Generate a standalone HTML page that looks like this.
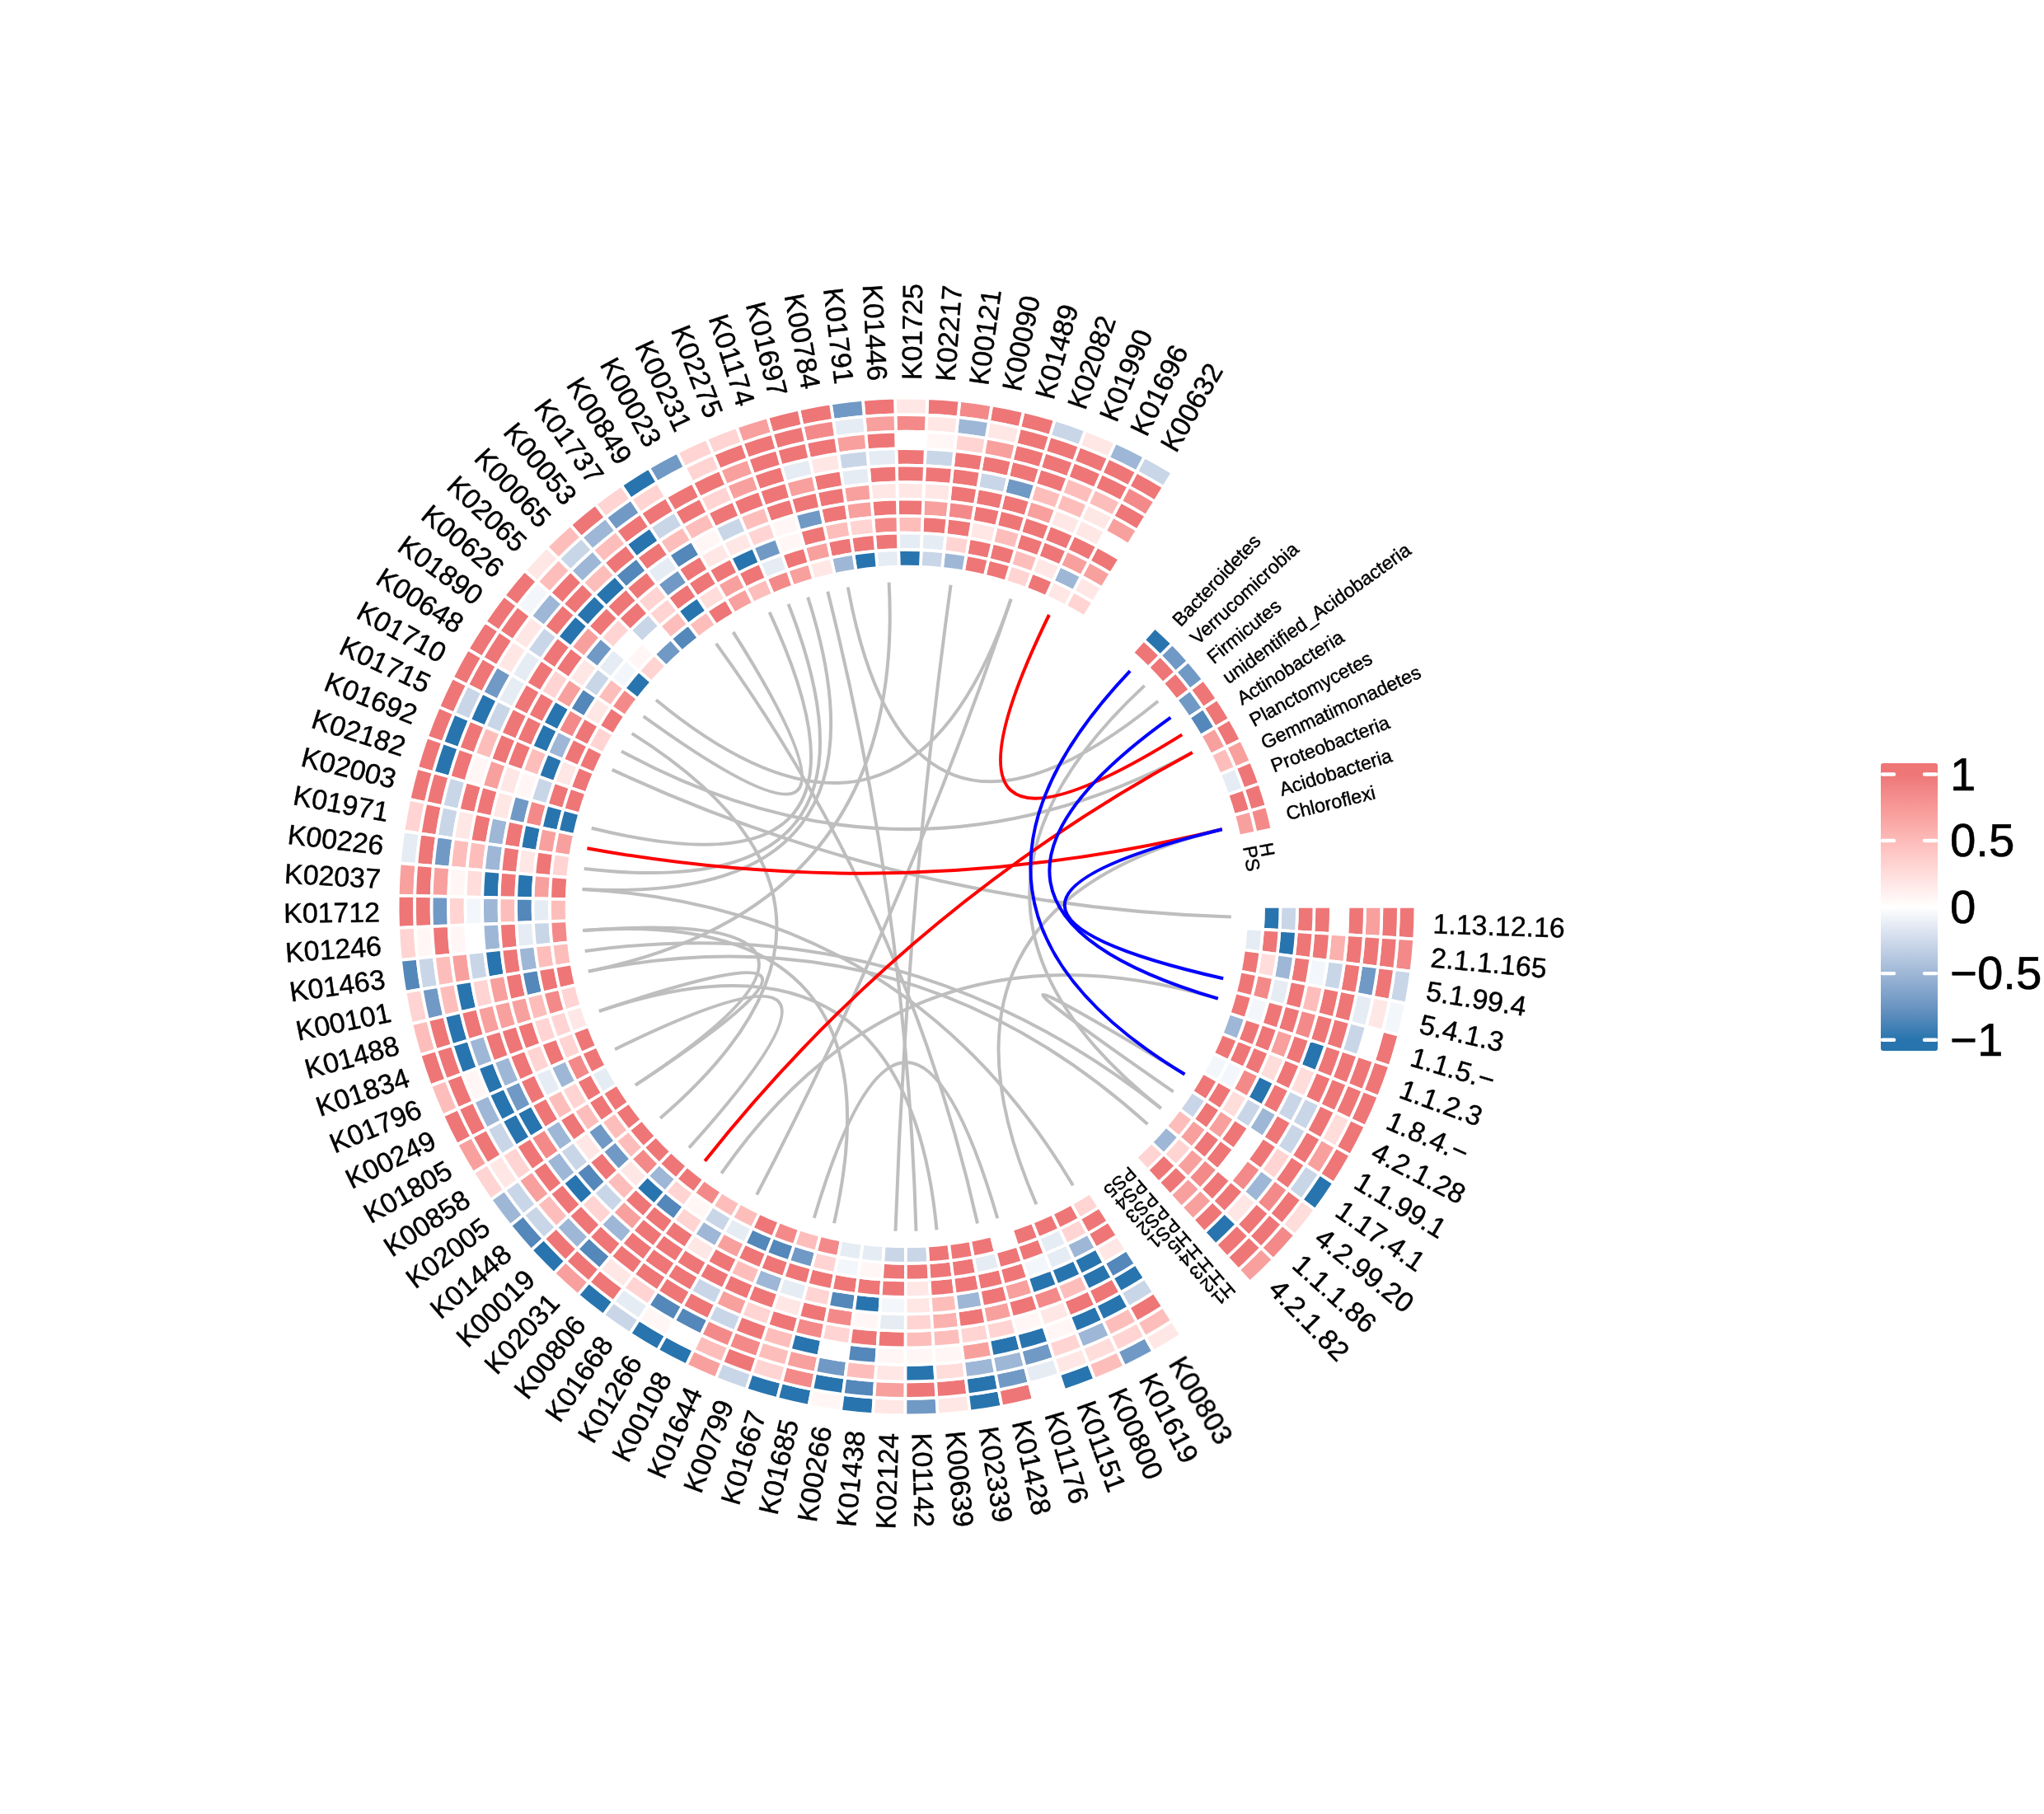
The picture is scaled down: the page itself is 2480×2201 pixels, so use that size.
<!DOCTYPE html>
<html><head><meta charset="utf-8"><title>circos heatmap</title>
<style>html,body{margin:0;padding:0;background:#fff;}body{width:2480px;height:2201px;overflow:hidden;font-family:"Liberation Sans",sans-serif;}svg{display:block;}text{text-rendering:geometricPrecision;}</style>
</head><body>
<svg width="2480" height="2201" viewBox="0 0 2480 2201">
<rect width="2480" height="2201" fill="#ffffff"/>
<g stroke="#ffffff" stroke-width="3.7" stroke-linejoin="miter">
<path d="M1411.88 591.06L1422.59 573.58A617.40 617.40 0 0 0 1388.48 554.14L1378.90 572.27A596.90 596.90 0 0 1 1411.88 591.06Z" fill="#c9d6e8"/>
<path d="M1401.17 608.54L1411.88 591.06A596.90 596.90 0 0 0 1378.90 572.27L1369.32 590.39A576.40 576.40 0 0 1 1401.17 608.54Z" fill="#ee7677"/>
<path d="M1390.46 626.02L1401.17 608.54A576.40 576.40 0 0 0 1369.32 590.39L1359.74 608.51A555.90 555.90 0 0 1 1390.46 626.02Z" fill="#f38a89"/>
<path d="M1379.75 643.50L1390.46 626.02A555.90 555.90 0 0 0 1359.74 608.51L1350.17 626.64A535.40 535.40 0 0 1 1379.75 643.50Z" fill="#ee7677"/>
<path d="M1369.03 660.98L1379.75 643.50A535.40 535.40 0 0 0 1350.17 626.64L1340.59 644.76A514.90 514.90 0 0 1 1369.03 660.98Z" fill="#f8a09e"/>
<path d="M1358.32 678.45L1369.03 660.98A514.90 514.90 0 0 0 1340.59 644.76L1331.01 662.89A494.40 494.40 0 0 1 1358.32 678.45Z" fill="#ffffff"/>
<path d="M1347.61 695.93L1358.32 678.45A494.40 494.40 0 0 0 1331.01 662.89L1321.43 681.01A473.90 473.90 0 0 1 1347.61 695.93Z" fill="#ee7677"/>
<path d="M1336.90 713.41L1347.61 695.93A473.90 473.90 0 0 0 1321.43 681.01L1311.85 699.14A453.40 453.40 0 0 1 1336.90 713.41Z" fill="#f8a09e"/>
<path d="M1326.19 730.89L1336.90 713.41A453.40 453.40 0 0 0 1311.85 699.14L1302.27 717.26A432.90 432.90 0 0 1 1326.19 730.89Z" fill="#ffe7e5"/>
<path d="M1315.48 748.37L1326.19 730.89A432.90 432.90 0 0 0 1302.27 717.26L1292.69 735.39A412.40 412.40 0 0 1 1315.48 748.37Z" fill="#ffd4d2"/>
<path d="M1378.90 572.27L1388.48 554.14A617.40 617.40 0 0 0 1353.20 536.91L1344.80 555.61A596.90 596.90 0 0 1 1378.90 572.27Z" fill="#9eb7d6"/>
<path d="M1369.32 590.39L1378.90 572.27A596.90 596.90 0 0 0 1344.80 555.61L1336.39 574.30A576.40 576.40 0 0 1 1369.32 590.39Z" fill="#ee7677"/>
<path d="M1359.74 608.51L1369.32 590.39A576.40 576.40 0 0 0 1336.39 574.30L1327.98 593.00A555.90 555.90 0 0 1 1359.74 608.51Z" fill="#ee7677"/>
<path d="M1350.17 626.64L1359.74 608.51A555.90 555.90 0 0 0 1327.98 593.00L1319.57 611.70A535.40 535.40 0 0 1 1350.17 626.64Z" fill="#fdbebb"/>
<path d="M1340.59 644.76L1350.17 626.64A535.40 535.40 0 0 0 1319.57 611.70L1311.17 630.39A514.90 514.90 0 0 1 1340.59 644.76Z" fill="#ffe7e5"/>
<path d="M1331.01 662.89L1340.59 644.76A514.90 514.90 0 0 0 1311.17 630.39L1302.76 649.09A494.40 494.40 0 0 1 1331.01 662.89Z" fill="#ffe7e5"/>
<path d="M1321.43 681.01L1331.01 662.89A494.40 494.40 0 0 0 1302.76 649.09L1294.35 667.79A473.90 473.90 0 0 1 1321.43 681.01Z" fill="#ee7677"/>
<path d="M1311.85 699.14L1321.43 681.01A473.90 473.90 0 0 0 1294.35 667.79L1285.95 686.48A453.40 453.40 0 0 1 1311.85 699.14Z" fill="#f8a09e"/>
<path d="M1302.27 717.26L1311.85 699.14A453.40 453.40 0 0 0 1285.95 686.48L1277.54 705.18A432.90 432.90 0 0 1 1302.27 717.26Z" fill="#9eb7d6"/>
<path d="M1292.69 735.39L1302.27 717.26A432.90 432.90 0 0 0 1277.54 705.18L1269.13 723.88A412.40 412.40 0 0 1 1292.69 735.39Z" fill="#ffe7e5"/>
<path d="M1344.80 555.61L1353.20 536.91A617.40 617.40 0 0 0 1316.90 521.96L1309.70 541.15A596.90 596.90 0 0 1 1344.80 555.61Z" fill="#ffe7e5"/>
<path d="M1336.39 574.30L1344.80 555.61A596.90 596.90 0 0 0 1309.70 541.15L1302.50 560.34A576.40 576.40 0 0 1 1336.39 574.30Z" fill="#ee7677"/>
<path d="M1327.98 593.00L1336.39 574.30A576.40 576.40 0 0 0 1302.50 560.34L1295.30 579.54A555.90 555.90 0 0 1 1327.98 593.00Z" fill="#ee7677"/>
<path d="M1319.57 611.70L1327.98 593.00A555.90 555.90 0 0 0 1295.30 579.54L1288.10 598.73A535.40 535.40 0 0 1 1319.57 611.70Z" fill="#fdbebb"/>
<path d="M1311.17 630.39L1319.57 611.70A535.40 535.40 0 0 0 1288.10 598.73L1280.89 617.92A514.90 514.90 0 0 1 1311.17 630.39Z" fill="#fdbebb"/>
<path d="M1302.76 649.09L1311.17 630.39A514.90 514.90 0 0 0 1280.89 617.92L1273.69 637.11A494.40 494.40 0 0 1 1302.76 649.09Z" fill="#ffe7e5"/>
<path d="M1294.35 667.79L1302.76 649.09A494.40 494.40 0 0 0 1273.69 637.11L1266.49 656.31A473.90 473.90 0 0 1 1294.35 667.79Z" fill="#ee7677"/>
<path d="M1285.95 686.48L1294.35 667.79A473.90 473.90 0 0 0 1266.49 656.31L1259.29 675.50A453.40 453.40 0 0 1 1285.95 686.48Z" fill="#ee7677"/>
<path d="M1277.54 705.18L1285.95 686.48A453.40 453.40 0 0 0 1259.29 675.50L1252.09 694.69A432.90 432.90 0 0 1 1277.54 705.18Z" fill="#ffe7e5"/>
<path d="M1269.13 723.88L1277.54 705.18A432.90 432.90 0 0 0 1252.09 694.69L1244.88 713.89A412.40 412.40 0 0 1 1269.13 723.88Z" fill="#ee7677"/>
<path d="M1309.70 541.15L1316.90 521.96A617.40 617.40 0 0 0 1279.73 509.34L1273.76 528.95A596.90 596.90 0 0 1 1309.70 541.15Z" fill="#c9d6e8"/>
<path d="M1302.50 560.34L1309.70 541.15A596.90 596.90 0 0 0 1273.76 528.95L1267.79 548.56A576.40 576.40 0 0 1 1302.50 560.34Z" fill="#ee7677"/>
<path d="M1295.30 579.54L1302.50 560.34A576.40 576.40 0 0 0 1267.79 548.56L1261.82 568.17A555.90 555.90 0 0 1 1295.30 579.54Z" fill="#ee7677"/>
<path d="M1288.10 598.73L1295.30 579.54A555.90 555.90 0 0 0 1261.82 568.17L1255.86 587.79A535.40 535.40 0 0 1 1288.10 598.73Z" fill="#ee7677"/>
<path d="M1280.89 617.92L1288.10 598.73A535.40 535.40 0 0 0 1255.86 587.79L1249.89 607.40A514.90 514.90 0 0 1 1280.89 617.92Z" fill="#fdbebb"/>
<path d="M1273.69 637.11L1280.89 617.92A514.90 514.90 0 0 0 1249.89 607.40L1243.92 627.01A494.40 494.40 0 0 1 1273.69 637.11Z" fill="#f8a09e"/>
<path d="M1266.49 656.31L1273.69 637.11A494.40 494.40 0 0 0 1243.92 627.01L1237.95 646.62A473.90 473.90 0 0 1 1266.49 656.31Z" fill="#ee7677"/>
<path d="M1259.29 675.50L1266.49 656.31A473.90 473.90 0 0 0 1237.95 646.62L1231.99 666.24A453.40 453.40 0 0 1 1259.29 675.50Z" fill="#ee7677"/>
<path d="M1252.09 694.69L1259.29 675.50A453.40 453.40 0 0 0 1231.99 666.24L1226.02 685.85A432.90 432.90 0 0 1 1252.09 694.69Z" fill="#fdbebb"/>
<path d="M1244.88 713.89L1252.09 694.69A432.90 432.90 0 0 0 1226.02 685.85L1220.05 705.46A412.40 412.40 0 0 1 1244.88 713.89Z" fill="#ffd4d2"/>
<path d="M1273.76 528.95L1279.73 509.34A617.40 617.40 0 0 0 1241.82 499.11L1237.11 519.06A596.90 596.90 0 0 1 1273.76 528.95Z" fill="#ee7677"/>
<path d="M1267.79 548.56L1273.76 528.95A596.90 596.90 0 0 0 1237.11 519.06L1232.40 539.01A576.40 576.40 0 0 1 1267.79 548.56Z" fill="#ee7677"/>
<path d="M1261.82 568.17L1267.79 548.56A576.40 576.40 0 0 0 1232.40 539.01L1227.69 558.96A555.90 555.90 0 0 1 1261.82 568.17Z" fill="#ee7677"/>
<path d="M1255.86 587.79L1261.82 568.17A555.90 555.90 0 0 0 1227.69 558.96L1222.99 578.92A535.40 535.40 0 0 1 1255.86 587.79Z" fill="#ee7677"/>
<path d="M1249.89 607.40L1255.86 587.79A535.40 535.40 0 0 0 1222.99 578.92L1218.28 598.87A514.90 514.90 0 0 1 1249.89 607.40Z" fill="#7199c5"/>
<path d="M1243.92 627.01L1249.89 607.40A514.90 514.90 0 0 0 1218.28 598.87L1213.57 618.82A494.40 494.40 0 0 1 1243.92 627.01Z" fill="#ee7677"/>
<path d="M1237.95 646.62L1243.92 627.01A494.40 494.40 0 0 0 1213.57 618.82L1208.86 638.77A473.90 473.90 0 0 1 1237.95 646.62Z" fill="#ee7677"/>
<path d="M1231.99 666.24L1237.95 646.62A473.90 473.90 0 0 0 1208.86 638.77L1204.15 658.72A453.40 453.40 0 0 1 1231.99 666.24Z" fill="#fdbebb"/>
<path d="M1226.02 685.85L1231.99 666.24A453.40 453.40 0 0 0 1204.15 658.72L1199.44 678.68A432.90 432.90 0 0 1 1226.02 685.85Z" fill="#ee7677"/>
<path d="M1220.05 705.46L1226.02 685.85A432.90 432.90 0 0 0 1199.44 678.68L1194.73 698.63A412.40 412.40 0 0 1 1220.05 705.46Z" fill="#ee7677"/>
<path d="M1237.11 519.06L1241.82 499.11A617.40 617.40 0 0 0 1203.34 491.31L1199.91 511.52A596.90 596.90 0 0 1 1237.11 519.06Z" fill="#ee7677"/>
<path d="M1232.40 539.01L1237.11 519.06A596.90 596.90 0 0 0 1199.91 511.52L1196.48 531.73A576.40 576.40 0 0 1 1232.40 539.01Z" fill="#ffe7e5"/>
<path d="M1227.69 558.96L1232.40 539.01A576.40 576.40 0 0 0 1196.48 531.73L1193.05 551.94A555.90 555.90 0 0 1 1227.69 558.96Z" fill="#f8a09e"/>
<path d="M1222.99 578.92L1227.69 558.96A555.90 555.90 0 0 0 1193.05 551.94L1189.62 572.15A535.40 535.40 0 0 1 1222.99 578.92Z" fill="#ee7677"/>
<path d="M1218.28 598.87L1222.99 578.92A535.40 535.40 0 0 0 1189.62 572.15L1186.19 592.36A514.90 514.90 0 0 1 1218.28 598.87Z" fill="#c9d6e8"/>
<path d="M1213.57 618.82L1218.28 598.87A514.90 514.90 0 0 0 1186.19 592.36L1182.76 612.58A494.40 494.40 0 0 1 1213.57 618.82Z" fill="#ee7677"/>
<path d="M1208.86 638.77L1213.57 618.82A494.40 494.40 0 0 0 1182.76 612.58L1179.32 632.79A473.90 473.90 0 0 1 1208.86 638.77Z" fill="#ee7677"/>
<path d="M1204.15 658.72L1208.86 638.77A473.90 473.90 0 0 0 1179.32 632.79L1175.89 653.00A453.40 453.40 0 0 1 1204.15 658.72Z" fill="#ffe7e5"/>
<path d="M1199.44 678.68L1204.15 658.72A453.40 453.40 0 0 0 1175.89 653.00L1172.46 673.21A432.90 432.90 0 0 1 1199.44 678.68Z" fill="#ee7677"/>
<path d="M1194.73 698.63L1199.44 678.68A432.90 432.90 0 0 0 1172.46 673.21L1169.03 693.42A412.40 412.40 0 0 1 1194.73 698.63Z" fill="#ee7677"/>
<path d="M1199.91 511.52L1203.34 491.31A617.40 617.40 0 0 0 1164.45 485.97L1162.31 506.36A596.90 596.90 0 0 1 1199.91 511.52Z" fill="#f38a89"/>
<path d="M1196.48 531.73L1199.91 511.52A596.90 596.90 0 0 0 1162.31 506.36L1160.17 526.75A576.40 576.40 0 0 1 1196.48 531.73Z" fill="#9eb7d6"/>
<path d="M1193.05 551.94L1196.48 531.73A576.40 576.40 0 0 0 1160.17 526.75L1158.03 547.14A555.90 555.90 0 0 1 1193.05 551.94Z" fill="#ffd4d2"/>
<path d="M1189.62 572.15L1193.05 551.94A555.90 555.90 0 0 0 1158.03 547.14L1155.89 567.52A535.40 535.40 0 0 1 1189.62 572.15Z" fill="#ee7677"/>
<path d="M1186.19 592.36L1189.62 572.15A535.40 535.40 0 0 0 1155.89 567.52L1153.75 587.91A514.90 514.90 0 0 1 1186.19 592.36Z" fill="#ee7677"/>
<path d="M1182.76 612.58L1186.19 592.36A514.90 514.90 0 0 0 1153.75 587.91L1151.61 608.30A494.40 494.40 0 0 1 1182.76 612.58Z" fill="#ee7677"/>
<path d="M1179.32 632.79L1182.76 612.58A494.40 494.40 0 0 0 1151.61 608.30L1149.47 628.69A473.90 473.90 0 0 1 1179.32 632.79Z" fill="#f38a89"/>
<path d="M1175.89 653.00L1179.32 632.79A473.90 473.90 0 0 0 1149.47 628.69L1147.33 649.08A453.40 453.40 0 0 1 1175.89 653.00Z" fill="#ee7677"/>
<path d="M1172.46 673.21L1175.89 653.00A453.40 453.40 0 0 0 1147.33 649.08L1145.19 669.46A432.90 432.90 0 0 1 1172.46 673.21Z" fill="#ffd4d2"/>
<path d="M1169.03 693.42L1172.46 673.21A432.90 432.90 0 0 0 1145.19 669.46L1143.05 689.85A412.40 412.40 0 0 1 1169.03 693.42Z" fill="#9eb7d6"/>
<path d="M1162.31 506.36L1164.45 485.97A617.40 617.40 0 0 0 1125.29 483.12L1124.45 503.60A596.90 596.90 0 0 1 1162.31 506.36Z" fill="#ee7677"/>
<path d="M1160.17 526.75L1162.31 506.36A596.90 596.90 0 0 0 1124.45 503.60L1123.61 524.08A576.40 576.40 0 0 1 1160.17 526.75Z" fill="#ffe7e5"/>
<path d="M1158.03 547.14L1160.17 526.75A576.40 576.40 0 0 0 1123.61 524.08L1122.77 544.57A555.90 555.90 0 0 1 1158.03 547.14Z" fill="#fff6f5"/>
<path d="M1155.89 567.52L1158.03 547.14A555.90 555.90 0 0 0 1122.77 544.57L1121.93 565.05A535.40 535.40 0 0 1 1155.89 567.52Z" fill="#c9d6e8"/>
<path d="M1153.75 587.91L1155.89 567.52A535.40 535.40 0 0 0 1121.93 565.05L1121.09 585.53A514.90 514.90 0 0 1 1153.75 587.91Z" fill="#ee7677"/>
<path d="M1151.61 608.30L1153.75 587.91A514.90 514.90 0 0 0 1121.09 585.53L1120.25 606.02A494.40 494.40 0 0 1 1151.61 608.30Z" fill="#ffe7e5"/>
<path d="M1149.47 628.69L1151.61 608.30A494.40 494.40 0 0 0 1120.25 606.02L1119.41 626.50A473.90 473.90 0 0 1 1149.47 628.69Z" fill="#f8a09e"/>
<path d="M1147.33 649.08L1149.47 628.69A473.90 473.90 0 0 0 1119.41 626.50L1118.57 646.98A453.40 453.40 0 0 1 1147.33 649.08Z" fill="#ee7677"/>
<path d="M1145.19 669.46L1147.33 649.08A453.40 453.40 0 0 0 1118.57 646.98L1117.73 667.46A432.90 432.90 0 0 1 1145.19 669.46Z" fill="#e6ecf4"/>
<path d="M1143.05 689.85L1145.19 669.46A432.90 432.90 0 0 0 1117.73 667.46L1116.89 687.95A412.40 412.40 0 0 1 1143.05 689.85Z" fill="#c9d6e8"/>
<path d="M1124.45 503.60L1125.29 483.12A617.40 617.40 0 0 0 1086.03 482.76L1086.50 503.25A596.90 596.90 0 0 1 1124.45 503.60Z" fill="#ffe7e5"/>
<path d="M1123.61 524.08L1124.45 503.60A596.90 596.90 0 0 0 1086.50 503.25L1086.96 523.75A576.40 576.40 0 0 1 1123.61 524.08Z" fill="#f38a89"/>
<path d="M1122.77 544.57L1123.61 524.08A576.40 576.40 0 0 0 1086.96 523.75L1087.42 544.24A555.90 555.90 0 0 1 1122.77 544.57Z" fill="#ffffff"/>
<path d="M1121.93 565.05L1122.77 544.57A555.90 555.90 0 0 0 1087.42 544.24L1087.89 564.74A535.40 535.40 0 0 1 1121.93 565.05Z" fill="#ee7677"/>
<path d="M1121.09 585.53L1121.93 565.05A535.40 535.40 0 0 0 1087.89 564.74L1088.35 585.23A514.90 514.90 0 0 1 1121.09 585.53Z" fill="#ee7677"/>
<path d="M1120.25 606.02L1121.09 585.53A514.90 514.90 0 0 0 1088.35 585.23L1088.82 605.73A494.40 494.40 0 0 1 1120.25 606.02Z" fill="#ffe7e5"/>
<path d="M1119.41 626.50L1120.25 606.02A494.40 494.40 0 0 0 1088.82 605.73L1089.28 626.22A473.90 473.90 0 0 1 1119.41 626.50Z" fill="#ee7677"/>
<path d="M1118.57 646.98L1119.41 626.50A473.90 473.90 0 0 0 1089.28 626.22L1089.74 646.72A453.40 453.40 0 0 1 1118.57 646.98Z" fill="#fdbebb"/>
<path d="M1117.73 667.46L1118.57 646.98A453.40 453.40 0 0 0 1089.74 646.72L1090.21 667.21A432.90 432.90 0 0 1 1117.73 667.46Z" fill="#e6ecf4"/>
<path d="M1116.89 687.95L1117.73 667.46A432.90 432.90 0 0 0 1090.21 667.21L1090.67 687.71A412.40 412.40 0 0 1 1116.89 687.95Z" fill="#2874ae"/>
<path d="M1086.50 503.25L1086.03 482.76A617.40 617.40 0 0 0 1046.83 484.89L1048.60 505.32A596.90 596.90 0 0 1 1086.50 503.25Z" fill="#ee7677"/>
<path d="M1086.96 523.75L1086.50 503.25A596.90 596.90 0 0 0 1048.60 505.32L1050.36 525.74A576.40 576.40 0 0 1 1086.96 523.75Z" fill="#f8a09e"/>
<path d="M1087.42 544.24L1086.96 523.75A576.40 576.40 0 0 0 1050.36 525.74L1052.13 546.17A555.90 555.90 0 0 1 1087.42 544.24Z" fill="#ee7677"/>
<path d="M1087.89 564.74L1087.42 544.24A555.90 555.90 0 0 0 1052.13 546.17L1053.89 566.59A535.40 535.40 0 0 1 1087.89 564.74Z" fill="#e6ecf4"/>
<path d="M1088.35 585.23L1087.89 564.74A535.40 535.40 0 0 0 1053.89 566.59L1055.66 587.01A514.90 514.90 0 0 1 1088.35 585.23Z" fill="#ee7677"/>
<path d="M1088.82 605.73L1088.35 585.23A514.90 514.90 0 0 0 1055.66 587.01L1057.42 607.44A494.40 494.40 0 0 1 1088.82 605.73Z" fill="#ffe7e5"/>
<path d="M1089.28 626.22L1088.82 605.73A494.40 494.40 0 0 0 1057.42 607.44L1059.19 627.86A473.90 473.90 0 0 1 1089.28 626.22Z" fill="#ee7677"/>
<path d="M1089.74 646.72L1089.28 626.22A473.90 473.90 0 0 0 1059.19 627.86L1060.95 648.28A453.40 453.40 0 0 1 1089.74 646.72Z" fill="#f38a89"/>
<path d="M1090.21 667.21L1089.74 646.72A453.40 453.40 0 0 0 1060.95 648.28L1062.72 668.71A432.90 432.90 0 0 1 1090.21 667.21Z" fill="#ee7677"/>
<path d="M1090.67 687.71L1090.21 667.21A432.90 432.90 0 0 0 1062.72 668.71L1064.49 689.13A412.40 412.40 0 0 1 1090.67 687.71Z" fill="#e6ecf4"/>
<path d="M1048.60 505.32L1046.83 484.89A617.40 617.40 0 0 0 1007.84 489.52L1010.90 509.79A596.90 596.90 0 0 1 1048.60 505.32Z" fill="#7199c5"/>
<path d="M1050.36 525.74L1048.60 505.32A596.90 596.90 0 0 0 1010.90 509.79L1013.96 530.06A576.40 576.40 0 0 1 1050.36 525.74Z" fill="#e6ecf4"/>
<path d="M1052.13 546.17L1050.36 525.74A576.40 576.40 0 0 0 1013.96 530.06L1017.02 550.33A555.90 555.90 0 0 1 1052.13 546.17Z" fill="#f8a09e"/>
<path d="M1053.89 566.59L1052.13 546.17A555.90 555.90 0 0 0 1017.02 550.33L1020.08 570.60A535.40 535.40 0 0 1 1053.89 566.59Z" fill="#c9d6e8"/>
<path d="M1055.66 587.01L1053.89 566.59A535.40 535.40 0 0 0 1020.08 570.60L1023.14 590.87A514.90 514.90 0 0 1 1055.66 587.01Z" fill="#e6ecf4"/>
<path d="M1057.42 607.44L1055.66 587.01A514.90 514.90 0 0 0 1023.14 590.87L1026.20 611.14A494.40 494.40 0 0 1 1057.42 607.44Z" fill="#f8a09e"/>
<path d="M1059.19 627.86L1057.42 607.44A494.40 494.40 0 0 0 1026.20 611.14L1029.26 631.41A473.90 473.90 0 0 1 1059.19 627.86Z" fill="#f8a09e"/>
<path d="M1060.95 648.28L1059.19 627.86A473.90 473.90 0 0 0 1029.26 631.41L1032.32 651.68A453.40 453.40 0 0 1 1060.95 648.28Z" fill="#ffd4d2"/>
<path d="M1062.72 668.71L1060.95 648.28A453.40 453.40 0 0 0 1032.32 651.68L1035.38 671.95A432.90 432.90 0 0 1 1062.72 668.71Z" fill="#ee7677"/>
<path d="M1064.49 689.13L1062.72 668.71A432.90 432.90 0 0 0 1035.38 671.95L1038.44 692.22A412.40 412.40 0 0 1 1064.49 689.13Z" fill="#2874ae"/>
<path d="M1010.90 509.79L1007.84 489.52A617.40 617.40 0 0 0 969.23 496.61L973.57 516.64A596.90 596.90 0 0 1 1010.90 509.79Z" fill="#ee7677"/>
<path d="M1013.96 530.06L1010.90 509.79A596.90 596.90 0 0 0 973.57 516.64L977.91 536.68A576.40 576.40 0 0 1 1013.96 530.06Z" fill="#f38a89"/>
<path d="M1017.02 550.33L1013.96 530.06A576.40 576.40 0 0 0 977.91 536.68L982.26 556.71A555.90 555.90 0 0 1 1017.02 550.33Z" fill="#ee7677"/>
<path d="M1020.08 570.60L1017.02 550.33A555.90 555.90 0 0 0 982.26 556.71L986.60 576.75A535.40 535.40 0 0 1 1020.08 570.60Z" fill="#ffe7e5"/>
<path d="M1023.14 590.87L1020.08 570.60A535.40 535.40 0 0 0 986.60 576.75L990.94 596.78A514.90 514.90 0 0 1 1023.14 590.87Z" fill="#ee7677"/>
<path d="M1026.20 611.14L1023.14 590.87A514.90 514.90 0 0 0 990.94 596.78L995.28 616.82A494.40 494.40 0 0 1 1026.20 611.14Z" fill="#ee7677"/>
<path d="M1029.26 631.41L1026.20 611.14A494.40 494.40 0 0 0 995.28 616.82L999.62 636.85A473.90 473.90 0 0 1 1029.26 631.41Z" fill="#ee7677"/>
<path d="M1032.32 651.68L1029.26 631.41A473.90 473.90 0 0 0 999.62 636.85L1003.97 656.89A453.40 453.40 0 0 1 1032.32 651.68Z" fill="#fdbebb"/>
<path d="M1035.38 671.95L1032.32 651.68A453.40 453.40 0 0 0 1003.97 656.89L1008.31 676.92A432.90 432.90 0 0 1 1035.38 671.95Z" fill="#ee7677"/>
<path d="M1038.44 692.22L1035.38 671.95A432.90 432.90 0 0 0 1008.31 676.92L1012.65 696.96A412.40 412.40 0 0 1 1038.44 692.22Z" fill="#9eb7d6"/>
<path d="M973.57 516.64L969.23 496.61A617.40 617.40 0 0 0 931.14 506.14L936.75 525.86A596.90 596.90 0 0 1 973.57 516.64Z" fill="#ee7677"/>
<path d="M977.91 536.68L973.57 516.64A596.90 596.90 0 0 0 936.75 525.86L942.36 545.58A576.40 576.40 0 0 1 977.91 536.68Z" fill="#ee7677"/>
<path d="M982.26 556.71L977.91 536.68A576.40 576.40 0 0 0 942.36 545.58L947.96 565.29A555.90 555.90 0 0 1 982.26 556.71Z" fill="#ee7677"/>
<path d="M986.60 576.75L982.26 556.71A555.90 555.90 0 0 0 947.96 565.29L953.57 585.01A535.40 535.40 0 0 1 986.60 576.75Z" fill="#e6ecf4"/>
<path d="M990.94 596.78L986.60 576.75A535.40 535.40 0 0 0 953.57 585.01L959.18 604.73A514.90 514.90 0 0 1 990.94 596.78Z" fill="#f8a09e"/>
<path d="M995.28 616.82L990.94 596.78A514.90 514.90 0 0 0 959.18 604.73L964.78 624.45A494.40 494.40 0 0 1 995.28 616.82Z" fill="#ee7677"/>
<path d="M999.62 636.85L995.28 616.82A494.40 494.40 0 0 0 964.78 624.45L970.39 644.17A473.90 473.90 0 0 1 999.62 636.85Z" fill="#7199c5"/>
<path d="M1003.97 656.89L999.62 636.85A473.90 473.90 0 0 0 970.39 644.17L976.00 663.89A453.40 453.40 0 0 1 1003.97 656.89Z" fill="#ee7677"/>
<path d="M1008.31 676.92L1003.97 656.89A453.40 453.40 0 0 0 976.00 663.89L981.60 683.61A432.90 432.90 0 0 1 1008.31 676.92Z" fill="#f8a09e"/>
<path d="M1012.65 696.96L1008.31 676.92A432.90 432.90 0 0 0 981.60 683.61L987.21 703.32A412.40 412.40 0 0 1 1012.65 696.96Z" fill="#ffe7e5"/>
<path d="M936.75 525.86L931.14 506.14A617.40 617.40 0 0 0 893.74 518.07L900.59 537.39A596.90 596.90 0 0 1 936.75 525.86Z" fill="#f8a09e"/>
<path d="M942.36 545.58L936.75 525.86A596.90 596.90 0 0 0 900.59 537.39L907.44 556.72A576.40 576.40 0 0 1 942.36 545.58Z" fill="#ee7677"/>
<path d="M947.96 565.29L942.36 545.58A576.40 576.40 0 0 0 907.44 556.72L914.29 576.04A555.90 555.90 0 0 1 947.96 565.29Z" fill="#ee7677"/>
<path d="M953.57 585.01L947.96 565.29A555.90 555.90 0 0 0 914.29 576.04L921.14 595.36A535.40 535.40 0 0 1 953.57 585.01Z" fill="#ee7677"/>
<path d="M959.18 604.73L953.57 585.01A535.40 535.40 0 0 0 921.14 595.36L927.98 614.68A514.90 514.90 0 0 1 959.18 604.73Z" fill="#ee7677"/>
<path d="M964.78 624.45L959.18 604.73A514.90 514.90 0 0 0 927.98 614.68L934.83 634.01A494.40 494.40 0 0 1 964.78 624.45Z" fill="#ee7677"/>
<path d="M970.39 644.17L964.78 624.45A494.40 494.40 0 0 0 934.83 634.01L941.68 653.33A473.90 473.90 0 0 1 970.39 644.17Z" fill="#fff6f5"/>
<path d="M976.00 663.89L970.39 644.17A473.90 473.90 0 0 0 941.68 653.33L948.53 672.65A453.40 453.40 0 0 1 976.00 663.89Z" fill="#fff6f5"/>
<path d="M981.60 683.61L976.00 663.89A453.40 453.40 0 0 0 948.53 672.65L955.38 691.97A432.90 432.90 0 0 1 981.60 683.61Z" fill="#ee7677"/>
<path d="M987.21 703.32L981.60 683.61A432.90 432.90 0 0 0 955.38 691.97L962.23 711.29A412.40 412.40 0 0 1 987.21 703.32Z" fill="#f8a09e"/>
<path d="M900.59 537.39L893.74 518.07A617.40 617.40 0 0 0 857.17 532.36L865.23 551.21A596.90 596.90 0 0 1 900.59 537.39Z" fill="#ffd4d2"/>
<path d="M907.44 556.72L900.59 537.39A596.90 596.90 0 0 0 865.23 551.21L873.30 570.05A576.40 576.40 0 0 1 907.44 556.72Z" fill="#ee7677"/>
<path d="M914.29 576.04L907.44 556.72A576.40 576.40 0 0 0 873.30 570.05L881.36 588.90A555.90 555.90 0 0 1 914.29 576.04Z" fill="#f8a09e"/>
<path d="M921.14 595.36L914.29 576.04A555.90 555.90 0 0 0 881.36 588.90L889.42 607.75A535.40 535.40 0 0 1 921.14 595.36Z" fill="#f8a09e"/>
<path d="M927.98 614.68L921.14 595.36A535.40 535.40 0 0 0 889.42 607.75L897.49 626.60A514.90 514.90 0 0 1 927.98 614.68Z" fill="#ee7677"/>
<path d="M934.83 634.01L927.98 614.68A514.90 514.90 0 0 0 897.49 626.60L905.55 645.45A494.40 494.40 0 0 1 934.83 634.01Z" fill="#fdbebb"/>
<path d="M941.68 653.33L934.83 634.01A494.40 494.40 0 0 0 905.55 645.45L913.61 664.29A473.90 473.90 0 0 1 941.68 653.33Z" fill="#ffd4d2"/>
<path d="M948.53 672.65L941.68 653.33A473.90 473.90 0 0 0 913.61 664.29L921.67 683.14A453.40 453.40 0 0 1 948.53 672.65Z" fill="#7199c5"/>
<path d="M955.38 691.97L948.53 672.65A453.40 453.40 0 0 0 921.67 683.14L929.74 701.99A432.90 432.90 0 0 1 955.38 691.97Z" fill="#e6ecf4"/>
<path d="M962.23 711.29L955.38 691.97A432.90 432.90 0 0 0 929.74 701.99L937.80 720.84A412.40 412.40 0 0 1 962.23 711.29Z" fill="#f38a89"/>
<path d="M865.23 551.21L857.17 532.36A617.40 617.40 0 0 0 821.59 548.94L830.83 567.24A596.90 596.90 0 0 1 865.23 551.21Z" fill="#ffd4d2"/>
<path d="M873.30 570.05L865.23 551.21A596.90 596.90 0 0 0 830.83 567.24L840.07 585.53A576.40 576.40 0 0 1 873.30 570.05Z" fill="#ffd4d2"/>
<path d="M881.36 588.90L873.30 570.05A576.40 576.40 0 0 0 840.07 585.53L849.32 603.83A555.90 555.90 0 0 1 881.36 588.90Z" fill="#ee7677"/>
<path d="M889.42 607.75L881.36 588.90A555.90 555.90 0 0 0 849.32 603.83L858.56 622.13A535.40 535.40 0 0 1 889.42 607.75Z" fill="#ffd4d2"/>
<path d="M897.49 626.60L889.42 607.75A535.40 535.40 0 0 0 858.56 622.13L867.81 640.43A514.90 514.90 0 0 1 897.49 626.60Z" fill="#ee7677"/>
<path d="M905.55 645.45L897.49 626.60A514.90 514.90 0 0 0 867.81 640.43L877.05 658.72A494.40 494.40 0 0 1 905.55 645.45Z" fill="#c9d6e8"/>
<path d="M913.61 664.29L905.55 645.45A494.40 494.40 0 0 0 877.05 658.72L886.30 677.02A473.90 473.90 0 0 1 913.61 664.29Z" fill="#ffe7e5"/>
<path d="M921.67 683.14L913.61 664.29A473.90 473.90 0 0 0 886.30 677.02L895.54 695.32A453.40 453.40 0 0 1 921.67 683.14Z" fill="#2874ae"/>
<path d="M929.74 701.99L921.67 683.14A453.40 453.40 0 0 0 895.54 695.32L904.78 713.61A432.90 432.90 0 0 1 929.74 701.99Z" fill="#ee7677"/>
<path d="M937.80 720.84L929.74 701.99A432.90 432.90 0 0 0 904.78 713.61L914.03 731.91A412.40 412.40 0 0 1 937.80 720.84Z" fill="#fdbebb"/>
<path d="M830.83 567.24L821.59 548.94A617.40 617.40 0 0 0 787.12 567.75L797.51 585.42A596.90 596.90 0 0 1 830.83 567.24Z" fill="#7199c5"/>
<path d="M840.07 585.53L830.83 567.24A596.90 596.90 0 0 0 797.51 585.42L807.90 603.09A576.40 576.40 0 0 1 840.07 585.53Z" fill="#ffffff"/>
<path d="M849.32 603.83L840.07 585.53A576.40 576.40 0 0 0 807.90 603.09L818.29 620.77A555.90 555.90 0 0 1 849.32 603.83Z" fill="#ee7677"/>
<path d="M858.56 622.13L849.32 603.83A555.90 555.90 0 0 0 818.29 620.77L828.68 638.44A535.40 535.40 0 0 1 858.56 622.13Z" fill="#ee7677"/>
<path d="M867.81 640.43L858.56 622.13A535.40 535.40 0 0 0 828.68 638.44L839.07 656.11A514.90 514.90 0 0 1 867.81 640.43Z" fill="#fdbebb"/>
<path d="M877.05 658.72L867.81 640.43A514.90 514.90 0 0 0 839.07 656.11L849.46 673.79A494.40 494.40 0 0 1 877.05 658.72Z" fill="#fff6f5"/>
<path d="M886.30 677.02L877.05 658.72A494.40 494.40 0 0 0 849.46 673.79L859.84 691.46A473.90 473.90 0 0 1 886.30 677.02Z" fill="#ffe7e5"/>
<path d="M895.54 695.32L886.30 677.02A473.90 473.90 0 0 0 859.84 691.46L870.23 709.13A453.40 453.40 0 0 1 895.54 695.32Z" fill="#ee7677"/>
<path d="M904.78 713.61L895.54 695.32A453.40 453.40 0 0 0 870.23 709.13L880.62 726.80A432.90 432.90 0 0 1 904.78 713.61Z" fill="#f8a09e"/>
<path d="M914.03 731.91L904.78 713.61A432.90 432.90 0 0 0 880.62 726.80L891.01 744.48A412.40 412.40 0 0 1 914.03 731.91Z" fill="#f8a09e"/>
<path d="M797.51 585.42L787.12 567.75A617.40 617.40 0 0 0 753.93 588.71L765.42 605.69A596.90 596.90 0 0 1 797.51 585.42Z" fill="#2874ae"/>
<path d="M807.90 603.09L797.51 585.42A596.90 596.90 0 0 0 765.42 605.69L776.91 622.66A576.40 576.40 0 0 1 807.90 603.09Z" fill="#ffd4d2"/>
<path d="M818.29 620.77L807.90 603.09A576.40 576.40 0 0 0 776.91 622.66L788.40 639.64A555.90 555.90 0 0 1 818.29 620.77Z" fill="#ee7677"/>
<path d="M828.68 638.44L818.29 620.77A555.90 555.90 0 0 0 788.40 639.64L799.89 656.62A535.40 535.40 0 0 1 828.68 638.44Z" fill="#c9d6e8"/>
<path d="M839.07 656.11L828.68 638.44A535.40 535.40 0 0 0 799.89 656.62L811.38 673.59A514.90 514.90 0 0 1 839.07 656.11Z" fill="#fdbebb"/>
<path d="M849.46 673.79L839.07 656.11A514.90 514.90 0 0 0 811.38 673.59L822.87 690.57A494.40 494.40 0 0 1 849.46 673.79Z" fill="#5487ba"/>
<path d="M859.84 691.46L849.46 673.79A494.40 494.40 0 0 0 822.87 690.57L834.36 707.55A473.90 473.90 0 0 1 859.84 691.46Z" fill="#ee7677"/>
<path d="M870.23 709.13L859.84 691.46A473.90 473.90 0 0 0 834.36 707.55L845.86 724.52A453.40 453.40 0 0 1 870.23 709.13Z" fill="#ee7677"/>
<path d="M880.62 726.80L870.23 709.13A453.40 453.40 0 0 0 845.86 724.52L857.35 741.50A432.90 432.90 0 0 1 880.62 726.80Z" fill="#ffdddb"/>
<path d="M891.01 744.48L880.62 726.80A432.90 432.90 0 0 0 857.35 741.50L868.84 758.48A412.40 412.40 0 0 1 891.01 744.48Z" fill="#ee7677"/>
<path d="M765.42 605.69L753.93 588.71A617.40 617.40 0 0 0 722.13 611.74L734.68 627.95A596.90 596.90 0 0 1 765.42 605.69Z" fill="#ffd4d2"/>
<path d="M776.91 622.66L765.42 605.69A596.90 596.90 0 0 0 734.68 627.95L747.22 644.16A576.40 576.40 0 0 1 776.91 622.66Z" fill="#7199c5"/>
<path d="M788.40 639.64L776.91 622.66A576.40 576.40 0 0 0 747.22 644.16L759.77 660.38A555.90 555.90 0 0 1 788.40 639.64Z" fill="#ee7677"/>
<path d="M799.89 656.62L788.40 639.64A555.90 555.90 0 0 0 759.77 660.38L772.32 676.59A535.40 535.40 0 0 1 799.89 656.62Z" fill="#2874ae"/>
<path d="M811.38 673.59L799.89 656.62A535.40 535.40 0 0 0 772.32 676.59L784.86 692.80A514.90 514.90 0 0 1 811.38 673.59Z" fill="#ee7677"/>
<path d="M822.87 690.57L811.38 673.59A514.90 514.90 0 0 0 784.86 692.80L797.41 709.01A494.40 494.40 0 0 1 822.87 690.57Z" fill="#e6ecf4"/>
<path d="M834.36 707.55L822.87 690.57A494.40 494.40 0 0 0 797.41 709.01L809.96 725.22A473.90 473.90 0 0 1 834.36 707.55Z" fill="#7199c5"/>
<path d="M845.86 724.52L834.36 707.55A473.90 473.90 0 0 0 809.96 725.22L822.50 741.44A453.40 453.40 0 0 1 845.86 724.52Z" fill="#ee7677"/>
<path d="M857.35 741.50L845.86 724.52A453.40 453.40 0 0 0 822.50 741.44L835.05 757.65A432.90 432.90 0 0 1 857.35 741.50Z" fill="#2874ae"/>
<path d="M868.84 758.48L857.35 741.50A432.90 432.90 0 0 0 835.05 757.65L847.60 773.86A412.40 412.40 0 0 1 868.84 758.48Z" fill="#fdbebb"/>
<path d="M734.68 627.95L722.13 611.74A617.40 617.40 0 0 0 691.86 636.74L705.41 652.13A596.90 596.90 0 0 1 734.68 627.95Z" fill="#ee7677"/>
<path d="M747.22 644.16L734.68 627.95A596.90 596.90 0 0 0 705.41 652.13L718.97 667.51A576.40 576.40 0 0 1 747.22 644.16Z" fill="#9eb7d6"/>
<path d="M759.77 660.38L747.22 644.16A576.40 576.40 0 0 0 718.97 667.51L732.52 682.89A555.90 555.90 0 0 1 759.77 660.38Z" fill="#fdbebb"/>
<path d="M772.32 676.59L759.77 660.38A555.90 555.90 0 0 0 732.52 682.89L746.07 698.27A535.40 535.40 0 0 1 772.32 676.59Z" fill="#ee7677"/>
<path d="M784.86 692.80L772.32 676.59A535.40 535.40 0 0 0 746.07 698.27L759.62 713.65A514.90 514.90 0 0 1 784.86 692.80Z" fill="#5487ba"/>
<path d="M797.41 709.01L784.86 692.80A514.90 514.90 0 0 0 759.62 713.65L773.17 729.03A494.40 494.40 0 0 1 797.41 709.01Z" fill="#ee7677"/>
<path d="M809.96 725.22L797.41 709.01A494.40 494.40 0 0 0 773.17 729.03L786.72 744.42A473.90 473.90 0 0 1 809.96 725.22Z" fill="#ffd4d2"/>
<path d="M822.50 741.44L809.96 725.22A473.90 473.90 0 0 0 786.72 744.42L800.28 759.80A453.40 453.40 0 0 1 822.50 741.44Z" fill="#ffd4d2"/>
<path d="M835.05 757.65L822.50 741.44A453.40 453.40 0 0 0 800.28 759.80L813.83 775.18A432.90 432.90 0 0 1 835.05 757.65Z" fill="#fdbebb"/>
<path d="M847.60 773.86L835.05 757.65A432.90 432.90 0 0 0 813.83 775.18L827.38 790.56A412.40 412.40 0 0 1 847.60 773.86Z" fill="#5487ba"/>
<path d="M705.41 652.13L691.86 636.74A617.40 617.40 0 0 0 663.24 663.62L677.75 678.11A596.90 596.90 0 0 1 705.41 652.13Z" fill="#fdbebb"/>
<path d="M718.97 667.51L705.41 652.13A596.90 596.90 0 0 0 677.75 678.11L692.25 692.60A576.40 576.40 0 0 1 718.97 667.51Z" fill="#c9d6e8"/>
<path d="M732.52 682.89L718.97 667.51A576.40 576.40 0 0 0 692.25 692.60L706.75 707.09A555.90 555.90 0 0 1 732.52 682.89Z" fill="#9eb7d6"/>
<path d="M746.07 698.27L732.52 682.89A555.90 555.90 0 0 0 706.75 707.09L721.25 721.58A535.40 535.40 0 0 1 746.07 698.27Z" fill="#fdbebb"/>
<path d="M759.62 713.65L746.07 698.27A535.40 535.40 0 0 0 721.25 721.58L735.75 736.07A514.90 514.90 0 0 1 759.62 713.65Z" fill="#2874ae"/>
<path d="M773.17 729.03L759.62 713.65A514.90 514.90 0 0 0 735.75 736.07L750.26 750.56A494.40 494.40 0 0 1 773.17 729.03Z" fill="#ee7677"/>
<path d="M786.72 744.42L773.17 729.03A494.40 494.40 0 0 0 750.26 750.56L764.76 765.05A473.90 473.90 0 0 1 786.72 744.42Z" fill="#ee7677"/>
<path d="M800.28 759.80L786.72 744.42A473.90 473.90 0 0 0 764.76 765.05L779.26 779.54A453.40 453.40 0 0 1 800.28 759.80Z" fill="#c9d6e8"/>
<path d="M813.83 775.18L800.28 759.80A453.40 453.40 0 0 0 779.26 779.54L793.76 794.03A432.90 432.90 0 0 1 813.83 775.18Z" fill="#ffffff"/>
<path d="M827.38 790.56L813.83 775.18A432.90 432.90 0 0 0 793.76 794.03L808.26 808.51A412.40 412.40 0 0 1 827.38 790.56Z" fill="#7199c5"/>
<path d="M677.75 678.11L663.24 663.62A617.40 617.40 0 0 0 636.39 692.26L651.79 705.80A596.90 596.90 0 0 1 677.75 678.11Z" fill="#ffe7e5"/>
<path d="M692.25 692.60L677.75 678.11A596.90 596.90 0 0 0 651.79 705.80L667.18 719.34A576.40 576.40 0 0 1 692.25 692.60Z" fill="#fdbebb"/>
<path d="M706.75 707.09L692.25 692.60A576.40 576.40 0 0 0 667.18 719.34L682.57 732.88A555.90 555.90 0 0 1 706.75 707.09Z" fill="#ee7677"/>
<path d="M721.25 721.58L706.75 707.09A555.90 555.90 0 0 0 682.57 732.88L697.97 746.42A535.40 535.40 0 0 1 721.25 721.58Z" fill="#ee7677"/>
<path d="M735.75 736.07L721.25 721.58A535.40 535.40 0 0 0 697.97 746.42L713.36 759.95A514.90 514.90 0 0 1 735.75 736.07Z" fill="#2874ae"/>
<path d="M750.26 750.56L735.75 736.07A514.90 514.90 0 0 0 713.36 759.95L728.75 773.49A494.40 494.40 0 0 1 750.26 750.56Z" fill="#ee7677"/>
<path d="M764.76 765.05L750.26 750.56A494.40 494.40 0 0 0 728.75 773.49L744.15 787.03A473.90 473.90 0 0 1 764.76 765.05Z" fill="#ffd4d2"/>
<path d="M779.26 779.54L764.76 765.05A473.90 473.90 0 0 0 744.15 787.03L759.54 800.57A453.40 453.40 0 0 1 779.26 779.54Z" fill="#ffffff"/>
<path d="M793.76 794.03L779.26 779.54A453.40 453.40 0 0 0 759.54 800.57L774.93 814.11A432.90 432.90 0 0 1 793.76 794.03Z" fill="#fff6f5"/>
<path d="M808.26 808.51L793.76 794.03A432.90 432.90 0 0 0 774.93 814.11L790.33 827.65A412.40 412.40 0 0 1 808.26 808.51Z" fill="#ffd4d2"/>
<path d="M651.79 705.80L636.39 692.26A617.40 617.40 0 0 0 611.42 722.55L627.64 735.08A596.90 596.90 0 0 1 651.79 705.80Z" fill="#ee7677"/>
<path d="M667.18 719.34L651.79 705.80A596.90 596.90 0 0 0 627.64 735.08L643.86 747.62A576.40 576.40 0 0 1 667.18 719.34Z" fill="#f3f6fa"/>
<path d="M682.57 732.88L667.18 719.34A576.40 576.40 0 0 0 643.86 747.62L660.08 760.15A555.90 555.90 0 0 1 682.57 732.88Z" fill="#9eb7d6"/>
<path d="M697.97 746.42L682.57 732.88A555.90 555.90 0 0 0 660.08 760.15L676.31 772.68A535.40 535.40 0 0 1 697.97 746.42Z" fill="#ee7677"/>
<path d="M713.36 759.95L697.97 746.42A535.40 535.40 0 0 0 676.31 772.68L692.53 785.21A514.90 514.90 0 0 1 713.36 759.95Z" fill="#2874ae"/>
<path d="M728.75 773.49L713.36 759.95A514.90 514.90 0 0 0 692.53 785.21L708.75 797.75A494.40 494.40 0 0 1 728.75 773.49Z" fill="#f8a09e"/>
<path d="M744.15 787.03L728.75 773.49A494.40 494.40 0 0 0 708.75 797.75L724.98 810.28A473.90 473.90 0 0 1 744.15 787.03Z" fill="#7199c5"/>
<path d="M759.54 800.57L744.15 787.03A473.90 473.90 0 0 0 724.98 810.28L741.20 822.81A453.40 453.40 0 0 1 759.54 800.57Z" fill="#e6ecf4"/>
<path d="M774.93 814.11L759.54 800.57A453.40 453.40 0 0 0 741.20 822.81L757.42 835.35A432.90 432.90 0 0 1 774.93 814.11Z" fill="#f3f6fa"/>
<path d="M790.33 827.65L774.93 814.11A432.90 432.90 0 0 0 757.42 835.35L773.64 847.88A412.40 412.40 0 0 1 790.33 827.65Z" fill="#2874ae"/>
<path d="M627.64 735.08L611.42 722.55A617.40 617.40 0 0 0 588.41 754.37L605.40 765.84A596.90 596.90 0 0 1 627.64 735.08Z" fill="#ee7677"/>
<path d="M643.86 747.62L627.64 735.08A596.90 596.90 0 0 0 605.40 765.84L622.39 777.32A576.40 576.40 0 0 1 643.86 747.62Z" fill="#ee7677"/>
<path d="M660.08 760.15L643.86 747.62A576.40 576.40 0 0 0 622.39 777.32L639.37 788.80A555.90 555.90 0 0 1 660.08 760.15Z" fill="#ffe7e5"/>
<path d="M676.31 772.68L660.08 760.15A555.90 555.90 0 0 0 639.37 788.80L656.36 800.27A535.40 535.40 0 0 1 676.31 772.68Z" fill="#c9d6e8"/>
<path d="M692.53 785.21L676.31 772.68A535.40 535.40 0 0 0 656.36 800.27L673.35 811.75A514.90 514.90 0 0 1 692.53 785.21Z" fill="#ee7677"/>
<path d="M708.75 797.75L692.53 785.21A514.90 514.90 0 0 0 673.35 811.75L690.33 823.23A494.40 494.40 0 0 1 708.75 797.75Z" fill="#ee7677"/>
<path d="M724.98 810.28L708.75 797.75A494.40 494.40 0 0 0 690.33 823.23L707.32 834.70A473.90 473.90 0 0 1 724.98 810.28Z" fill="#ffe7e5"/>
<path d="M741.20 822.81L724.98 810.28A473.90 473.90 0 0 0 707.32 834.70L724.31 846.18A453.40 453.40 0 0 1 741.20 822.81Z" fill="#c9d6e8"/>
<path d="M757.42 835.35L741.20 822.81A453.40 453.40 0 0 0 724.31 846.18L741.29 857.65A432.90 432.90 0 0 1 757.42 835.35Z" fill="#fdbebb"/>
<path d="M773.64 847.88L757.42 835.35A432.90 432.90 0 0 0 741.29 857.65L758.28 869.13A412.40 412.40 0 0 1 773.64 847.88Z" fill="#f38a89"/>
<path d="M605.40 765.84L588.41 754.37A617.40 617.40 0 0 0 567.48 787.58L585.16 797.96A596.90 596.90 0 0 1 605.40 765.84Z" fill="#ee7677"/>
<path d="M622.39 777.32L605.40 765.84A596.90 596.90 0 0 0 585.16 797.96L602.84 808.33A576.40 576.40 0 0 1 622.39 777.32Z" fill="#ee7677"/>
<path d="M639.37 788.80L622.39 777.32A576.40 576.40 0 0 0 602.84 808.33L620.52 818.70A555.90 555.90 0 0 1 639.37 788.80Z" fill="#ffe7e5"/>
<path d="M656.36 800.27L639.37 788.80A555.90 555.90 0 0 0 620.52 818.70L638.21 829.08A535.40 535.40 0 0 1 656.36 800.27Z" fill="#e6ecf4"/>
<path d="M673.35 811.75L656.36 800.27A535.40 535.40 0 0 0 638.21 829.08L655.89 839.45A514.90 514.90 0 0 1 673.35 811.75Z" fill="#ee7677"/>
<path d="M690.33 823.23L673.35 811.75A514.90 514.90 0 0 0 655.89 839.45L673.57 849.82A494.40 494.40 0 0 1 690.33 823.23Z" fill="#ffd4d2"/>
<path d="M707.32 834.70L690.33 823.23A494.40 494.40 0 0 0 673.57 849.82L691.25 860.20A473.90 473.90 0 0 1 707.32 834.70Z" fill="#f8a09e"/>
<path d="M724.31 846.18L707.32 834.70A473.90 473.90 0 0 0 691.25 860.20L708.93 870.57A453.40 453.40 0 0 1 724.31 846.18Z" fill="#5487ba"/>
<path d="M741.29 857.65L724.31 846.18A453.40 453.40 0 0 0 708.93 870.57L726.61 880.94A432.90 432.90 0 0 1 741.29 857.65Z" fill="#ffe7e5"/>
<path d="M758.28 869.13L741.29 857.65A432.90 432.90 0 0 0 726.61 880.94L744.30 891.32A412.40 412.40 0 0 1 758.28 869.13Z" fill="#ee7677"/>
<path d="M585.16 797.96L567.48 787.58A617.40 617.40 0 0 0 548.70 822.06L567.01 831.29A596.90 596.90 0 0 1 585.16 797.96Z" fill="#ee7677"/>
<path d="M602.84 808.33L585.16 797.96A596.90 596.90 0 0 0 567.01 831.29L585.31 840.52A576.40 576.40 0 0 1 602.84 808.33Z" fill="#ee7677"/>
<path d="M620.52 818.70L602.84 808.33A576.40 576.40 0 0 0 585.31 840.52L603.62 849.75A555.90 555.90 0 0 1 620.52 818.70Z" fill="#7199c5"/>
<path d="M638.21 829.08L620.52 818.70A555.90 555.90 0 0 0 603.62 849.75L621.92 858.97A535.40 535.40 0 0 1 638.21 829.08Z" fill="#e6ecf4"/>
<path d="M655.89 839.45L638.21 829.08A535.40 535.40 0 0 0 621.92 858.97L640.23 868.20A514.90 514.90 0 0 1 655.89 839.45Z" fill="#ee7677"/>
<path d="M673.57 849.82L655.89 839.45A514.90 514.90 0 0 0 640.23 868.20L658.53 877.43A494.40 494.40 0 0 1 673.57 849.82Z" fill="#ee7677"/>
<path d="M691.25 860.20L673.57 849.82A494.40 494.40 0 0 0 658.53 877.43L676.84 886.66A473.90 473.90 0 0 1 691.25 860.20Z" fill="#2874ae"/>
<path d="M708.93 870.57L691.25 860.20A473.90 473.90 0 0 0 676.84 886.66L695.14 895.89A453.40 453.40 0 0 1 708.93 870.57Z" fill="#f38a89"/>
<path d="M726.61 880.94L708.93 870.57A453.40 453.40 0 0 0 695.14 895.89L713.45 905.12A432.90 432.90 0 0 1 726.61 880.94Z" fill="#ee7677"/>
<path d="M744.30 891.32L726.61 880.94A432.90 432.90 0 0 0 713.45 905.12L731.75 914.35A412.40 412.40 0 0 1 744.30 891.32Z" fill="#ffd4d2"/>
<path d="M567.01 831.29L548.70 822.06A617.40 617.40 0 0 0 532.15 857.66L551.00 865.71A596.90 596.90 0 0 1 567.01 831.29Z" fill="#ee7677"/>
<path d="M585.31 840.52L567.01 831.29A596.90 596.90 0 0 0 551.00 865.71L569.86 873.75A576.40 576.40 0 0 1 585.31 840.52Z" fill="#c9d6e8"/>
<path d="M603.62 849.75L585.31 840.52A576.40 576.40 0 0 0 569.86 873.75L588.71 881.80A555.90 555.90 0 0 1 603.62 849.75Z" fill="#2874ae"/>
<path d="M621.92 858.97L603.62 849.75A555.90 555.90 0 0 0 588.71 881.80L607.57 889.85A535.40 535.40 0 0 1 621.92 858.97Z" fill="#c9d6e8"/>
<path d="M640.23 868.20L621.92 858.97A535.40 535.40 0 0 0 607.57 889.85L626.42 897.89A514.90 514.90 0 0 1 640.23 868.20Z" fill="#ee7677"/>
<path d="M658.53 877.43L640.23 868.20A514.90 514.90 0 0 0 626.42 897.89L645.28 905.94A494.40 494.40 0 0 1 658.53 877.43Z" fill="#ee7677"/>
<path d="M676.84 886.66L658.53 877.43A494.40 494.40 0 0 0 645.28 905.94L664.13 913.99A473.90 473.90 0 0 1 676.84 886.66Z" fill="#2874ae"/>
<path d="M695.14 895.89L676.84 886.66A473.90 473.90 0 0 0 664.13 913.99L682.99 922.03A453.40 453.40 0 0 1 695.14 895.89Z" fill="#9eb7d6"/>
<path d="M713.45 905.12L695.14 895.89A453.40 453.40 0 0 0 682.99 922.03L701.84 930.08A432.90 432.90 0 0 1 713.45 905.12Z" fill="#ee7677"/>
<path d="M731.75 914.35L713.45 905.12A432.90 432.90 0 0 0 701.84 930.08L720.70 938.13A412.40 412.40 0 0 1 731.75 914.35Z" fill="#ee7677"/>
<path d="M551.00 865.71L532.15 857.66A617.40 617.40 0 0 0 517.90 894.24L537.22 901.07A596.90 596.90 0 0 1 551.00 865.71Z" fill="#ee7677"/>
<path d="M569.86 873.75L551.00 865.71A596.90 596.90 0 0 0 537.22 901.07L556.55 907.91A576.40 576.40 0 0 1 569.86 873.75Z" fill="#2874ae"/>
<path d="M588.71 881.80L569.86 873.75A576.40 576.40 0 0 0 556.55 907.91L575.88 914.74A555.90 555.90 0 0 1 588.71 881.80Z" fill="#ee7677"/>
<path d="M607.57 889.85L588.71 881.80A555.90 555.90 0 0 0 575.88 914.74L595.21 921.57A535.40 535.40 0 0 1 607.57 889.85Z" fill="#fdbebb"/>
<path d="M626.42 897.89L607.57 889.85A535.40 535.40 0 0 0 595.21 921.57L614.54 928.40A514.90 514.90 0 0 1 626.42 897.89Z" fill="#ee7677"/>
<path d="M645.28 905.94L626.42 897.89A514.90 514.90 0 0 0 614.54 928.40L633.86 935.23A494.40 494.40 0 0 1 645.28 905.94Z" fill="#ee7677"/>
<path d="M664.13 913.99L645.28 905.94A494.40 494.40 0 0 0 633.86 935.23L653.19 942.06A473.90 473.90 0 0 1 664.13 913.99Z" fill="#fdbebb"/>
<path d="M682.99 922.03L664.13 913.99A473.90 473.90 0 0 0 653.19 942.06L672.52 948.90A453.40 453.40 0 0 1 682.99 922.03Z" fill="#2874ae"/>
<path d="M701.84 930.08L682.99 922.03A453.40 453.40 0 0 0 672.52 948.90L691.85 955.73A432.90 432.90 0 0 1 701.84 930.08Z" fill="#ffe7e5"/>
<path d="M720.70 938.13L701.84 930.08A432.90 432.90 0 0 0 691.85 955.73L711.18 962.56A412.40 412.40 0 0 1 720.70 938.13Z" fill="#ee7677"/>
<path d="M537.22 901.07L517.90 894.24A617.40 617.40 0 0 0 505.99 931.65L525.72 937.24A596.90 596.90 0 0 1 537.22 901.07Z" fill="#ee7677"/>
<path d="M556.55 907.91L537.22 901.07A596.90 596.90 0 0 0 525.72 937.24L545.44 942.83A576.40 576.40 0 0 1 556.55 907.91Z" fill="#2874ae"/>
<path d="M575.88 914.74L556.55 907.91A576.40 576.40 0 0 0 545.44 942.83L565.16 948.42A555.90 555.90 0 0 1 575.88 914.74Z" fill="#ee7677"/>
<path d="M595.21 921.57L575.88 914.74A555.90 555.90 0 0 0 565.16 948.42L584.89 954.01A535.40 535.40 0 0 1 595.21 921.57Z" fill="#fff6f5"/>
<path d="M614.54 928.40L595.21 921.57A535.40 535.40 0 0 0 584.89 954.01L604.61 959.60A514.90 514.90 0 0 1 614.54 928.40Z" fill="#f8a09e"/>
<path d="M633.86 935.23L614.54 928.40A514.90 514.90 0 0 0 604.61 959.60L624.33 965.19A494.40 494.40 0 0 1 633.86 935.23Z" fill="#ffe7e5"/>
<path d="M653.19 942.06L633.86 935.23A494.40 494.40 0 0 0 624.33 965.19L644.06 970.78A473.90 473.90 0 0 1 653.19 942.06Z" fill="#fff6f5"/>
<path d="M672.52 948.90L653.19 942.06A473.90 473.90 0 0 0 644.06 970.78L663.78 976.37A453.40 453.40 0 0 1 672.52 948.90Z" fill="#c9d6e8"/>
<path d="M691.85 955.73L672.52 948.90A453.40 453.40 0 0 0 663.78 976.37L683.50 981.96A432.90 432.90 0 0 1 691.85 955.73Z" fill="#ee7677"/>
<path d="M711.18 962.56L691.85 955.73A432.90 432.90 0 0 0 683.50 981.96L703.23 987.55A412.40 412.40 0 0 1 711.18 962.56Z" fill="#ee7677"/>
<path d="M525.72 937.24L505.99 931.65A617.40 617.40 0 0 0 496.50 969.75L516.53 974.07A596.90 596.90 0 0 1 525.72 937.24Z" fill="#ee7677"/>
<path d="M545.44 942.83L525.72 937.24A596.90 596.90 0 0 0 516.53 974.07L536.57 978.40A576.40 576.40 0 0 1 545.44 942.83Z" fill="#ee7677"/>
<path d="M565.16 948.42L545.44 942.83A576.40 576.40 0 0 0 536.57 978.40L556.61 982.72A555.90 555.90 0 0 1 565.16 948.42Z" fill="#c9d6e8"/>
<path d="M584.89 954.01L565.16 948.42A555.90 555.90 0 0 0 556.61 982.72L576.65 987.05A535.40 535.40 0 0 1 584.89 954.01Z" fill="#ee7677"/>
<path d="M604.61 959.60L584.89 954.01A535.40 535.40 0 0 0 576.65 987.05L596.69 991.37A514.90 514.90 0 0 1 604.61 959.60Z" fill="#ee7677"/>
<path d="M624.33 965.19L604.61 959.60A514.90 514.90 0 0 0 596.69 991.37L616.73 995.70A494.40 494.40 0 0 1 624.33 965.19Z" fill="#ffe7e5"/>
<path d="M644.06 970.78L624.33 965.19A494.40 494.40 0 0 0 616.73 995.70L636.77 1000.02A473.90 473.90 0 0 1 644.06 970.78Z" fill="#7199c5"/>
<path d="M663.78 976.37L644.06 970.78A473.90 473.90 0 0 0 636.77 1000.02L656.80 1004.35A453.40 453.40 0 0 1 663.78 976.37Z" fill="#f38a89"/>
<path d="M683.50 981.96L663.78 976.37A453.40 453.40 0 0 0 656.80 1004.35L676.84 1008.67A432.90 432.90 0 0 1 683.50 981.96Z" fill="#2874ae"/>
<path d="M703.23 987.55L683.50 981.96A432.90 432.90 0 0 0 676.84 1008.67L696.88 1013.00A412.40 412.40 0 0 1 703.23 987.55Z" fill="#2874ae"/>
<path d="M516.53 974.07L496.50 969.75A617.40 617.40 0 0 0 489.44 1008.37L509.71 1011.41A596.90 596.90 0 0 1 516.53 974.07Z" fill="#ffd4d2"/>
<path d="M536.57 978.40L516.53 974.07A596.90 596.90 0 0 0 509.71 1011.41L529.98 1014.45A576.40 576.40 0 0 1 536.57 978.40Z" fill="#ee7677"/>
<path d="M556.61 982.72L536.57 978.40A576.40 576.40 0 0 0 529.98 1014.45L550.26 1017.50A555.90 555.90 0 0 1 556.61 982.72Z" fill="#c9d6e8"/>
<path d="M576.65 987.05L556.61 982.72A555.90 555.90 0 0 0 550.26 1017.50L570.53 1020.54A535.40 535.40 0 0 1 576.65 987.05Z" fill="#ffe7e5"/>
<path d="M596.69 991.37L576.65 987.05A535.40 535.40 0 0 0 570.53 1020.54L590.80 1023.58A514.90 514.90 0 0 1 596.69 991.37Z" fill="#ee7677"/>
<path d="M616.73 995.70L596.69 991.37A514.90 514.90 0 0 0 590.80 1023.58L611.08 1026.62A494.40 494.40 0 0 1 616.73 995.70Z" fill="#9eb7d6"/>
<path d="M636.77 1000.02L616.73 995.70A494.40 494.40 0 0 0 611.08 1026.62L631.35 1029.67A473.90 473.90 0 0 1 636.77 1000.02Z" fill="#ee7677"/>
<path d="M656.80 1004.35L636.77 1000.02A473.90 473.90 0 0 0 631.35 1029.67L651.62 1032.71A453.40 453.40 0 0 1 656.80 1004.35Z" fill="#2874ae"/>
<path d="M676.84 1008.67L656.80 1004.35A453.40 453.40 0 0 0 651.62 1032.71L671.89 1035.75A432.90 432.90 0 0 1 676.84 1008.67Z" fill="#f8a09e"/>
<path d="M696.88 1013.00L676.84 1008.67A432.90 432.90 0 0 0 671.89 1035.75L692.17 1038.79A412.40 412.40 0 0 1 696.88 1013.00Z" fill="#f8a09e"/>
<path d="M509.71 1011.41L489.44 1008.37A617.40 617.40 0 0 0 484.85 1047.36L505.27 1049.11A596.90 596.90 0 0 1 509.71 1011.41Z" fill="#e6ecf4"/>
<path d="M529.98 1014.45L509.71 1011.41A596.90 596.90 0 0 0 505.27 1049.11L525.70 1050.86A576.40 576.40 0 0 1 529.98 1014.45Z" fill="#ee7677"/>
<path d="M550.26 1017.50L529.98 1014.45A576.40 576.40 0 0 0 525.70 1050.86L546.12 1052.60A555.90 555.90 0 0 1 550.26 1017.50Z" fill="#7199c5"/>
<path d="M570.53 1020.54L550.26 1017.50A555.90 555.90 0 0 0 546.12 1052.60L566.55 1054.35A535.40 535.40 0 0 1 570.53 1020.54Z" fill="#fdbebb"/>
<path d="M590.80 1023.58L570.53 1020.54A535.40 535.40 0 0 0 566.55 1054.35L586.97 1056.10A514.90 514.90 0 0 1 590.80 1023.58Z" fill="#fdbebb"/>
<path d="M611.08 1026.62L590.80 1023.58A514.90 514.90 0 0 0 586.97 1056.10L607.40 1057.85A494.40 494.40 0 0 1 611.08 1026.62Z" fill="#9eb7d6"/>
<path d="M631.35 1029.67L611.08 1026.62A494.40 494.40 0 0 0 607.40 1057.85L627.83 1059.59A473.90 473.90 0 0 1 631.35 1029.67Z" fill="#ee7677"/>
<path d="M651.62 1032.71L631.35 1029.67A473.90 473.90 0 0 0 627.83 1059.59L648.25 1061.34A453.40 453.40 0 0 1 651.62 1032.71Z" fill="#ffe7e5"/>
<path d="M671.89 1035.75L651.62 1032.71A453.40 453.40 0 0 0 648.25 1061.34L668.68 1063.09A432.90 432.90 0 0 1 671.89 1035.75Z" fill="#ee7677"/>
<path d="M692.17 1038.79L671.89 1035.75A432.90 432.90 0 0 0 668.68 1063.09L689.10 1064.84A412.40 412.40 0 0 1 692.17 1038.79Z" fill="#ffd4d2"/>
<path d="M505.27 1049.11L484.85 1047.36A617.40 617.40 0 0 0 482.75 1086.56L503.24 1087.01A596.90 596.90 0 0 1 505.27 1049.11Z" fill="#f8a09e"/>
<path d="M525.70 1050.86L505.27 1049.11A596.90 596.90 0 0 0 503.24 1087.01L523.74 1087.46A576.40 576.40 0 0 1 525.70 1050.86Z" fill="#ee7677"/>
<path d="M546.12 1052.60L525.70 1050.86A576.40 576.40 0 0 0 523.74 1087.46L544.23 1087.90A555.90 555.90 0 0 1 546.12 1052.60Z" fill="#f8a09e"/>
<path d="M566.55 1054.35L546.12 1052.60A555.90 555.90 0 0 0 544.23 1087.90L564.73 1088.35A535.40 535.40 0 0 1 566.55 1054.35Z" fill="#fff6f5"/>
<path d="M586.97 1056.10L566.55 1054.35A535.40 535.40 0 0 0 564.73 1088.35L585.22 1088.79A514.90 514.90 0 0 1 586.97 1056.10Z" fill="#ffdddb"/>
<path d="M607.40 1057.85L586.97 1056.10A514.90 514.90 0 0 0 585.22 1088.79L605.72 1089.24A494.40 494.40 0 0 1 607.40 1057.85Z" fill="#2874ae"/>
<path d="M627.83 1059.59L607.40 1057.85A494.40 494.40 0 0 0 605.72 1089.24L626.21 1089.69A473.90 473.90 0 0 1 627.83 1059.59Z" fill="#ee7677"/>
<path d="M648.25 1061.34L627.83 1059.59A473.90 473.90 0 0 0 626.21 1089.69L646.71 1090.13A453.40 453.40 0 0 1 648.25 1061.34Z" fill="#2874ae"/>
<path d="M668.68 1063.09L648.25 1061.34A453.40 453.40 0 0 0 646.71 1090.13L667.20 1090.58A432.90 432.90 0 0 1 668.68 1063.09Z" fill="#f8a09e"/>
<path d="M689.10 1064.84L668.68 1063.09A432.90 432.90 0 0 0 667.20 1090.58L687.70 1091.03A412.40 412.40 0 0 1 689.10 1064.84Z" fill="#ee7677"/>
<path d="M503.24 1087.01L482.75 1086.56A617.40 617.40 0 0 0 483.14 1125.82L503.62 1124.96A596.90 596.90 0 0 1 503.24 1087.01Z" fill="#ee7677"/>
<path d="M523.74 1087.46L503.24 1087.01A596.90 596.90 0 0 0 503.62 1124.96L524.10 1124.11A576.40 576.40 0 0 1 523.74 1087.46Z" fill="#ee7677"/>
<path d="M544.23 1087.90L523.74 1087.46A576.40 576.40 0 0 0 524.10 1124.11L544.59 1123.25A555.90 555.90 0 0 1 544.23 1087.90Z" fill="#7199c5"/>
<path d="M564.73 1088.35L544.23 1087.90A555.90 555.90 0 0 0 544.59 1123.25L565.07 1122.39A535.40 535.40 0 0 1 564.73 1088.35Z" fill="#ffd4d2"/>
<path d="M585.22 1088.79L564.73 1088.35A535.40 535.40 0 0 0 565.07 1122.39L585.55 1121.53A514.90 514.90 0 0 1 585.22 1088.79Z" fill="#f3f6fa"/>
<path d="M605.72 1089.24L585.22 1088.79A514.90 514.90 0 0 0 585.55 1121.53L606.03 1120.68A494.40 494.40 0 0 1 605.72 1089.24Z" fill="#9eb7d6"/>
<path d="M626.21 1089.69L605.72 1089.24A494.40 494.40 0 0 0 606.03 1120.68L626.51 1119.82A473.90 473.90 0 0 1 626.21 1089.69Z" fill="#fdbebb"/>
<path d="M646.71 1090.13L626.21 1089.69A473.90 473.90 0 0 0 626.51 1119.82L647.00 1118.96A453.40 453.40 0 0 1 646.71 1090.13Z" fill="#5487ba"/>
<path d="M667.20 1090.58L646.71 1090.13A453.40 453.40 0 0 0 647.00 1118.96L667.48 1118.11A432.90 432.90 0 0 1 667.20 1090.58Z" fill="#e6ecf4"/>
<path d="M687.70 1091.03L667.20 1090.58A432.90 432.90 0 0 0 667.48 1118.11L687.96 1117.25A412.40 412.40 0 0 1 687.70 1091.03Z" fill="#fdbebb"/>
<path d="M503.62 1124.96L483.14 1125.82A617.40 617.40 0 0 0 486.03 1164.98L506.41 1162.82A596.90 596.90 0 0 1 503.62 1124.96Z" fill="#ffd4d2"/>
<path d="M524.10 1124.11L503.62 1124.96A596.90 596.90 0 0 0 506.41 1162.82L526.80 1160.66A576.40 576.40 0 0 1 524.10 1124.11Z" fill="#fff6f5"/>
<path d="M544.59 1123.25L524.10 1124.11A576.40 576.40 0 0 0 526.80 1160.66L547.19 1158.50A555.90 555.90 0 0 1 544.59 1123.25Z" fill="#ee7677"/>
<path d="M565.07 1122.39L544.59 1123.25A555.90 555.90 0 0 0 547.19 1158.50L567.57 1156.35A535.40 535.40 0 0 1 565.07 1122.39Z" fill="#fff6f5"/>
<path d="M585.55 1121.53L565.07 1122.39A535.40 535.40 0 0 0 567.57 1156.35L587.96 1154.19A514.90 514.90 0 0 1 585.55 1121.53Z" fill="#ffffff"/>
<path d="M606.03 1120.68L585.55 1121.53A514.90 514.90 0 0 0 587.96 1154.19L608.35 1152.03A494.40 494.40 0 0 1 606.03 1120.68Z" fill="#9eb7d6"/>
<path d="M626.51 1119.82L606.03 1120.68A494.40 494.40 0 0 0 608.35 1152.03L628.73 1149.87A473.90 473.90 0 0 1 626.51 1119.82Z" fill="#ee7677"/>
<path d="M647.00 1118.96L626.51 1119.82A473.90 473.90 0 0 0 628.73 1149.87L649.12 1147.72A453.40 453.40 0 0 1 647.00 1118.96Z" fill="#e6ecf4"/>
<path d="M667.48 1118.11L647.00 1118.96A453.40 453.40 0 0 0 649.12 1147.72L669.50 1145.56A432.90 432.90 0 0 1 667.48 1118.11Z" fill="#c9d6e8"/>
<path d="M687.96 1117.25L667.48 1118.11A432.90 432.90 0 0 0 669.50 1145.56L689.89 1143.40A412.40 412.40 0 0 1 687.96 1117.25Z" fill="#f38a89"/>
<path d="M506.41 1162.82L486.03 1164.98A617.40 617.40 0 0 0 491.40 1203.87L511.61 1200.42A596.90 596.90 0 0 1 506.41 1162.82Z" fill="#5487ba"/>
<path d="M526.80 1160.66L506.41 1162.82A596.90 596.90 0 0 0 511.61 1200.42L531.82 1196.97A576.40 576.40 0 0 1 526.80 1160.66Z" fill="#c9d6e8"/>
<path d="M547.19 1158.50L526.80 1160.66A576.40 576.40 0 0 0 531.82 1196.97L552.02 1193.52A555.90 555.90 0 0 1 547.19 1158.50Z" fill="#fdbebb"/>
<path d="M567.57 1156.35L547.19 1158.50A555.90 555.90 0 0 0 552.02 1193.52L572.23 1190.07A535.40 535.40 0 0 1 567.57 1156.35Z" fill="#f8a09e"/>
<path d="M587.96 1154.19L567.57 1156.35A535.40 535.40 0 0 0 572.23 1190.07L592.44 1186.62A514.90 514.90 0 0 1 587.96 1154.19Z" fill="#c9d6e8"/>
<path d="M608.35 1152.03L587.96 1154.19A514.90 514.90 0 0 0 592.44 1186.62L612.65 1183.17A494.40 494.40 0 0 1 608.35 1152.03Z" fill="#2874ae"/>
<path d="M628.73 1149.87L608.35 1152.03A494.40 494.40 0 0 0 612.65 1183.17L632.85 1179.73A473.90 473.90 0 0 1 628.73 1149.87Z" fill="#ee7677"/>
<path d="M649.12 1147.72L628.73 1149.87A473.90 473.90 0 0 0 632.85 1179.73L653.06 1176.28A453.40 453.40 0 0 1 649.12 1147.72Z" fill="#9eb7d6"/>
<path d="M669.50 1145.56L649.12 1147.72A453.40 453.40 0 0 0 653.06 1176.28L673.27 1172.83A432.90 432.90 0 0 1 669.50 1145.56Z" fill="#fdbebb"/>
<path d="M689.89 1143.40L669.50 1145.56A432.90 432.90 0 0 0 673.27 1172.83L693.48 1169.38A412.40 412.40 0 0 1 689.89 1143.40Z" fill="#fdbebb"/>
<path d="M511.61 1200.42L491.40 1203.87A617.40 617.40 0 0 0 499.23 1242.34L519.18 1237.61A596.90 596.90 0 0 1 511.61 1200.42Z" fill="#ffd4d2"/>
<path d="M531.82 1196.97L511.61 1200.42A596.90 596.90 0 0 0 519.18 1237.61L539.13 1232.89A576.40 576.40 0 0 1 531.82 1196.97Z" fill="#7199c5"/>
<path d="M552.02 1193.52L531.82 1196.97A576.40 576.40 0 0 0 539.13 1232.89L559.07 1228.16A555.90 555.90 0 0 1 552.02 1193.52Z" fill="#fdbebb"/>
<path d="M572.23 1190.07L552.02 1193.52A555.90 555.90 0 0 0 559.07 1228.16L579.02 1223.43A535.40 535.40 0 0 1 572.23 1190.07Z" fill="#2874ae"/>
<path d="M592.44 1186.62L572.23 1190.07A535.40 535.40 0 0 0 579.02 1223.43L598.97 1218.71A514.90 514.90 0 0 1 592.44 1186.62Z" fill="#ffd4d2"/>
<path d="M612.65 1183.17L592.44 1186.62A514.90 514.90 0 0 0 598.97 1218.71L618.92 1213.98A494.40 494.40 0 0 1 612.65 1183.17Z" fill="#f8a09e"/>
<path d="M632.85 1179.73L612.65 1183.17A494.40 494.40 0 0 0 618.92 1213.98L638.87 1209.25A473.90 473.90 0 0 1 632.85 1179.73Z" fill="#ee7677"/>
<path d="M653.06 1176.28L632.85 1179.73A473.90 473.90 0 0 0 638.87 1209.25L658.81 1204.53A453.40 453.40 0 0 1 653.06 1176.28Z" fill="#5487ba"/>
<path d="M673.27 1172.83L653.06 1176.28A453.40 453.40 0 0 0 658.81 1204.53L678.76 1199.80A432.90 432.90 0 0 1 673.27 1172.83Z" fill="#ee7677"/>
<path d="M693.48 1169.38L673.27 1172.83A432.90 432.90 0 0 0 678.76 1199.80L698.71 1195.08A412.40 412.40 0 0 1 693.48 1169.38Z" fill="#ee7677"/>
<path d="M519.18 1237.61L499.23 1242.34A617.40 617.40 0 0 0 509.49 1280.23L529.10 1274.25A596.90 596.90 0 0 1 519.18 1237.61Z" fill="#fdbebb"/>
<path d="M539.13 1232.89L519.18 1237.61A596.90 596.90 0 0 0 529.10 1274.25L548.71 1268.26A576.40 576.40 0 0 1 539.13 1232.89Z" fill="#ee7677"/>
<path d="M559.07 1228.16L539.13 1232.89A576.40 576.40 0 0 0 548.71 1268.26L568.31 1262.28A555.90 555.90 0 0 1 559.07 1228.16Z" fill="#2874ae"/>
<path d="M579.02 1223.43L559.07 1228.16A555.90 555.90 0 0 0 568.31 1262.28L587.92 1256.30A535.40 535.40 0 0 1 579.02 1223.43Z" fill="#ee7677"/>
<path d="M598.97 1218.71L579.02 1223.43A535.40 535.40 0 0 0 587.92 1256.30L607.53 1250.31A514.90 514.90 0 0 1 598.97 1218.71Z" fill="#f8a09e"/>
<path d="M618.92 1213.98L598.97 1218.71A514.90 514.90 0 0 0 607.53 1250.31L627.14 1244.33A494.40 494.40 0 0 1 618.92 1213.98Z" fill="#f8a09e"/>
<path d="M638.87 1209.25L618.92 1213.98A494.40 494.40 0 0 0 627.14 1244.33L646.74 1238.34A473.90 473.90 0 0 1 638.87 1209.25Z" fill="#f8a09e"/>
<path d="M658.81 1204.53L638.87 1209.25A473.90 473.90 0 0 0 646.74 1238.34L666.35 1232.36A453.40 453.40 0 0 1 658.81 1204.53Z" fill="#fdbebb"/>
<path d="M678.76 1199.80L658.81 1204.53A453.40 453.40 0 0 0 666.35 1232.36L685.96 1226.37A432.90 432.90 0 0 1 678.76 1199.80Z" fill="#f38a89"/>
<path d="M698.71 1195.08L678.76 1199.80A432.90 432.90 0 0 0 685.96 1226.37L705.56 1220.39A412.40 412.40 0 0 1 698.71 1195.08Z" fill="#ffd4d2"/>
<path d="M529.10 1274.25L509.49 1280.23A617.40 617.40 0 0 0 522.14 1317.40L541.33 1310.18A596.90 596.90 0 0 1 529.10 1274.25Z" fill="#ee7677"/>
<path d="M548.71 1268.26L529.10 1274.25A596.90 596.90 0 0 0 541.33 1310.18L560.52 1302.96A576.40 576.40 0 0 1 548.71 1268.26Z" fill="#ee7677"/>
<path d="M568.31 1262.28L548.71 1268.26A576.40 576.40 0 0 0 560.52 1302.96L579.70 1295.74A555.90 555.90 0 0 1 568.31 1262.28Z" fill="#2874ae"/>
<path d="M587.92 1256.30L568.31 1262.28A555.90 555.90 0 0 0 579.70 1295.74L598.89 1288.53A535.40 535.40 0 0 1 587.92 1256.30Z" fill="#9eb7d6"/>
<path d="M607.53 1250.31L587.92 1256.30A535.40 535.40 0 0 0 598.89 1288.53L618.08 1281.31A514.90 514.90 0 0 1 607.53 1250.31Z" fill="#ee7677"/>
<path d="M627.14 1244.33L607.53 1250.31A514.90 514.90 0 0 0 618.08 1281.31L637.26 1274.09A494.40 494.40 0 0 1 627.14 1244.33Z" fill="#ee7677"/>
<path d="M646.74 1238.34L627.14 1244.33A494.40 494.40 0 0 0 637.26 1274.09L656.45 1266.87A473.90 473.90 0 0 1 646.74 1238.34Z" fill="#ee7677"/>
<path d="M666.35 1232.36L646.74 1238.34A473.90 473.90 0 0 0 656.45 1266.87L675.64 1259.65A453.40 453.40 0 0 1 666.35 1232.36Z" fill="#ffd4d2"/>
<path d="M685.96 1226.37L666.35 1232.36A453.40 453.40 0 0 0 675.64 1259.65L694.83 1252.43A432.90 432.90 0 0 1 685.96 1226.37Z" fill="#ffd4d2"/>
<path d="M705.56 1220.39L685.96 1226.37A432.90 432.90 0 0 0 694.83 1252.43L714.01 1245.22A412.40 412.40 0 0 1 705.56 1220.39Z" fill="#ffe7e5"/>
<path d="M541.33 1310.18L522.14 1317.40A617.40 617.40 0 0 0 537.13 1353.69L555.82 1345.26A596.90 596.90 0 0 1 541.33 1310.18Z" fill="#fdbebb"/>
<path d="M560.52 1302.96L541.33 1310.18A596.90 596.90 0 0 0 555.82 1345.26L574.51 1336.84A576.40 576.40 0 0 1 560.52 1302.96Z" fill="#ee7677"/>
<path d="M579.70 1295.74L560.52 1302.96A576.40 576.40 0 0 0 574.51 1336.84L593.20 1328.42A555.90 555.90 0 0 1 579.70 1295.74Z" fill="#fff6f5"/>
<path d="M598.89 1288.53L579.70 1295.74A555.90 555.90 0 0 0 593.20 1328.42L611.89 1319.99A535.40 535.40 0 0 1 598.89 1288.53Z" fill="#2874ae"/>
<path d="M618.08 1281.31L598.89 1288.53A535.40 535.40 0 0 0 611.89 1319.99L630.58 1311.57A514.90 514.90 0 0 1 618.08 1281.31Z" fill="#9eb7d6"/>
<path d="M637.26 1274.09L618.08 1281.31A514.90 514.90 0 0 0 630.58 1311.57L649.26 1303.15A494.40 494.40 0 0 1 637.26 1274.09Z" fill="#ee7677"/>
<path d="M656.45 1266.87L637.26 1274.09A494.40 494.40 0 0 0 649.26 1303.15L667.95 1294.72A473.90 473.90 0 0 1 656.45 1266.87Z" fill="#ffd4d2"/>
<path d="M675.64 1259.65L656.45 1266.87A473.90 473.90 0 0 0 667.95 1294.72L686.64 1286.30A453.40 453.40 0 0 1 675.64 1259.65Z" fill="#ee7677"/>
<path d="M694.83 1252.43L675.64 1259.65A453.40 453.40 0 0 0 686.64 1286.30L705.33 1277.88A432.90 432.90 0 0 1 694.83 1252.43Z" fill="#ffd4d2"/>
<path d="M714.01 1245.22L694.83 1252.43A432.90 432.90 0 0 0 705.33 1277.88L724.02 1269.45A412.40 412.40 0 0 1 714.01 1245.22Z" fill="#ee7677"/>
<path d="M555.82 1345.26L537.13 1353.69A617.40 617.40 0 0 0 554.39 1388.95L572.51 1379.36A596.90 596.90 0 0 1 555.82 1345.26Z" fill="#ee7677"/>
<path d="M574.51 1336.84L555.82 1345.26A596.90 596.90 0 0 0 572.51 1379.36L590.62 1369.76A576.40 576.40 0 0 1 574.51 1336.84Z" fill="#ee7677"/>
<path d="M593.20 1328.42L574.51 1336.84A576.40 576.40 0 0 0 590.62 1369.76L608.74 1360.17A555.90 555.90 0 0 1 593.20 1328.42Z" fill="#9eb7d6"/>
<path d="M611.89 1319.99L593.20 1328.42A555.90 555.90 0 0 0 608.74 1360.17L626.85 1350.57A535.40 535.40 0 0 1 611.89 1319.99Z" fill="#2874ae"/>
<path d="M630.58 1311.57L611.89 1319.99A535.40 535.40 0 0 0 626.85 1350.57L644.97 1340.98A514.90 514.90 0 0 1 630.58 1311.57Z" fill="#7199c5"/>
<path d="M649.26 1303.15L630.58 1311.57A514.90 514.90 0 0 0 644.97 1340.98L663.09 1331.38A494.40 494.40 0 0 1 649.26 1303.15Z" fill="#ee7677"/>
<path d="M667.95 1294.72L649.26 1303.15A494.40 494.40 0 0 0 663.09 1331.38L681.20 1321.79A473.90 473.90 0 0 1 667.95 1294.72Z" fill="#e6ecf4"/>
<path d="M686.64 1286.30L667.95 1294.72A473.90 473.90 0 0 0 681.20 1321.79L699.32 1312.20A453.40 453.40 0 0 1 686.64 1286.30Z" fill="#9eb7d6"/>
<path d="M705.33 1277.88L686.64 1286.30A453.40 453.40 0 0 0 699.32 1312.20L717.44 1302.60A432.90 432.90 0 0 1 705.33 1277.88Z" fill="#f38a89"/>
<path d="M724.02 1269.45L705.33 1277.88A432.90 432.90 0 0 0 717.44 1302.60L735.55 1293.01A412.40 412.40 0 0 1 724.02 1269.45Z" fill="#ee7677"/>
<path d="M572.51 1379.36L554.39 1388.95A617.40 617.40 0 0 0 573.86 1423.04L591.33 1412.32A596.90 596.90 0 0 1 572.51 1379.36Z" fill="#f8a09e"/>
<path d="M590.62 1369.76L572.51 1379.36A596.90 596.90 0 0 0 591.33 1412.32L608.80 1401.59A576.40 576.40 0 0 1 590.62 1369.76Z" fill="#ee7677"/>
<path d="M608.74 1360.17L590.62 1369.76A576.40 576.40 0 0 0 608.80 1401.59L626.27 1390.86A555.90 555.90 0 0 1 608.74 1360.17Z" fill="#c9d6e8"/>
<path d="M626.85 1350.57L608.74 1360.17A555.90 555.90 0 0 0 626.27 1390.86L643.74 1380.14A535.40 535.40 0 0 1 626.85 1350.57Z" fill="#2874ae"/>
<path d="M644.97 1340.98L626.85 1350.57A535.40 535.40 0 0 0 643.74 1380.14L661.21 1369.41A514.90 514.90 0 0 1 644.97 1340.98Z" fill="#2874ae"/>
<path d="M663.09 1331.38L644.97 1340.98A514.90 514.90 0 0 0 661.21 1369.41L678.68 1358.69A494.40 494.40 0 0 1 663.09 1331.38Z" fill="#ee7677"/>
<path d="M681.20 1321.79L663.09 1331.38A494.40 494.40 0 0 0 678.68 1358.69L696.15 1347.96A473.90 473.90 0 0 1 681.20 1321.79Z" fill="#fdbebb"/>
<path d="M699.32 1312.20L681.20 1321.79A473.90 473.90 0 0 0 696.15 1347.96L713.62 1337.23A453.40 453.40 0 0 1 699.32 1312.20Z" fill="#ffd4d2"/>
<path d="M717.44 1302.60L699.32 1312.20A453.40 453.40 0 0 0 713.62 1337.23L731.09 1326.51A432.90 432.90 0 0 1 717.44 1302.60Z" fill="#ee7677"/>
<path d="M735.55 1293.01L717.44 1302.60A432.90 432.90 0 0 0 731.09 1326.51L748.56 1315.78A412.40 412.40 0 0 1 735.55 1293.01Z" fill="#e6ecf4"/>
<path d="M591.33 1412.32L573.86 1423.04A617.40 617.40 0 0 0 595.45 1455.83L612.21 1444.02A596.90 596.90 0 0 1 591.33 1412.32Z" fill="#ffd4d2"/>
<path d="M608.80 1401.59L591.33 1412.32A596.90 596.90 0 0 0 612.21 1444.02L628.96 1432.20A576.40 576.40 0 0 1 608.80 1401.59Z" fill="#ffe7e5"/>
<path d="M626.27 1390.86L608.80 1401.59A576.40 576.40 0 0 0 628.96 1432.20L645.71 1420.39A555.90 555.90 0 0 1 626.27 1390.86Z" fill="#ffd4d2"/>
<path d="M643.74 1380.14L626.27 1390.86A555.90 555.90 0 0 0 645.71 1420.39L662.46 1408.57A535.40 535.40 0 0 1 643.74 1380.14Z" fill="#ee7677"/>
<path d="M661.21 1369.41L643.74 1380.14A535.40 535.40 0 0 0 662.46 1408.57L679.22 1396.76A514.90 514.90 0 0 1 661.21 1369.41Z" fill="#f38a89"/>
<path d="M678.68 1358.69L661.21 1369.41A514.90 514.90 0 0 0 679.22 1396.76L695.97 1384.94A494.40 494.40 0 0 1 678.68 1358.69Z" fill="#9eb7d6"/>
<path d="M696.15 1347.96L678.68 1358.69A494.40 494.40 0 0 0 695.97 1384.94L712.72 1373.13A473.90 473.90 0 0 1 696.15 1347.96Z" fill="#ee7677"/>
<path d="M713.62 1337.23L696.15 1347.96A473.90 473.90 0 0 0 712.72 1373.13L729.48 1361.31A453.40 453.40 0 0 1 713.62 1337.23Z" fill="#fdbebb"/>
<path d="M731.09 1326.51L713.62 1337.23A453.40 453.40 0 0 0 729.48 1361.31L746.23 1349.50A432.90 432.90 0 0 1 731.09 1326.51Z" fill="#ee7677"/>
<path d="M748.56 1315.78L731.09 1326.51A432.90 432.90 0 0 0 746.23 1349.50L762.98 1337.68A412.40 412.40 0 0 1 748.56 1315.78Z" fill="#ee7677"/>
<path d="M612.21 1444.02L595.45 1455.83A617.40 617.40 0 0 0 619.09 1487.18L635.06 1474.32A596.90 596.90 0 0 1 612.21 1444.02Z" fill="#9eb7d6"/>
<path d="M628.96 1432.20L612.21 1444.02A596.90 596.90 0 0 0 635.06 1474.32L651.02 1461.47A576.40 576.40 0 0 1 628.96 1432.20Z" fill="#c9d6e8"/>
<path d="M645.71 1420.39L628.96 1432.20A576.40 576.40 0 0 0 651.02 1461.47L666.99 1448.61A555.90 555.90 0 0 1 645.71 1420.39Z" fill="#f8a09e"/>
<path d="M662.46 1408.57L645.71 1420.39A555.90 555.90 0 0 0 666.99 1448.61L682.96 1435.76A535.40 535.40 0 0 1 662.46 1408.57Z" fill="#ee7677"/>
<path d="M679.22 1396.76L662.46 1408.57A535.40 535.40 0 0 0 682.96 1435.76L698.93 1422.90A514.90 514.90 0 0 1 679.22 1396.76Z" fill="#9eb7d6"/>
<path d="M695.97 1384.94L679.22 1396.76A514.90 514.90 0 0 0 698.93 1422.90L714.90 1410.04A494.40 494.40 0 0 1 695.97 1384.94Z" fill="#c9d6e8"/>
<path d="M712.72 1373.13L695.97 1384.94A494.40 494.40 0 0 0 714.90 1410.04L730.87 1397.19A473.90 473.90 0 0 1 712.72 1373.13Z" fill="#ffe7e5"/>
<path d="M729.48 1361.31L712.72 1373.13A473.90 473.90 0 0 0 730.87 1397.19L746.83 1384.33A453.40 453.40 0 0 1 729.48 1361.31Z" fill="#7199c5"/>
<path d="M746.23 1349.50L729.48 1361.31A453.40 453.40 0 0 0 746.83 1384.33L762.80 1371.48A432.90 432.90 0 0 1 746.23 1349.50Z" fill="#fdbebb"/>
<path d="M762.98 1337.68L746.23 1349.50A432.90 432.90 0 0 0 762.80 1371.48L778.77 1358.62A412.40 412.40 0 0 1 762.98 1337.68Z" fill="#ee7677"/>
<path d="M635.06 1474.32L619.09 1487.18A617.40 617.40 0 0 0 644.67 1516.96L659.79 1503.12A596.90 596.90 0 0 1 635.06 1474.32Z" fill="#5487ba"/>
<path d="M651.02 1461.47L635.06 1474.32A596.90 596.90 0 0 0 659.79 1503.12L674.91 1489.27A576.40 576.40 0 0 1 651.02 1461.47Z" fill="#c9d6e8"/>
<path d="M666.99 1448.61L651.02 1461.47A576.40 576.40 0 0 0 674.91 1489.27L690.03 1475.43A555.90 555.90 0 0 1 666.99 1448.61Z" fill="#fdbebb"/>
<path d="M682.96 1435.76L666.99 1448.61A555.90 555.90 0 0 0 690.03 1475.43L705.14 1461.58A535.40 535.40 0 0 1 682.96 1435.76Z" fill="#ee7677"/>
<path d="M698.93 1422.90L682.96 1435.76A535.40 535.40 0 0 0 705.14 1461.58L720.26 1447.74A514.90 514.90 0 0 1 698.93 1422.90Z" fill="#2874ae"/>
<path d="M714.90 1410.04L698.93 1422.90A514.90 514.90 0 0 0 720.26 1447.74L735.38 1433.89A494.40 494.40 0 0 1 714.90 1410.04Z" fill="#5487ba"/>
<path d="M730.87 1397.19L714.90 1410.04A494.40 494.40 0 0 0 735.38 1433.89L750.50 1420.05A473.90 473.90 0 0 1 730.87 1397.19Z" fill="#ee7677"/>
<path d="M746.83 1384.33L730.87 1397.19A473.90 473.90 0 0 0 750.50 1420.05L765.62 1406.20A453.40 453.40 0 0 1 746.83 1384.33Z" fill="#7199c5"/>
<path d="M762.80 1371.48L746.83 1384.33A453.40 453.40 0 0 0 765.62 1406.20L780.74 1392.36A432.90 432.90 0 0 1 762.80 1371.48Z" fill="#fdbebb"/>
<path d="M778.77 1358.62L762.80 1371.48A432.90 432.90 0 0 0 780.74 1392.36L795.86 1378.51A412.40 412.40 0 0 1 778.77 1358.62Z" fill="#ee7677"/>
<path d="M659.79 1503.12L644.67 1516.96A617.40 617.40 0 0 0 672.09 1545.06L686.30 1530.28A596.90 596.90 0 0 1 659.79 1503.12Z" fill="#2874ae"/>
<path d="M674.91 1489.27L659.79 1503.12A596.90 596.90 0 0 0 686.30 1530.28L700.51 1515.50A576.40 576.40 0 0 1 674.91 1489.27Z" fill="#ee7677"/>
<path d="M690.03 1475.43L674.91 1489.27A576.40 576.40 0 0 0 700.51 1515.50L714.72 1500.73A555.90 555.90 0 0 1 690.03 1475.43Z" fill="#9eb7d6"/>
<path d="M705.14 1461.58L690.03 1475.43A555.90 555.90 0 0 0 714.72 1500.73L728.92 1485.95A535.40 535.40 0 0 1 705.14 1461.58Z" fill="#ee7677"/>
<path d="M720.26 1447.74L705.14 1461.58A535.40 535.40 0 0 0 728.92 1485.95L743.13 1471.17A514.90 514.90 0 0 1 720.26 1447.74Z" fill="#ffd4d2"/>
<path d="M735.38 1433.89L720.26 1447.74A514.90 514.90 0 0 0 743.13 1471.17L757.34 1456.39A494.40 494.40 0 0 1 735.38 1433.89Z" fill="#c9d6e8"/>
<path d="M750.50 1420.05L735.38 1433.89A494.40 494.40 0 0 0 757.34 1456.39L771.55 1441.61A473.90 473.90 0 0 1 750.50 1420.05Z" fill="#fdbebb"/>
<path d="M765.62 1406.20L750.50 1420.05A473.90 473.90 0 0 0 771.55 1441.61L785.76 1426.84A453.40 453.40 0 0 1 765.62 1406.20Z" fill="#ffe7e5"/>
<path d="M780.74 1392.36L765.62 1406.20A453.40 453.40 0 0 0 785.76 1426.84L799.96 1412.06A432.90 432.90 0 0 1 780.74 1392.36Z" fill="#f38a89"/>
<path d="M795.86 1378.51L780.74 1392.36A432.90 432.90 0 0 0 799.96 1412.06L814.17 1397.28A412.40 412.40 0 0 1 795.86 1378.51Z" fill="#ee7677"/>
<path d="M686.30 1530.28L672.09 1545.06A617.40 617.40 0 0 0 701.24 1571.35L714.48 1555.70A596.90 596.90 0 0 1 686.30 1530.28Z" fill="#f8a09e"/>
<path d="M700.51 1515.50L686.30 1530.28A596.90 596.90 0 0 0 714.48 1555.70L727.72 1540.05A576.40 576.40 0 0 1 700.51 1515.50Z" fill="#ee7677"/>
<path d="M714.72 1500.73L700.51 1515.50A576.40 576.40 0 0 0 727.72 1540.05L740.96 1524.40A555.90 555.90 0 0 1 714.72 1500.73Z" fill="#5487ba"/>
<path d="M728.92 1485.95L714.72 1500.73A555.90 555.90 0 0 0 740.96 1524.40L754.20 1508.75A535.40 535.40 0 0 1 728.92 1485.95Z" fill="#ee7677"/>
<path d="M743.13 1471.17L728.92 1485.95A535.40 535.40 0 0 0 754.20 1508.75L767.44 1493.10A514.90 514.90 0 0 1 743.13 1471.17Z" fill="#9eb7d6"/>
<path d="M757.34 1456.39L743.13 1471.17A514.90 514.90 0 0 0 767.44 1493.10L780.68 1477.45A494.40 494.40 0 0 1 757.34 1456.39Z" fill="#f8a09e"/>
<path d="M771.55 1441.61L757.34 1456.39A494.40 494.40 0 0 0 780.68 1477.45L793.92 1461.80A473.90 473.90 0 0 1 771.55 1441.61Z" fill="#ee7677"/>
<path d="M785.76 1426.84L771.55 1441.61A473.90 473.90 0 0 0 793.92 1461.80L807.16 1446.15A453.40 453.40 0 0 1 785.76 1426.84Z" fill="#2874ae"/>
<path d="M799.96 1412.06L785.76 1426.84A453.40 453.40 0 0 0 807.16 1446.15L820.40 1430.50A432.90 432.90 0 0 1 799.96 1412.06Z" fill="#9eb7d6"/>
<path d="M814.17 1397.28L799.96 1412.06A432.90 432.90 0 0 0 820.40 1430.50L833.65 1414.85A412.40 412.40 0 0 1 814.17 1397.28Z" fill="#ee7677"/>
<path d="M714.48 1555.70L701.24 1571.35A617.40 617.40 0 0 0 732.01 1595.75L744.23 1579.29A596.90 596.90 0 0 1 714.48 1555.70Z" fill="#2874ae"/>
<path d="M727.72 1540.05L714.48 1555.70A596.90 596.90 0 0 0 744.23 1579.29L756.44 1562.82A576.40 576.40 0 0 1 727.72 1540.05Z" fill="#ee7677"/>
<path d="M740.96 1524.40L727.72 1540.05A576.40 576.40 0 0 0 756.44 1562.82L768.66 1546.36A555.90 555.90 0 0 1 740.96 1524.40Z" fill="#ffe7e5"/>
<path d="M754.20 1508.75L740.96 1524.40A555.90 555.90 0 0 0 768.66 1546.36L780.88 1529.90A535.40 535.40 0 0 1 754.20 1508.75Z" fill="#ee7677"/>
<path d="M767.44 1493.10L754.20 1508.75A535.40 535.40 0 0 0 780.88 1529.90L793.10 1513.44A514.90 514.90 0 0 1 767.44 1493.10Z" fill="#ee7677"/>
<path d="M780.68 1477.45L767.44 1493.10A514.90 514.90 0 0 0 793.10 1513.44L805.32 1496.98A494.40 494.40 0 0 1 780.68 1477.45Z" fill="#ee7677"/>
<path d="M793.92 1461.80L780.68 1477.45A494.40 494.40 0 0 0 805.32 1496.98L817.54 1480.52A473.90 473.90 0 0 1 793.92 1461.80Z" fill="#ee7677"/>
<path d="M807.16 1446.15L793.92 1461.80A473.90 473.90 0 0 0 817.54 1480.52L829.76 1464.06A453.40 453.40 0 0 1 807.16 1446.15Z" fill="#5487ba"/>
<path d="M820.40 1430.50L807.16 1446.15A453.40 453.40 0 0 0 829.76 1464.06L841.98 1447.60A432.90 432.90 0 0 1 820.40 1430.50Z" fill="#ffd4d2"/>
<path d="M833.65 1414.85L820.40 1430.50A432.90 432.90 0 0 0 841.98 1447.60L854.19 1431.14A412.40 412.40 0 0 1 833.65 1414.85Z" fill="#ee7677"/>
<path d="M744.23 1579.29L732.01 1595.75A617.40 617.40 0 0 0 764.26 1618.13L775.41 1600.93A596.90 596.90 0 0 1 744.23 1579.29Z" fill="#c9d6e8"/>
<path d="M756.44 1562.82L744.23 1579.29A596.90 596.90 0 0 0 775.41 1600.93L786.56 1583.72A576.40 576.40 0 0 1 756.44 1562.82Z" fill="#e6ecf4"/>
<path d="M768.66 1546.36L756.44 1562.82A576.40 576.40 0 0 0 786.56 1583.72L797.70 1566.52A555.90 555.90 0 0 1 768.66 1546.36Z" fill="#ffd4d2"/>
<path d="M780.88 1529.90L768.66 1546.36A555.90 555.90 0 0 0 797.70 1566.52L808.85 1549.32A535.40 535.40 0 0 1 780.88 1529.90Z" fill="#ee7677"/>
<path d="M793.10 1513.44L780.88 1529.90A535.40 535.40 0 0 0 808.85 1549.32L820.00 1532.11A514.90 514.90 0 0 1 793.10 1513.44Z" fill="#ee7677"/>
<path d="M805.32 1496.98L793.10 1513.44A514.90 514.90 0 0 0 820.00 1532.11L831.15 1514.91A494.40 494.40 0 0 1 805.32 1496.98Z" fill="#ee7677"/>
<path d="M817.54 1480.52L805.32 1496.98A494.40 494.40 0 0 0 831.15 1514.91L842.29 1497.70A473.90 473.90 0 0 1 817.54 1480.52Z" fill="#ee7677"/>
<path d="M829.76 1464.06L817.54 1480.52A473.90 473.90 0 0 0 842.29 1497.70L853.44 1480.50A453.40 453.40 0 0 1 829.76 1464.06Z" fill="#ffd4d2"/>
<path d="M841.98 1447.60L829.76 1464.06A453.40 453.40 0 0 0 853.44 1480.50L864.59 1463.30A432.90 432.90 0 0 1 841.98 1447.60Z" fill="#fff6f5"/>
<path d="M854.19 1431.14L841.98 1447.60A432.90 432.90 0 0 0 864.59 1463.30L875.74 1446.09A412.40 412.40 0 0 1 854.19 1431.14Z" fill="#f38a89"/>
<path d="M775.41 1600.93L764.26 1618.13A617.40 617.40 0 0 0 797.87 1638.42L807.90 1620.55A596.90 596.90 0 0 1 775.41 1600.93Z" fill="#2874ae"/>
<path d="M786.56 1583.72L775.41 1600.93A596.90 596.90 0 0 0 807.90 1620.55L817.93 1602.67A576.40 576.40 0 0 1 786.56 1583.72Z" fill="#fff6f5"/>
<path d="M797.70 1566.52L786.56 1583.72A576.40 576.40 0 0 0 817.93 1602.67L827.96 1584.79A555.90 555.90 0 0 1 797.70 1566.52Z" fill="#5487ba"/>
<path d="M808.85 1549.32L797.70 1566.52A555.90 555.90 0 0 0 827.96 1584.79L838.00 1566.91A535.40 535.40 0 0 1 808.85 1549.32Z" fill="#ee7677"/>
<path d="M820.00 1532.11L808.85 1549.32A535.40 535.40 0 0 0 838.00 1566.91L848.03 1549.04A514.90 514.90 0 0 1 820.00 1532.11Z" fill="#ee7677"/>
<path d="M831.15 1514.91L820.00 1532.11A514.90 514.90 0 0 0 848.03 1549.04L858.06 1531.16A494.40 494.40 0 0 1 831.15 1514.91Z" fill="#ee7677"/>
<path d="M842.29 1497.70L831.15 1514.91A494.40 494.40 0 0 0 858.06 1531.16L868.09 1513.28A473.90 473.90 0 0 1 842.29 1497.70Z" fill="#ffe7e5"/>
<path d="M853.44 1480.50L842.29 1497.70A473.90 473.90 0 0 0 868.09 1513.28L878.12 1495.40A453.40 453.40 0 0 1 853.44 1480.50Z" fill="#9eb7d6"/>
<path d="M864.59 1463.30L853.44 1480.50A453.40 453.40 0 0 0 878.12 1495.40L888.16 1477.52A432.90 432.90 0 0 1 864.59 1463.30Z" fill="#c9d6e8"/>
<path d="M875.74 1446.09L864.59 1463.30A432.90 432.90 0 0 0 888.16 1477.52L898.19 1459.65A412.40 412.40 0 0 1 875.74 1446.09Z" fill="#fdbebb"/>
<path d="M807.90 1620.55L797.87 1638.42A617.40 617.40 0 0 0 832.70 1656.54L841.58 1638.06A596.90 596.90 0 0 1 807.90 1620.55Z" fill="#2874ae"/>
<path d="M817.93 1602.67L807.90 1620.55A596.90 596.90 0 0 0 841.58 1638.06L850.45 1619.58A576.40 576.40 0 0 1 817.93 1602.67Z" fill="#ffffff"/>
<path d="M827.96 1584.79L817.93 1602.67A576.40 576.40 0 0 0 850.45 1619.58L859.33 1601.10A555.90 555.90 0 0 1 827.96 1584.79Z" fill="#5487ba"/>
<path d="M838.00 1566.91L827.96 1584.79A555.90 555.90 0 0 0 859.33 1601.10L868.20 1582.62A535.40 535.40 0 0 1 838.00 1566.91Z" fill="#ee7677"/>
<path d="M848.03 1549.04L838.00 1566.91A535.40 535.40 0 0 0 868.20 1582.62L877.08 1564.14A514.90 514.90 0 0 1 848.03 1549.04Z" fill="#c9d6e8"/>
<path d="M858.06 1531.16L848.03 1549.04A514.90 514.90 0 0 0 877.08 1564.14L885.95 1545.66A494.40 494.40 0 0 1 858.06 1531.16Z" fill="#ee7677"/>
<path d="M868.09 1513.28L858.06 1531.16A494.40 494.40 0 0 0 885.95 1545.66L894.83 1527.18A473.90 473.90 0 0 1 868.09 1513.28Z" fill="#ee7677"/>
<path d="M878.12 1495.40L868.09 1513.28A473.90 473.90 0 0 0 894.83 1527.18L903.70 1508.70A453.40 453.40 0 0 1 878.12 1495.40Z" fill="#f8a09e"/>
<path d="M888.16 1477.52L878.12 1495.40A453.40 453.40 0 0 0 903.70 1508.70L912.58 1490.23A432.90 432.90 0 0 1 888.16 1477.52Z" fill="#e6ecf4"/>
<path d="M898.19 1459.65L888.16 1477.52A432.90 432.90 0 0 0 912.58 1490.23L921.45 1471.75A412.40 412.40 0 0 1 898.19 1459.65Z" fill="#fdbebb"/>
<path d="M841.58 1638.06L832.70 1656.54A617.40 617.40 0 0 0 868.61 1672.40L876.30 1653.40A596.90 596.90 0 0 1 841.58 1638.06Z" fill="#f8a09e"/>
<path d="M850.45 1619.58L841.58 1638.06A596.90 596.90 0 0 0 876.30 1653.40L883.98 1634.39A576.40 576.40 0 0 1 850.45 1619.58Z" fill="#fdbebb"/>
<path d="M859.33 1601.10L850.45 1619.58A576.40 576.40 0 0 0 883.98 1634.39L891.66 1615.38A555.90 555.90 0 0 1 859.33 1601.10Z" fill="#f38a89"/>
<path d="M868.20 1582.62L859.33 1601.10A555.90 555.90 0 0 0 891.66 1615.38L899.35 1596.38A535.40 535.40 0 0 1 868.20 1582.62Z" fill="#c9d6e8"/>
<path d="M877.08 1564.14L868.20 1582.62A535.40 535.40 0 0 0 899.35 1596.38L907.03 1577.37A514.90 514.90 0 0 1 877.08 1564.14Z" fill="#f8a09e"/>
<path d="M885.95 1545.66L877.08 1564.14A514.90 514.90 0 0 0 907.03 1577.37L914.71 1558.37A494.40 494.40 0 0 1 885.95 1545.66Z" fill="#ee7677"/>
<path d="M894.83 1527.18L885.95 1545.66A494.40 494.40 0 0 0 914.71 1558.37L922.39 1539.36A473.90 473.90 0 0 1 894.83 1527.18Z" fill="#fdbebb"/>
<path d="M903.70 1508.70L894.83 1527.18A473.90 473.90 0 0 0 922.39 1539.36L930.08 1520.35A453.40 453.40 0 0 1 903.70 1508.70Z" fill="#ee7677"/>
<path d="M912.58 1490.23L903.70 1508.70A453.40 453.40 0 0 0 930.08 1520.35L937.76 1501.35A432.90 432.90 0 0 1 912.58 1490.23Z" fill="#5487ba"/>
<path d="M921.45 1471.75L912.58 1490.23A432.90 432.90 0 0 0 937.76 1501.35L945.44 1482.34A412.40 412.40 0 0 1 921.45 1471.75Z" fill="#ee7677"/>
<path d="M876.30 1653.40L868.61 1672.40A617.40 617.40 0 0 0 905.46 1685.95L911.92 1666.49A596.90 596.90 0 0 1 876.30 1653.40Z" fill="#c9d6e8"/>
<path d="M883.98 1634.39L876.30 1653.40A596.90 596.90 0 0 0 911.92 1666.49L918.38 1647.04A576.40 576.40 0 0 1 883.98 1634.39Z" fill="#ee7677"/>
<path d="M891.66 1615.38L883.98 1634.39A576.40 576.40 0 0 0 918.38 1647.04L924.84 1627.58A555.90 555.90 0 0 1 891.66 1615.38Z" fill="#f38a89"/>
<path d="M899.35 1596.38L891.66 1615.38A555.90 555.90 0 0 0 924.84 1627.58L931.30 1608.13A535.40 535.40 0 0 1 899.35 1596.38Z" fill="#ee7677"/>
<path d="M907.03 1577.37L899.35 1596.38A535.40 535.40 0 0 0 931.30 1608.13L937.76 1588.67A514.90 514.90 0 0 1 907.03 1577.37Z" fill="#ffd4d2"/>
<path d="M914.71 1558.37L907.03 1577.37A514.90 514.90 0 0 0 937.76 1588.67L944.22 1569.22A494.40 494.40 0 0 1 914.71 1558.37Z" fill="#ee7677"/>
<path d="M922.39 1539.36L914.71 1558.37A494.40 494.40 0 0 0 944.22 1569.22L950.68 1549.76A473.90 473.90 0 0 1 922.39 1539.36Z" fill="#9eb7d6"/>
<path d="M930.08 1520.35L922.39 1539.36A473.90 473.90 0 0 0 950.68 1549.76L957.14 1530.30A453.40 453.40 0 0 1 930.08 1520.35Z" fill="#ee7677"/>
<path d="M937.76 1501.35L930.08 1520.35A453.40 453.40 0 0 0 957.14 1530.30L963.60 1510.85A432.90 432.90 0 0 1 937.76 1501.35Z" fill="#5487ba"/>
<path d="M945.44 1482.34L937.76 1501.35A432.90 432.90 0 0 0 963.60 1510.85L970.06 1491.39A412.40 412.40 0 0 1 945.44 1482.34Z" fill="#f38a89"/>
<path d="M911.92 1666.49L905.46 1685.95A617.40 617.40 0 0 0 943.10 1697.13L948.31 1677.30A596.90 596.90 0 0 1 911.92 1666.49Z" fill="#2874ae"/>
<path d="M918.38 1647.04L911.92 1666.49A596.90 596.90 0 0 0 948.31 1677.30L953.52 1657.48A576.40 576.40 0 0 1 918.38 1647.04Z" fill="#ffd4d2"/>
<path d="M924.84 1627.58L918.38 1647.04A576.40 576.40 0 0 0 953.52 1657.48L958.73 1637.65A555.90 555.90 0 0 1 924.84 1627.58Z" fill="#fdbebb"/>
<path d="M931.30 1608.13L924.84 1627.58A555.90 555.90 0 0 0 958.73 1637.65L963.94 1617.82A535.40 535.40 0 0 1 931.30 1608.13Z" fill="#fdbebb"/>
<path d="M937.76 1588.67L931.30 1608.13A535.40 535.40 0 0 0 963.94 1617.82L969.15 1598.00A514.90 514.90 0 0 1 937.76 1588.67Z" fill="#ee7677"/>
<path d="M944.22 1569.22L937.76 1588.67A514.90 514.90 0 0 0 969.15 1598.00L974.36 1578.17A494.40 494.40 0 0 1 944.22 1569.22Z" fill="#ffe7e5"/>
<path d="M950.68 1549.76L944.22 1569.22A494.40 494.40 0 0 0 974.36 1578.17L979.57 1558.34A473.90 473.90 0 0 1 950.68 1549.76Z" fill="#e6ecf4"/>
<path d="M957.14 1530.30L950.68 1549.76A473.90 473.90 0 0 0 979.57 1558.34L984.77 1538.51A453.40 453.40 0 0 1 957.14 1530.30Z" fill="#ee7677"/>
<path d="M963.60 1510.85L957.14 1530.30A453.40 453.40 0 0 0 984.77 1538.51L989.98 1518.69A432.90 432.90 0 0 1 963.60 1510.85Z" fill="#7199c5"/>
<path d="M970.06 1491.39L963.60 1510.85A432.90 432.90 0 0 0 989.98 1518.69L995.19 1498.86A412.40 412.40 0 0 1 970.06 1491.39Z" fill="#fdbebb"/>
<path d="M948.31 1677.30L943.10 1697.13A617.40 617.40 0 0 0 981.37 1705.89L985.30 1685.78A596.90 596.90 0 0 1 948.31 1677.30Z" fill="#2874ae"/>
<path d="M953.52 1657.48L948.31 1677.30A596.90 596.90 0 0 0 985.30 1685.78L989.24 1665.66A576.40 576.40 0 0 1 953.52 1657.48Z" fill="#f38a89"/>
<path d="M958.73 1637.65L953.52 1657.48A576.40 576.40 0 0 0 989.24 1665.66L993.18 1645.54A555.90 555.90 0 0 1 958.73 1637.65Z" fill="#f8a09e"/>
<path d="M963.94 1617.82L958.73 1637.65A555.90 555.90 0 0 0 993.18 1645.54L997.12 1625.42A535.40 535.40 0 0 1 963.94 1617.82Z" fill="#2874ae"/>
<path d="M969.15 1598.00L963.94 1617.82A535.40 535.40 0 0 0 997.12 1625.42L1001.06 1605.30A514.90 514.90 0 0 1 969.15 1598.00Z" fill="#f38a89"/>
<path d="M974.36 1578.17L969.15 1598.00A514.90 514.90 0 0 0 1001.06 1605.30L1005.00 1585.19A494.40 494.40 0 0 1 974.36 1578.17Z" fill="#ee7677"/>
<path d="M979.57 1558.34L974.36 1578.17A494.40 494.40 0 0 0 1005.00 1585.19L1008.94 1565.07A473.90 473.90 0 0 1 979.57 1558.34Z" fill="#ffd4d2"/>
<path d="M984.77 1538.51L979.57 1558.34A473.90 473.90 0 0 0 1008.94 1565.07L1012.88 1544.95A453.40 453.40 0 0 1 984.77 1538.51Z" fill="#ee7677"/>
<path d="M989.98 1518.69L984.77 1538.51A453.40 453.40 0 0 0 1012.88 1544.95L1016.82 1524.83A432.90 432.90 0 0 1 989.98 1518.69Z" fill="#ffd4d2"/>
<path d="M995.19 1498.86L989.98 1518.69A432.90 432.90 0 0 0 1016.82 1524.83L1020.76 1504.72A412.40 412.40 0 0 1 995.19 1498.86Z" fill="#f38a89"/>
<path d="M985.30 1685.78L981.37 1705.89A617.40 617.40 0 0 0 1020.11 1712.21L1022.77 1691.88A596.90 596.90 0 0 1 985.30 1685.78Z" fill="#fff6f5"/>
<path d="M989.24 1665.66L985.30 1685.78A596.90 596.90 0 0 0 1022.77 1691.88L1025.42 1671.55A576.40 576.40 0 0 1 989.24 1665.66Z" fill="#2874ae"/>
<path d="M993.18 1645.54L989.24 1665.66A576.40 576.40 0 0 0 1025.42 1671.55L1028.07 1651.23A555.90 555.90 0 0 1 993.18 1645.54Z" fill="#7199c5"/>
<path d="M997.12 1625.42L993.18 1645.54A555.90 555.90 0 0 0 1028.07 1651.23L1030.72 1630.90A535.40 535.40 0 0 1 997.12 1625.42Z" fill="#ffffff"/>
<path d="M1001.06 1605.30L997.12 1625.42A535.40 535.40 0 0 0 1030.72 1630.90L1033.38 1610.57A514.90 514.90 0 0 1 1001.06 1605.30Z" fill="#ffd4d2"/>
<path d="M1005.00 1585.19L1001.06 1605.30A514.90 514.90 0 0 0 1033.38 1610.57L1036.03 1590.24A494.40 494.40 0 0 1 1005.00 1585.19Z" fill="#f38a89"/>
<path d="M1008.94 1565.07L1005.00 1585.19A494.40 494.40 0 0 0 1036.03 1590.24L1038.68 1569.92A473.90 473.90 0 0 1 1008.94 1565.07Z" fill="#5487ba"/>
<path d="M1012.88 1544.95L1008.94 1565.07A473.90 473.90 0 0 0 1038.68 1569.92L1041.33 1549.59A453.40 453.40 0 0 1 1012.88 1544.95Z" fill="#ee7677"/>
<path d="M1016.82 1524.83L1012.88 1544.95A453.40 453.40 0 0 0 1041.33 1549.59L1043.99 1529.26A432.90 432.90 0 0 1 1016.82 1524.83Z" fill="#f3f6fa"/>
<path d="M1020.76 1504.72L1016.82 1524.83A432.90 432.90 0 0 0 1043.99 1529.26L1046.64 1508.93A412.40 412.40 0 0 1 1020.76 1504.72Z" fill="#e6ecf4"/>
<path d="M1022.77 1691.88L1020.11 1712.21A617.40 617.40 0 0 0 1059.19 1716.05L1060.54 1695.59A596.90 596.90 0 0 1 1022.77 1691.88Z" fill="#2874ae"/>
<path d="M1025.42 1671.55L1022.77 1691.88A596.90 596.90 0 0 0 1060.54 1695.59L1061.90 1675.14A576.40 576.40 0 0 1 1025.42 1671.55Z" fill="#5487ba"/>
<path d="M1028.07 1651.23L1025.42 1671.55A576.40 576.40 0 0 0 1061.90 1675.14L1063.25 1654.68A555.90 555.90 0 0 1 1028.07 1651.23Z" fill="#fdbebb"/>
<path d="M1030.72 1630.90L1028.07 1651.23A555.90 555.90 0 0 0 1063.25 1654.68L1064.61 1634.23A535.40 535.40 0 0 1 1030.72 1630.90Z" fill="#5487ba"/>
<path d="M1033.38 1610.57L1030.72 1630.90A535.40 535.40 0 0 0 1064.61 1634.23L1065.96 1613.77A514.90 514.90 0 0 1 1033.38 1610.57Z" fill="#ee7677"/>
<path d="M1036.03 1590.24L1033.38 1610.57A514.90 514.90 0 0 0 1065.96 1613.77L1067.32 1593.32A494.40 494.40 0 0 1 1036.03 1590.24Z" fill="#fff6f5"/>
<path d="M1038.68 1569.92L1036.03 1590.24A494.40 494.40 0 0 0 1067.32 1593.32L1068.67 1572.86A473.90 473.90 0 0 1 1038.68 1569.92Z" fill="#2874ae"/>
<path d="M1041.33 1549.59L1038.68 1569.92A473.90 473.90 0 0 0 1068.67 1572.86L1070.03 1552.41A453.40 453.40 0 0 1 1041.33 1549.59Z" fill="#ee7677"/>
<path d="M1043.99 1529.26L1041.33 1549.59A453.40 453.40 0 0 0 1070.03 1552.41L1071.38 1531.95A432.90 432.90 0 0 1 1043.99 1529.26Z" fill="#fff6f5"/>
<path d="M1046.64 1508.93L1043.99 1529.26A432.90 432.90 0 0 0 1071.38 1531.95L1072.74 1511.50A412.40 412.40 0 0 1 1046.64 1508.93Z" fill="#e6ecf4"/>
<path d="M1060.54 1695.59L1059.19 1716.05A617.40 617.40 0 0 0 1098.42 1717.40L1098.48 1696.90A596.90 596.90 0 0 1 1060.54 1695.59Z" fill="#ffe7e5"/>
<path d="M1061.90 1675.14L1060.54 1695.59A596.90 596.90 0 0 0 1098.48 1696.90L1098.53 1676.40A576.40 576.40 0 0 1 1061.90 1675.14Z" fill="#f8a09e"/>
<path d="M1063.25 1654.68L1061.90 1675.14A576.40 576.40 0 0 0 1098.53 1676.40L1098.58 1655.90A555.90 555.90 0 0 1 1063.25 1654.68Z" fill="#ffe7e5"/>
<path d="M1064.61 1634.23L1063.25 1654.68A555.90 555.90 0 0 0 1098.58 1655.90L1098.63 1635.40A535.40 535.40 0 0 1 1064.61 1634.23Z" fill="#fff6f5"/>
<path d="M1065.96 1613.77L1064.61 1634.23A535.40 535.40 0 0 0 1098.63 1635.40L1098.69 1614.90A514.90 514.90 0 0 1 1065.96 1613.77Z" fill="#ee7677"/>
<path d="M1067.32 1593.32L1065.96 1613.77A514.90 514.90 0 0 0 1098.69 1614.90L1098.74 1594.40A494.40 494.40 0 0 1 1067.32 1593.32Z" fill="#e6ecf4"/>
<path d="M1068.67 1572.86L1067.32 1593.32A494.40 494.40 0 0 0 1098.74 1594.40L1098.79 1573.90A473.90 473.90 0 0 1 1068.67 1572.86Z" fill="#f3f6fa"/>
<path d="M1070.03 1552.41L1068.67 1572.86A473.90 473.90 0 0 0 1098.79 1573.90L1098.84 1553.40A453.40 453.40 0 0 1 1070.03 1552.41Z" fill="#ee7677"/>
<path d="M1071.38 1531.95L1070.03 1552.41A453.40 453.40 0 0 0 1098.84 1553.40L1098.89 1532.90A432.90 432.90 0 0 1 1071.38 1531.95Z" fill="#ee7677"/>
<path d="M1072.74 1511.50L1071.38 1531.95A432.90 432.90 0 0 0 1098.89 1532.90L1098.95 1512.40A412.40 412.40 0 0 1 1072.74 1511.50Z" fill="#c9d6e8"/>
<path d="M1098.48 1696.90L1098.42 1717.40A617.40 617.40 0 0 0 1137.67 1716.25L1136.42 1695.79A596.90 596.90 0 0 1 1098.48 1696.90Z" fill="#7199c5"/>
<path d="M1098.53 1676.40L1098.48 1696.90A596.90 596.90 0 0 0 1136.42 1695.79L1135.17 1675.33A576.40 576.40 0 0 1 1098.53 1676.40Z" fill="#ee7677"/>
<path d="M1098.58 1655.90L1098.53 1676.40A576.40 576.40 0 0 0 1135.17 1675.33L1133.92 1654.86A555.90 555.90 0 0 1 1098.58 1655.90Z" fill="#2874ae"/>
<path d="M1098.63 1635.40L1098.58 1655.90A555.90 555.90 0 0 0 1133.92 1654.86L1132.66 1634.40A535.40 535.40 0 0 1 1098.63 1635.40Z" fill="#fff6f5"/>
<path d="M1098.69 1614.90L1098.63 1635.40A535.40 535.40 0 0 0 1132.66 1634.40L1131.41 1613.94A514.90 514.90 0 0 1 1098.69 1614.90Z" fill="#fdbebb"/>
<path d="M1098.74 1594.40L1098.69 1614.90A514.90 514.90 0 0 0 1131.41 1613.94L1130.16 1593.48A494.40 494.40 0 0 1 1098.74 1594.40Z" fill="#ffd4d2"/>
<path d="M1098.79 1573.90L1098.74 1594.40A494.40 494.40 0 0 0 1130.16 1593.48L1128.91 1573.02A473.90 473.90 0 0 1 1098.79 1573.90Z" fill="#ffe7e5"/>
<path d="M1098.84 1553.40L1098.79 1573.90A473.90 473.90 0 0 0 1128.91 1573.02L1127.66 1552.56A453.40 453.40 0 0 1 1098.84 1553.40Z" fill="#ffe7e5"/>
<path d="M1098.89 1532.90L1098.84 1553.40A453.40 453.40 0 0 0 1127.66 1552.56L1126.41 1532.09A432.90 432.90 0 0 1 1098.89 1532.90Z" fill="#ee7677"/>
<path d="M1098.95 1512.40L1098.89 1532.90A432.90 432.90 0 0 0 1126.41 1532.09L1125.16 1511.63A412.40 412.40 0 0 1 1098.95 1512.40Z" fill="#c9d6e8"/>
<path d="M1136.42 1695.79L1137.67 1716.25A617.40 617.40 0 0 0 1176.76 1712.61L1174.21 1692.27A596.90 596.90 0 0 1 1136.42 1695.79Z" fill="#ffe7e5"/>
<path d="M1135.17 1675.33L1136.42 1695.79A596.90 596.90 0 0 0 1174.21 1692.27L1171.66 1671.93A576.40 576.40 0 0 1 1135.17 1675.33Z" fill="#ee7677"/>
<path d="M1133.92 1654.86L1135.17 1675.33A576.40 576.40 0 0 0 1171.66 1671.93L1169.11 1651.59A555.90 555.90 0 0 1 1133.92 1654.86Z" fill="#ffdddb"/>
<path d="M1132.66 1634.40L1133.92 1654.86A555.90 555.90 0 0 0 1169.11 1651.59L1166.56 1631.25A535.40 535.40 0 0 1 1132.66 1634.40Z" fill="#fff6f5"/>
<path d="M1131.41 1613.94L1132.66 1634.40A535.40 535.40 0 0 0 1166.56 1631.25L1164.02 1610.91A514.90 514.90 0 0 1 1131.41 1613.94Z" fill="#fdbebb"/>
<path d="M1130.16 1593.48L1131.41 1613.94A514.90 514.90 0 0 0 1164.02 1610.91L1161.47 1590.56A494.40 494.40 0 0 1 1130.16 1593.48Z" fill="#fbb1ae"/>
<path d="M1128.91 1573.02L1130.16 1593.48A494.40 494.40 0 0 0 1161.47 1590.56L1158.92 1570.22A473.90 473.90 0 0 1 1128.91 1573.02Z" fill="#fdbebb"/>
<path d="M1127.66 1552.56L1128.91 1573.02A473.90 473.90 0 0 0 1158.92 1570.22L1156.37 1549.88A453.40 453.40 0 0 1 1127.66 1552.56Z" fill="#ee7677"/>
<path d="M1126.41 1532.09L1127.66 1552.56A453.40 453.40 0 0 0 1156.37 1549.88L1153.82 1529.54A432.90 432.90 0 0 1 1126.41 1532.09Z" fill="#ee7677"/>
<path d="M1125.16 1511.63L1126.41 1532.09A432.90 432.90 0 0 0 1153.82 1529.54L1151.27 1509.20A412.40 412.40 0 0 1 1125.16 1511.63Z" fill="#ee7677"/>
<path d="M1174.21 1692.27L1176.76 1712.61A617.40 617.40 0 0 0 1215.54 1706.49L1211.70 1686.35A596.90 596.90 0 0 1 1174.21 1692.27Z" fill="#2874ae"/>
<path d="M1171.66 1671.93L1174.21 1692.27A596.90 596.90 0 0 0 1211.70 1686.35L1207.87 1666.22A576.40 576.40 0 0 1 1171.66 1671.93Z" fill="#2874ae"/>
<path d="M1169.11 1651.59L1171.66 1671.93A576.40 576.40 0 0 0 1207.87 1666.22L1204.03 1646.08A555.90 555.90 0 0 1 1169.11 1651.59Z" fill="#9eb7d6"/>
<path d="M1166.56 1631.25L1169.11 1651.59A555.90 555.90 0 0 0 1204.03 1646.08L1200.19 1625.94A535.40 535.40 0 0 1 1166.56 1631.25Z" fill="#f8a09e"/>
<path d="M1164.02 1610.91L1166.56 1631.25A535.40 535.40 0 0 0 1200.19 1625.94L1196.36 1605.80A514.90 514.90 0 0 1 1164.02 1610.91Z" fill="#ffd4d2"/>
<path d="M1161.47 1590.56L1164.02 1610.91A514.90 514.90 0 0 0 1196.36 1605.80L1192.52 1585.67A494.40 494.40 0 0 1 1161.47 1590.56Z" fill="#ee7677"/>
<path d="M1158.92 1570.22L1161.47 1590.56A494.40 494.40 0 0 0 1192.52 1585.67L1188.68 1565.53A473.90 473.90 0 0 1 1158.92 1570.22Z" fill="#9eb7d6"/>
<path d="M1156.37 1549.88L1158.92 1570.22A473.90 473.90 0 0 0 1188.68 1565.53L1184.85 1545.39A453.40 453.40 0 0 1 1156.37 1549.88Z" fill="#ee7677"/>
<path d="M1153.82 1529.54L1156.37 1549.88A453.40 453.40 0 0 0 1184.85 1545.39L1181.01 1525.25A432.90 432.90 0 0 1 1153.82 1529.54Z" fill="#ee7677"/>
<path d="M1151.27 1509.20L1153.82 1529.54A432.90 432.90 0 0 0 1181.01 1525.25L1177.18 1505.11A412.40 412.40 0 0 1 1151.27 1509.20Z" fill="#ee7677"/>
<path d="M1211.70 1686.35L1215.54 1706.49A617.40 617.40 0 0 0 1253.85 1697.92L1248.74 1678.07A596.90 596.90 0 0 1 1211.70 1686.35Z" fill="#ee7677"/>
<path d="M1207.87 1666.22L1211.70 1686.35A596.90 596.90 0 0 0 1248.74 1678.07L1243.64 1658.22A576.40 576.40 0 0 1 1207.87 1666.22Z" fill="#7199c5"/>
<path d="M1204.03 1646.08L1207.87 1666.22A576.40 576.40 0 0 0 1243.64 1658.22L1238.53 1638.36A555.90 555.90 0 0 1 1204.03 1646.08Z" fill="#9eb7d6"/>
<path d="M1200.19 1625.94L1204.03 1646.08A555.90 555.90 0 0 0 1238.53 1638.36L1233.42 1618.51A535.40 535.40 0 0 1 1200.19 1625.94Z" fill="#2874ae"/>
<path d="M1196.36 1605.80L1200.19 1625.94A535.40 535.40 0 0 0 1233.42 1618.51L1228.31 1598.66A514.90 514.90 0 0 1 1196.36 1605.80Z" fill="#ffd4d2"/>
<path d="M1192.52 1585.67L1196.36 1605.80A514.90 514.90 0 0 0 1228.31 1598.66L1223.20 1578.80A494.40 494.40 0 0 1 1192.52 1585.67Z" fill="#f8a09e"/>
<path d="M1188.68 1565.53L1192.52 1585.67A494.40 494.40 0 0 0 1223.20 1578.80L1218.09 1558.95A473.90 473.90 0 0 1 1188.68 1565.53Z" fill="#ee7677"/>
<path d="M1184.85 1545.39L1188.68 1565.53A473.90 473.90 0 0 0 1218.09 1558.95L1212.98 1539.10A453.40 453.40 0 0 1 1184.85 1545.39Z" fill="#ee7677"/>
<path d="M1181.01 1525.25L1184.85 1545.39A453.40 453.40 0 0 0 1212.98 1539.10L1207.88 1519.24A432.90 432.90 0 0 1 1181.01 1525.25Z" fill="#e6ecf4"/>
<path d="M1177.18 1505.11L1181.01 1525.25A432.90 432.90 0 0 0 1207.88 1519.24L1202.77 1499.39A412.40 412.40 0 0 1 1177.18 1505.11Z" fill="#ee7677"/>
<path d="M1248.74 1678.07L1253.85 1697.92A617.40 617.40 0 0 0 1291.54 1686.94L1285.18 1667.45A596.90 596.90 0 0 1 1248.74 1678.07Z" fill="#ffffff"/>
<path d="M1243.64 1658.22L1248.74 1678.07A596.90 596.90 0 0 0 1285.18 1667.45L1278.82 1647.96A576.40 576.40 0 0 1 1243.64 1658.22Z" fill="#e6ecf4"/>
<path d="M1238.53 1638.36L1243.64 1658.22A576.40 576.40 0 0 0 1278.82 1647.96L1272.46 1628.47A555.90 555.90 0 0 1 1238.53 1638.36Z" fill="#7199c5"/>
<path d="M1233.42 1618.51L1238.53 1638.36A555.90 555.90 0 0 0 1272.46 1628.47L1266.10 1608.98A535.40 535.40 0 0 1 1233.42 1618.51Z" fill="#2874ae"/>
<path d="M1228.31 1598.66L1233.42 1618.51A535.40 535.40 0 0 0 1266.10 1608.98L1259.74 1589.49A514.90 514.90 0 0 1 1228.31 1598.66Z" fill="#fff6f5"/>
<path d="M1223.20 1578.80L1228.31 1598.66A514.90 514.90 0 0 0 1259.74 1589.49L1253.38 1570.00A494.40 494.40 0 0 1 1223.20 1578.80Z" fill="#ee7677"/>
<path d="M1218.09 1558.95L1223.20 1578.80A494.40 494.40 0 0 0 1253.38 1570.00L1247.02 1550.52A473.90 473.90 0 0 1 1218.09 1558.95Z" fill="#f8a09e"/>
<path d="M1212.98 1539.10L1218.09 1558.95A473.90 473.90 0 0 0 1247.02 1550.52L1240.66 1531.03A453.40 453.40 0 0 1 1212.98 1539.10Z" fill="#ee7677"/>
<path d="M1207.88 1519.24L1212.98 1539.10A453.40 453.40 0 0 0 1240.66 1531.03L1234.30 1511.54A432.90 432.90 0 0 1 1207.88 1519.24Z" fill="#ee7677"/>
<path d="M1202.77 1499.39L1207.88 1519.24A432.90 432.90 0 0 0 1234.30 1511.54L1227.94 1492.05A412.40 412.40 0 0 1 1202.77 1499.39Z" fill="#ffffff"/>
<path d="M1285.18 1667.45L1291.54 1686.94A617.40 617.40 0 0 0 1328.46 1673.58L1320.88 1654.53A596.90 596.90 0 0 1 1285.18 1667.45Z" fill="#2874ae"/>
<path d="M1278.82 1647.96L1285.18 1667.45A596.90 596.90 0 0 0 1320.88 1654.53L1313.29 1635.49A576.40 576.40 0 0 1 1278.82 1647.96Z" fill="#ffe7e5"/>
<path d="M1272.46 1628.47L1278.82 1647.96A576.40 576.40 0 0 0 1313.29 1635.49L1305.70 1616.44A555.90 555.90 0 0 1 1272.46 1628.47Z" fill="#ffd4d2"/>
<path d="M1266.10 1608.98L1272.46 1628.47A555.90 555.90 0 0 0 1305.70 1616.44L1298.12 1597.40A535.40 535.40 0 0 1 1266.10 1608.98Z" fill="#fff6f5"/>
<path d="M1259.74 1589.49L1266.10 1608.98A535.40 535.40 0 0 0 1298.12 1597.40L1290.53 1578.35A514.90 514.90 0 0 1 1259.74 1589.49Z" fill="#ffe7e5"/>
<path d="M1253.38 1570.00L1259.74 1589.49A514.90 514.90 0 0 0 1290.53 1578.35L1282.95 1559.31A494.40 494.40 0 0 1 1253.38 1570.00Z" fill="#f38a89"/>
<path d="M1247.02 1550.52L1253.38 1570.00A494.40 494.40 0 0 0 1282.95 1559.31L1275.36 1540.26A473.90 473.90 0 0 1 1247.02 1550.52Z" fill="#2874ae"/>
<path d="M1240.66 1531.03L1247.02 1550.52A473.90 473.90 0 0 0 1275.36 1540.26L1267.77 1521.22A453.40 453.40 0 0 1 1240.66 1531.03Z" fill="#f3f6fa"/>
<path d="M1234.30 1511.54L1240.66 1531.03A453.40 453.40 0 0 0 1267.77 1521.22L1260.19 1502.17A432.90 432.90 0 0 1 1234.30 1511.54Z" fill="#ee7677"/>
<path d="M1227.94 1492.05L1234.30 1511.54A432.90 432.90 0 0 0 1260.19 1502.17L1252.60 1483.13A412.40 412.40 0 0 1 1227.94 1492.05Z" fill="#ee7677"/>
<path d="M1320.88 1654.53L1328.46 1673.58A617.40 617.40 0 0 0 1364.45 1657.90L1355.67 1639.37A596.90 596.90 0 0 1 1320.88 1654.53Z" fill="#fdbebb"/>
<path d="M1313.29 1635.49L1320.88 1654.53A596.90 596.90 0 0 0 1355.67 1639.37L1346.89 1620.85A576.40 576.40 0 0 1 1313.29 1635.49Z" fill="#ffdddb"/>
<path d="M1305.70 1616.44L1313.29 1635.49A576.40 576.40 0 0 0 1346.89 1620.85L1338.11 1602.32A555.90 555.90 0 0 1 1305.70 1616.44Z" fill="#9eb7d6"/>
<path d="M1298.12 1597.40L1305.70 1616.44A555.90 555.90 0 0 0 1338.11 1602.32L1329.33 1583.80A535.40 535.40 0 0 1 1298.12 1597.40Z" fill="#2874ae"/>
<path d="M1290.53 1578.35L1298.12 1597.40A535.40 535.40 0 0 0 1329.33 1583.80L1320.55 1565.27A514.90 514.90 0 0 1 1290.53 1578.35Z" fill="#ee7677"/>
<path d="M1282.95 1559.31L1290.53 1578.35A514.90 514.90 0 0 0 1320.55 1565.27L1311.77 1546.75A494.40 494.40 0 0 1 1282.95 1559.31Z" fill="#fdbebb"/>
<path d="M1275.36 1540.26L1282.95 1559.31A494.40 494.40 0 0 0 1311.77 1546.75L1302.99 1528.23A473.90 473.90 0 0 1 1275.36 1540.26Z" fill="#2874ae"/>
<path d="M1267.77 1521.22L1275.36 1540.26A473.90 473.90 0 0 0 1302.99 1528.23L1294.21 1509.70A453.40 453.40 0 0 1 1267.77 1521.22Z" fill="#e6ecf4"/>
<path d="M1260.19 1502.17L1267.77 1521.22A453.40 453.40 0 0 0 1294.21 1509.70L1285.43 1491.18A432.90 432.90 0 0 1 1260.19 1502.17Z" fill="#e6ecf4"/>
<path d="M1252.60 1483.13L1260.19 1502.17A432.90 432.90 0 0 0 1285.43 1491.18L1276.65 1472.65A412.40 412.40 0 0 1 1252.60 1483.13Z" fill="#ee7677"/>
<path d="M1355.67 1639.37L1364.45 1657.90A617.40 617.40 0 0 0 1399.38 1639.96L1389.44 1622.03A596.90 596.90 0 0 1 1355.67 1639.37Z" fill="#7199c5"/>
<path d="M1346.89 1620.85L1355.67 1639.37A596.90 596.90 0 0 0 1389.44 1622.03L1379.50 1604.10A576.40 576.40 0 0 1 1346.89 1620.85Z" fill="#ffd4d2"/>
<path d="M1338.11 1602.32L1346.89 1620.85A576.40 576.40 0 0 0 1379.50 1604.10L1369.56 1586.17A555.90 555.90 0 0 1 1338.11 1602.32Z" fill="#fdbebb"/>
<path d="M1329.33 1583.80L1338.11 1602.32A555.90 555.90 0 0 0 1369.56 1586.17L1359.62 1568.24A535.40 535.40 0 0 1 1329.33 1583.80Z" fill="#2874ae"/>
<path d="M1320.55 1565.27L1329.33 1583.80A535.40 535.40 0 0 0 1359.62 1568.24L1349.68 1550.32A514.90 514.90 0 0 1 1320.55 1565.27Z" fill="#ee7677"/>
<path d="M1311.77 1546.75L1320.55 1565.27A514.90 514.90 0 0 0 1349.68 1550.32L1339.73 1532.39A494.40 494.40 0 0 1 1311.77 1546.75Z" fill="#2874ae"/>
<path d="M1302.99 1528.23L1311.77 1546.75A494.40 494.40 0 0 0 1339.73 1532.39L1329.79 1514.46A473.90 473.90 0 0 1 1302.99 1528.23Z" fill="#2874ae"/>
<path d="M1294.21 1509.70L1302.99 1528.23A473.90 473.90 0 0 0 1329.79 1514.46L1319.85 1496.53A453.40 453.40 0 0 1 1294.21 1509.70Z" fill="#9eb7d6"/>
<path d="M1285.43 1491.18L1294.21 1509.70A453.40 453.40 0 0 0 1319.85 1496.53L1309.91 1478.60A432.90 432.90 0 0 1 1285.43 1491.18Z" fill="#ffd4d2"/>
<path d="M1276.65 1472.65L1285.43 1491.18A432.90 432.90 0 0 0 1309.91 1478.60L1299.97 1460.67A412.40 412.40 0 0 1 1276.65 1472.65Z" fill="#ee7677"/>
<path d="M1389.44 1622.03L1399.38 1639.96A617.40 617.40 0 0 0 1433.09 1619.84L1422.03 1602.58A596.90 596.90 0 0 1 1389.44 1622.03Z" fill="#ffe7e5"/>
<path d="M1379.50 1604.10L1389.44 1622.03A596.90 596.90 0 0 0 1422.03 1602.58L1410.97 1585.32A576.40 576.40 0 0 1 1379.50 1604.10Z" fill="#fdbebb"/>
<path d="M1369.56 1586.17L1379.50 1604.10A576.40 576.40 0 0 0 1410.97 1585.32L1399.91 1568.06A555.90 555.90 0 0 1 1369.56 1586.17Z" fill="#ee7677"/>
<path d="M1359.62 1568.24L1369.56 1586.17A555.90 555.90 0 0 0 1399.91 1568.06L1388.85 1550.80A535.40 535.40 0 0 1 1359.62 1568.24Z" fill="#c9d6e8"/>
<path d="M1349.68 1550.32L1359.62 1568.24A535.40 535.40 0 0 0 1388.85 1550.80L1377.79 1533.54A514.90 514.90 0 0 1 1349.68 1550.32Z" fill="#2874ae"/>
<path d="M1339.73 1532.39L1349.68 1550.32A514.90 514.90 0 0 0 1377.79 1533.54L1366.73 1516.28A494.40 494.40 0 0 1 1339.73 1532.39Z" fill="#5487ba"/>
<path d="M1329.79 1514.46L1339.73 1532.39A494.40 494.40 0 0 0 1366.73 1516.28L1355.67 1499.02A473.90 473.90 0 0 1 1329.79 1514.46Z" fill="#ffe7e5"/>
<path d="M1319.85 1496.53L1329.79 1514.46A473.90 473.90 0 0 0 1355.67 1499.02L1344.61 1481.75A453.40 453.40 0 0 1 1319.85 1496.53Z" fill="#ee7677"/>
<path d="M1309.91 1478.60L1319.85 1496.53A453.40 453.40 0 0 0 1344.61 1481.75L1333.55 1464.49A432.90 432.90 0 0 1 1309.91 1478.60Z" fill="#ee7677"/>
<path d="M1299.97 1460.67L1309.91 1478.60A432.90 432.90 0 0 0 1333.55 1464.49L1322.49 1447.23A412.40 412.40 0 0 1 1299.97 1460.67Z" fill="#ffd4d2"/>
<path d="M1696.90 1100.00L1717.40 1100.00A617.40 617.40 0 0 1 1716.14 1139.40L1695.68 1138.10A596.90 596.90 0 0 0 1696.90 1100.00Z" fill="#ee7677"/>
<path d="M1676.40 1100.00L1696.90 1100.00A596.90 596.90 0 0 1 1695.68 1138.10L1675.22 1136.79A576.40 576.40 0 0 0 1676.40 1100.00Z" fill="#ee7677"/>
<path d="M1655.90 1100.00L1676.40 1100.00A576.40 576.40 0 0 1 1675.22 1136.79L1654.77 1135.48A555.90 555.90 0 0 0 1655.90 1100.00Z" fill="#f8a09e"/>
<path d="M1635.40 1100.00L1655.90 1100.00A555.90 555.90 0 0 1 1654.77 1135.48L1634.31 1134.17A535.40 535.40 0 0 0 1635.40 1100.00Z" fill="#ee7677"/>
<path d="M1614.90 1100.00L1635.40 1100.00A535.40 535.40 0 0 1 1634.31 1134.17L1613.85 1132.86A514.90 514.90 0 0 0 1614.90 1100.00Z" fill="#ffffff"/>
<path d="M1594.40 1100.00L1614.90 1100.00A514.90 514.90 0 0 1 1613.85 1132.86L1593.39 1131.55A494.40 494.40 0 0 0 1594.40 1100.00Z" fill="#ee7677"/>
<path d="M1573.90 1100.00L1594.40 1100.00A494.40 494.40 0 0 1 1593.39 1131.55L1572.93 1130.25A473.90 473.90 0 0 0 1573.90 1100.00Z" fill="#ee7677"/>
<path d="M1553.40 1100.00L1573.90 1100.00A473.90 473.90 0 0 1 1572.93 1130.25L1552.48 1128.94A453.40 453.40 0 0 0 1553.40 1100.00Z" fill="#c9d6e8"/>
<path d="M1532.90 1100.00L1553.40 1100.00A453.40 453.40 0 0 1 1552.48 1128.94L1532.02 1127.63A432.90 432.90 0 0 0 1532.90 1100.00Z" fill="#2874ae"/>
<path d="M1512.40 1100.00L1532.90 1100.00A432.90 432.90 0 0 1 1532.02 1127.63L1511.56 1126.32A412.40 412.40 0 0 0 1512.40 1100.00Z" fill="#ffffff"/>
<path d="M1695.68 1138.10L1716.14 1139.40A617.40 617.40 0 0 1 1712.37 1178.65L1692.04 1176.04A596.90 596.90 0 0 0 1695.68 1138.10Z" fill="#f38a89"/>
<path d="M1675.22 1136.79L1695.68 1138.10A596.90 596.90 0 0 1 1692.04 1176.04L1671.70 1173.42A576.40 576.40 0 0 0 1675.22 1136.79Z" fill="#ee7677"/>
<path d="M1654.77 1135.48L1675.22 1136.79A576.40 576.40 0 0 1 1671.70 1173.42L1651.37 1170.81A555.90 555.90 0 0 0 1654.77 1135.48Z" fill="#ee7677"/>
<path d="M1634.31 1134.17L1654.77 1135.48A555.90 555.90 0 0 1 1651.37 1170.81L1631.04 1168.20A535.40 535.40 0 0 0 1634.31 1134.17Z" fill="#ee7677"/>
<path d="M1613.85 1132.86L1634.31 1134.17A535.40 535.40 0 0 1 1631.04 1168.20L1610.71 1165.59A514.90 514.90 0 0 0 1613.85 1132.86Z" fill="#fbb1ae"/>
<path d="M1593.39 1131.55L1613.85 1132.86A514.90 514.90 0 0 1 1610.71 1165.59L1590.37 1162.98A494.40 494.40 0 0 0 1593.39 1131.55Z" fill="#ee7677"/>
<path d="M1572.93 1130.25L1593.39 1131.55A494.40 494.40 0 0 1 1590.37 1162.98L1570.04 1160.37A473.90 473.90 0 0 0 1572.93 1130.25Z" fill="#ee7677"/>
<path d="M1552.48 1128.94L1572.93 1130.25A473.90 473.90 0 0 1 1570.04 1160.37L1549.71 1157.76A453.40 453.40 0 0 0 1552.48 1128.94Z" fill="#2874ae"/>
<path d="M1532.02 1127.63L1552.48 1128.94A453.40 453.40 0 0 1 1549.71 1157.76L1529.37 1155.14A432.90 432.90 0 0 0 1532.02 1127.63Z" fill="#ee7677"/>
<path d="M1511.56 1126.32L1532.02 1127.63A432.90 432.90 0 0 1 1529.37 1155.14L1509.04 1152.53A412.40 412.40 0 0 0 1511.56 1126.32Z" fill="#e6ecf4"/>
<path d="M1692.04 1176.04L1712.37 1178.65A617.40 617.40 0 0 1 1706.10 1217.57L1685.98 1213.67A596.90 596.90 0 0 0 1692.04 1176.04Z" fill="#c9d6e8"/>
<path d="M1671.70 1173.42L1692.04 1176.04A596.90 596.90 0 0 1 1685.98 1213.67L1665.85 1209.76A576.40 576.40 0 0 0 1671.70 1173.42Z" fill="#ee7677"/>
<path d="M1651.37 1170.81L1671.70 1173.42A576.40 576.40 0 0 1 1665.85 1209.76L1645.73 1205.86A555.90 555.90 0 0 0 1651.37 1170.81Z" fill="#7199c5"/>
<path d="M1631.04 1168.20L1651.37 1170.81A555.90 555.90 0 0 1 1645.73 1205.86L1625.60 1201.95A535.40 535.40 0 0 0 1631.04 1168.20Z" fill="#ee7677"/>
<path d="M1610.71 1165.59L1631.04 1168.20A535.40 535.40 0 0 1 1625.60 1201.95L1605.48 1198.05A514.90 514.90 0 0 0 1610.71 1165.59Z" fill="#c9d6e8"/>
<path d="M1590.37 1162.98L1610.71 1165.59A514.90 514.90 0 0 1 1605.48 1198.05L1585.35 1194.15A494.40 494.40 0 0 0 1590.37 1162.98Z" fill="#f3f6fa"/>
<path d="M1570.04 1160.37L1590.37 1162.98A494.40 494.40 0 0 1 1585.35 1194.15L1565.23 1190.24A473.90 473.90 0 0 0 1570.04 1160.37Z" fill="#ee7677"/>
<path d="M1549.71 1157.76L1570.04 1160.37A473.90 473.90 0 0 1 1565.23 1190.24L1545.10 1186.34A453.40 453.40 0 0 0 1549.71 1157.76Z" fill="#9eb7d6"/>
<path d="M1529.37 1155.14L1549.71 1157.76A453.40 453.40 0 0 1 1545.10 1186.34L1524.98 1182.44A432.90 432.90 0 0 0 1529.37 1155.14Z" fill="#ffdddb"/>
<path d="M1509.04 1152.53L1529.37 1155.14A432.90 432.90 0 0 1 1524.98 1182.44L1504.85 1178.53A412.40 412.40 0 0 0 1509.04 1152.53Z" fill="#ee7677"/>
<path d="M1685.98 1213.67L1706.10 1217.57A617.40 617.40 0 0 1 1697.36 1256.01L1677.53 1250.83A596.90 596.90 0 0 0 1685.98 1213.67Z" fill="#f3f6fa"/>
<path d="M1665.85 1209.76L1685.98 1213.67A596.90 596.90 0 0 1 1677.53 1250.83L1657.69 1245.65A576.40 576.40 0 0 0 1665.85 1209.76Z" fill="#ffe7e5"/>
<path d="M1645.73 1205.86L1665.85 1209.76A576.40 576.40 0 0 1 1657.69 1245.65L1637.86 1240.47A555.90 555.90 0 0 0 1645.73 1205.86Z" fill="#e6ecf4"/>
<path d="M1625.60 1201.95L1645.73 1205.86A555.90 555.90 0 0 1 1637.86 1240.47L1618.02 1235.29A535.40 535.40 0 0 0 1625.60 1201.95Z" fill="#ee7677"/>
<path d="M1605.48 1198.05L1625.60 1201.95A535.40 535.40 0 0 1 1618.02 1235.29L1598.19 1230.11A514.90 514.90 0 0 0 1605.48 1198.05Z" fill="#ee7677"/>
<path d="M1585.35 1194.15L1605.48 1198.05A514.90 514.90 0 0 1 1598.19 1230.11L1578.36 1224.93A494.40 494.40 0 0 0 1585.35 1194.15Z" fill="#fdbebb"/>
<path d="M1565.23 1190.24L1585.35 1194.15A494.40 494.40 0 0 1 1578.36 1224.93L1558.52 1219.75A473.90 473.90 0 0 0 1565.23 1190.24Z" fill="#ee7677"/>
<path d="M1545.10 1186.34L1565.23 1190.24A473.90 473.90 0 0 1 1558.52 1219.75L1538.69 1214.57A453.40 453.40 0 0 0 1545.10 1186.34Z" fill="#e6ecf4"/>
<path d="M1524.98 1182.44L1545.10 1186.34A453.40 453.40 0 0 1 1538.69 1214.57L1518.85 1209.39A432.90 432.90 0 0 0 1524.98 1182.44Z" fill="#f38a89"/>
<path d="M1504.85 1178.53L1524.98 1182.44A432.90 432.90 0 0 1 1518.85 1209.39L1499.02 1204.21A412.40 412.40 0 0 0 1504.85 1178.53Z" fill="#ee7677"/>
<path d="M1677.53 1250.83L1697.36 1256.01A617.40 617.40 0 0 1 1686.19 1293.82L1666.72 1287.38A596.90 596.90 0 0 0 1677.53 1250.83Z" fill="#ee7677"/>
<path d="M1657.69 1245.65L1677.53 1250.83A596.90 596.90 0 0 1 1666.72 1287.38L1647.26 1280.95A576.40 576.40 0 0 0 1657.69 1245.65Z" fill="#ffffff"/>
<path d="M1637.86 1240.47L1657.69 1245.65A576.40 576.40 0 0 1 1647.26 1280.95L1627.80 1274.51A555.90 555.90 0 0 0 1637.86 1240.47Z" fill="#c9d6e8"/>
<path d="M1618.02 1235.29L1637.86 1240.47A555.90 555.90 0 0 1 1627.80 1274.51L1608.33 1268.08A535.40 535.40 0 0 0 1618.02 1235.29Z" fill="#ee7677"/>
<path d="M1598.19 1230.11L1618.02 1235.29A535.40 535.40 0 0 1 1608.33 1268.08L1588.87 1261.64A514.90 514.90 0 0 0 1598.19 1230.11Z" fill="#ee7677"/>
<path d="M1578.36 1224.93L1598.19 1230.11A514.90 514.90 0 0 1 1588.87 1261.64L1569.41 1255.21A494.40 494.40 0 0 0 1578.36 1224.93Z" fill="#f38a89"/>
<path d="M1558.52 1219.75L1578.36 1224.93A494.40 494.40 0 0 1 1569.41 1255.21L1549.94 1248.77A473.90 473.90 0 0 0 1558.52 1219.75Z" fill="#ee7677"/>
<path d="M1538.69 1214.57L1558.52 1219.75A473.90 473.90 0 0 1 1549.94 1248.77L1530.48 1242.34A453.40 453.40 0 0 0 1538.69 1214.57Z" fill="#ee7677"/>
<path d="M1518.85 1209.39L1538.69 1214.57A453.40 453.40 0 0 1 1530.48 1242.34L1511.02 1235.90A432.90 432.90 0 0 0 1518.85 1209.39Z" fill="#f3f6fa"/>
<path d="M1499.02 1204.21L1518.85 1209.39A432.90 432.90 0 0 1 1511.02 1235.90L1491.55 1229.46A412.40 412.40 0 0 0 1499.02 1204.21Z" fill="#ee7677"/>
<path d="M1666.72 1287.38L1686.19 1293.82A617.40 617.40 0 0 1 1672.62 1330.84L1653.61 1323.17A596.90 596.90 0 0 0 1666.72 1287.38Z" fill="#ee7677"/>
<path d="M1647.26 1280.95L1666.72 1287.38A596.90 596.90 0 0 1 1653.61 1323.17L1634.60 1315.51A576.40 576.40 0 0 0 1647.26 1280.95Z" fill="#ee7677"/>
<path d="M1627.80 1274.51L1647.26 1280.95A576.40 576.40 0 0 1 1634.60 1315.51L1615.58 1307.84A555.90 555.90 0 0 0 1627.80 1274.51Z" fill="#ee7677"/>
<path d="M1608.33 1268.08L1627.80 1274.51A555.90 555.90 0 0 1 1615.58 1307.84L1596.57 1300.18A535.40 535.40 0 0 0 1608.33 1268.08Z" fill="#ee7677"/>
<path d="M1588.87 1261.64L1608.33 1268.08A535.40 535.40 0 0 1 1596.57 1300.18L1577.56 1292.51A514.90 514.90 0 0 0 1588.87 1261.64Z" fill="#2874ae"/>
<path d="M1569.41 1255.21L1588.87 1261.64A514.90 514.90 0 0 1 1577.56 1292.51L1558.54 1284.85A494.40 494.40 0 0 0 1569.41 1255.21Z" fill="#ee7677"/>
<path d="M1549.94 1248.77L1569.41 1255.21A494.40 494.40 0 0 1 1558.54 1284.85L1539.53 1277.18A473.90 473.90 0 0 0 1549.94 1248.77Z" fill="#f8a09e"/>
<path d="M1530.48 1242.34L1549.94 1248.77A473.90 473.90 0 0 1 1539.53 1277.18L1520.52 1269.52A453.40 453.40 0 0 0 1530.48 1242.34Z" fill="#ee7677"/>
<path d="M1511.02 1235.90L1530.48 1242.34A453.40 453.40 0 0 1 1520.52 1269.52L1501.50 1261.85A432.90 432.90 0 0 0 1511.02 1235.90Z" fill="#ee7677"/>
<path d="M1491.55 1229.46L1511.02 1235.90A432.90 432.90 0 0 1 1501.50 1261.85L1482.49 1254.19A412.40 412.40 0 0 0 1491.55 1229.46Z" fill="#9eb7d6"/>
<path d="M1653.61 1323.17L1672.62 1330.84A617.40 617.40 0 0 1 1656.72 1366.91L1638.24 1358.05A596.90 596.90 0 0 0 1653.61 1323.17Z" fill="#ee7677"/>
<path d="M1634.60 1315.51L1653.61 1323.17A596.90 596.90 0 0 1 1638.24 1358.05L1619.75 1349.19A576.40 576.40 0 0 0 1634.60 1315.51Z" fill="#ee7677"/>
<path d="M1615.58 1307.84L1634.60 1315.51A576.40 576.40 0 0 1 1619.75 1349.19L1601.27 1340.32A555.90 555.90 0 0 0 1615.58 1307.84Z" fill="#ee7677"/>
<path d="M1596.57 1300.18L1615.58 1307.84A555.90 555.90 0 0 1 1601.27 1340.32L1582.78 1331.46A535.40 535.40 0 0 0 1596.57 1300.18Z" fill="#ee7677"/>
<path d="M1577.56 1292.51L1596.57 1300.18A535.40 535.40 0 0 1 1582.78 1331.46L1564.30 1322.60A514.90 514.90 0 0 0 1577.56 1292.51Z" fill="#ffdddb"/>
<path d="M1558.54 1284.85L1577.56 1292.51A514.90 514.90 0 0 1 1564.30 1322.60L1545.81 1313.74A494.40 494.40 0 0 0 1558.54 1284.85Z" fill="#ee7677"/>
<path d="M1539.53 1277.18L1558.54 1284.85A494.40 494.40 0 0 1 1545.81 1313.74L1527.33 1304.87A473.90 473.90 0 0 0 1539.53 1277.18Z" fill="#ffdddb"/>
<path d="M1520.52 1269.52L1539.53 1277.18A473.90 473.90 0 0 1 1527.33 1304.87L1508.84 1296.01A453.40 453.40 0 0 0 1520.52 1269.52Z" fill="#ee7677"/>
<path d="M1501.50 1261.85L1520.52 1269.52A453.40 453.40 0 0 1 1508.84 1296.01L1490.36 1287.15A432.90 432.90 0 0 0 1501.50 1261.85Z" fill="#ee7677"/>
<path d="M1482.49 1254.19L1501.50 1261.85A432.90 432.90 0 0 1 1490.36 1287.15L1471.87 1278.29A412.40 412.40 0 0 0 1482.49 1254.19Z" fill="#ee7677"/>
<path d="M1638.24 1358.05L1656.72 1366.91A617.40 617.40 0 0 1 1638.55 1401.90L1620.67 1391.87A596.90 596.90 0 0 0 1638.24 1358.05Z" fill="#ee7677"/>
<path d="M1619.75 1349.19L1638.24 1358.05A596.90 596.90 0 0 1 1620.67 1391.87L1602.79 1381.85A576.40 576.40 0 0 0 1619.75 1349.19Z" fill="#ffdddb"/>
<path d="M1601.27 1340.32L1619.75 1349.19A576.40 576.40 0 0 1 1602.79 1381.85L1584.91 1371.83A555.90 555.90 0 0 0 1601.27 1340.32Z" fill="#ee7677"/>
<path d="M1582.78 1331.46L1601.27 1340.32A555.90 555.90 0 0 1 1584.91 1371.83L1567.03 1361.80A535.40 535.40 0 0 0 1582.78 1331.46Z" fill="#c9d6e8"/>
<path d="M1564.30 1322.60L1582.78 1331.46A535.40 535.40 0 0 1 1567.03 1361.80L1549.14 1351.78A514.90 514.90 0 0 0 1564.30 1322.60Z" fill="#c9d6e8"/>
<path d="M1545.81 1313.74L1564.30 1322.60A514.90 514.90 0 0 1 1549.14 1351.78L1531.26 1341.75A494.40 494.40 0 0 0 1545.81 1313.74Z" fill="#ee7677"/>
<path d="M1527.33 1304.87L1545.81 1313.74A494.40 494.40 0 0 1 1531.26 1341.75L1513.38 1331.73A473.90 473.90 0 0 0 1527.33 1304.87Z" fill="#2874ae"/>
<path d="M1508.84 1296.01L1527.33 1304.87A473.90 473.90 0 0 1 1513.38 1331.73L1495.50 1321.71A453.40 453.40 0 0 0 1508.84 1296.01Z" fill="#f38a89"/>
<path d="M1490.36 1287.15L1508.84 1296.01A453.40 453.40 0 0 1 1495.50 1321.71L1477.62 1311.68A432.90 432.90 0 0 0 1490.36 1287.15Z" fill="#f3f6fa"/>
<path d="M1471.87 1278.29L1490.36 1287.15A432.90 432.90 0 0 1 1477.62 1311.68L1459.73 1301.66A412.40 412.40 0 0 0 1471.87 1278.29Z" fill="#f3f6fa"/>
<path d="M1620.67 1391.87L1638.55 1401.90A617.40 617.40 0 0 1 1618.19 1435.66L1600.98 1424.51A596.90 596.90 0 0 0 1620.67 1391.87Z" fill="#ee7677"/>
<path d="M1602.79 1381.85L1620.67 1391.87A596.90 596.90 0 0 1 1600.98 1424.51L1583.78 1413.37A576.40 576.40 0 0 0 1602.79 1381.85Z" fill="#f8a09e"/>
<path d="M1584.91 1371.83L1602.79 1381.85A576.40 576.40 0 0 1 1583.78 1413.37L1566.57 1402.22A555.90 555.90 0 0 0 1584.91 1371.83Z" fill="#ee7677"/>
<path d="M1567.03 1361.80L1584.91 1371.83A555.90 555.90 0 0 1 1566.57 1402.22L1549.36 1391.08A535.40 535.40 0 0 0 1567.03 1361.80Z" fill="#c9d6e8"/>
<path d="M1549.14 1351.78L1567.03 1361.80A535.40 535.40 0 0 1 1549.36 1391.08L1532.16 1379.93A514.90 514.90 0 0 0 1549.14 1351.78Z" fill="#ee7677"/>
<path d="M1531.26 1341.75L1549.14 1351.78A514.90 514.90 0 0 1 1532.16 1379.93L1514.95 1368.79A494.40 494.40 0 0 0 1531.26 1341.75Z" fill="#9eb7d6"/>
<path d="M1513.38 1331.73L1531.26 1341.75A494.40 494.40 0 0 1 1514.95 1368.79L1497.75 1357.64A473.90 473.90 0 0 0 1513.38 1331.73Z" fill="#c9d6e8"/>
<path d="M1495.50 1321.71L1513.38 1331.73A473.90 473.90 0 0 1 1497.75 1357.64L1480.54 1346.50A453.40 453.40 0 0 0 1495.50 1321.71Z" fill="#ffdddb"/>
<path d="M1477.62 1311.68L1495.50 1321.71A453.40 453.40 0 0 1 1480.54 1346.50L1463.34 1335.35A432.90 432.90 0 0 0 1477.62 1311.68Z" fill="#ee7677"/>
<path d="M1459.73 1301.66L1477.62 1311.68A432.90 432.90 0 0 1 1463.34 1335.35L1446.13 1324.21A412.40 412.40 0 0 0 1459.73 1301.66Z" fill="#ee7677"/>
<path d="M1600.98 1424.51L1618.19 1435.66A617.40 617.40 0 0 1 1595.71 1468.04L1579.25 1455.82A596.90 596.90 0 0 0 1600.98 1424.51Z" fill="#2874ae"/>
<path d="M1583.78 1413.37L1600.98 1424.51A596.90 596.90 0 0 1 1579.25 1455.82L1562.79 1443.60A576.40 576.40 0 0 0 1583.78 1413.37Z" fill="#c9d6e8"/>
<path d="M1566.57 1402.22L1583.78 1413.37A576.40 576.40 0 0 1 1562.79 1443.60L1546.33 1431.38A555.90 555.90 0 0 0 1566.57 1402.22Z" fill="#ee7677"/>
<path d="M1549.36 1391.08L1566.57 1402.22A555.90 555.90 0 0 1 1546.33 1431.38L1529.87 1419.16A535.40 535.40 0 0 0 1549.36 1391.08Z" fill="#ffd4d2"/>
<path d="M1532.16 1379.93L1549.36 1391.08A535.40 535.40 0 0 1 1529.87 1419.16L1513.41 1406.94A514.90 514.90 0 0 0 1532.16 1379.93Z" fill="#ee7677"/>
<path d="M1514.95 1368.79L1532.16 1379.93A514.90 514.90 0 0 1 1513.41 1406.94L1496.95 1394.72A494.40 494.40 0 0 0 1514.95 1368.79Z" fill="#ffffff"/>
<path d="M1497.75 1357.64L1514.95 1368.79A494.40 494.40 0 0 1 1496.95 1394.72L1480.49 1382.50A473.90 473.90 0 0 0 1497.75 1357.64Z" fill="#ee7677"/>
<path d="M1480.54 1346.50L1497.75 1357.64A473.90 473.90 0 0 1 1480.49 1382.50L1464.03 1370.28A453.40 453.40 0 0 0 1480.54 1346.50Z" fill="#f8a09e"/>
<path d="M1463.34 1335.35L1480.54 1346.50A453.40 453.40 0 0 1 1464.03 1370.28L1447.57 1358.06A432.90 432.90 0 0 0 1463.34 1335.35Z" fill="#ee7677"/>
<path d="M1446.13 1324.21L1463.34 1335.35A432.90 432.90 0 0 1 1447.57 1358.06L1431.11 1345.84A412.40 412.40 0 0 0 1446.13 1324.21Z" fill="#c9d6e8"/>
<path d="M1579.25 1455.82L1595.71 1468.04A617.40 617.40 0 0 1 1571.21 1498.93L1555.56 1485.68A596.90 596.90 0 0 0 1579.25 1455.82Z" fill="#ffdddb"/>
<path d="M1562.79 1443.60L1579.25 1455.82A596.90 596.90 0 0 1 1555.56 1485.68L1539.92 1472.44A576.40 576.40 0 0 0 1562.79 1443.60Z" fill="#ee7677"/>
<path d="M1546.33 1431.38L1562.79 1443.60A576.40 576.40 0 0 1 1539.92 1472.44L1524.27 1459.19A555.90 555.90 0 0 0 1546.33 1431.38Z" fill="#f38a89"/>
<path d="M1529.87 1419.16L1546.33 1431.38A555.90 555.90 0 0 1 1524.27 1459.19L1508.63 1445.95A535.40 535.40 0 0 0 1529.87 1419.16Z" fill="#9eb7d6"/>
<path d="M1513.41 1406.94L1529.87 1419.16A535.40 535.40 0 0 1 1508.63 1445.95L1492.98 1432.70A514.90 514.90 0 0 0 1513.41 1406.94Z" fill="#f38a89"/>
<path d="M1496.95 1394.72L1513.41 1406.94A514.90 514.90 0 0 1 1492.98 1432.70L1477.33 1419.45A494.40 494.40 0 0 0 1496.95 1394.72Z" fill="#ffffff"/>
<path d="M1480.49 1382.50L1496.95 1394.72A494.40 494.40 0 0 1 1477.33 1419.45L1461.69 1406.21A473.90 473.90 0 0 0 1480.49 1382.50Z" fill="#ee7677"/>
<path d="M1464.03 1370.28L1480.49 1382.50A473.90 473.90 0 0 1 1461.69 1406.21L1446.04 1392.96A453.40 453.40 0 0 0 1464.03 1370.28Z" fill="#ee7677"/>
<path d="M1447.57 1358.06L1464.03 1370.28A453.40 453.40 0 0 1 1446.04 1392.96L1430.40 1379.72A432.90 432.90 0 0 0 1447.57 1358.06Z" fill="#f8a09e"/>
<path d="M1431.11 1345.84L1447.57 1358.06A432.90 432.90 0 0 1 1430.40 1379.72L1414.75 1366.47A412.40 412.40 0 0 0 1431.11 1345.84Z" fill="#fdbebb"/>
<path d="M1555.56 1485.68L1571.21 1498.93A617.40 617.40 0 0 1 1544.79 1528.19L1530.02 1513.97A596.90 596.90 0 0 0 1555.56 1485.68Z" fill="#f38a89"/>
<path d="M1539.92 1472.44L1555.56 1485.68A596.90 596.90 0 0 1 1530.02 1513.97L1515.25 1499.75A576.40 576.40 0 0 0 1539.92 1472.44Z" fill="#ee7677"/>
<path d="M1524.27 1459.19L1539.92 1472.44A576.40 576.40 0 0 1 1515.25 1499.75L1500.48 1485.54A555.90 555.90 0 0 0 1524.27 1459.19Z" fill="#ee7677"/>
<path d="M1508.63 1445.95L1524.27 1459.19A555.90 555.90 0 0 1 1500.48 1485.54L1485.71 1471.32A535.40 535.40 0 0 0 1508.63 1445.95Z" fill="#ffe7e5"/>
<path d="M1492.98 1432.70L1508.63 1445.95A535.40 535.40 0 0 1 1485.71 1471.32L1470.94 1457.10A514.90 514.90 0 0 0 1492.98 1432.70Z" fill="#ee7677"/>
<path d="M1477.33 1419.45L1492.98 1432.70A514.90 514.90 0 0 1 1470.94 1457.10L1456.18 1442.88A494.40 494.40 0 0 0 1477.33 1419.45Z" fill="#ee7677"/>
<path d="M1461.69 1406.21L1477.33 1419.45A494.40 494.40 0 0 1 1456.18 1442.88L1441.41 1428.67A473.90 473.90 0 0 0 1461.69 1406.21Z" fill="#f38a89"/>
<path d="M1446.04 1392.96L1461.69 1406.21A473.90 473.90 0 0 1 1441.41 1428.67L1426.64 1414.45A453.40 453.40 0 0 0 1446.04 1392.96Z" fill="#f8a09e"/>
<path d="M1430.40 1379.72L1446.04 1392.96A453.40 453.40 0 0 1 1426.64 1414.45L1411.87 1400.23A432.90 432.90 0 0 0 1430.40 1379.72Z" fill="#ffd4d2"/>
<path d="M1414.75 1366.47L1430.40 1379.72A432.90 432.90 0 0 1 1411.87 1400.23L1397.10 1386.01A412.40 412.40 0 0 0 1414.75 1366.47Z" fill="#9eb7d6"/>
<path d="M1530.02 1513.97L1544.79 1528.19A617.40 617.40 0 0 1 1516.55 1555.70L1502.72 1540.57A596.90 596.90 0 0 0 1530.02 1513.97Z" fill="#f8a09e"/>
<path d="M1515.25 1499.75L1530.02 1513.97A596.90 596.90 0 0 1 1502.72 1540.57L1488.89 1525.44A576.40 576.40 0 0 0 1515.25 1499.75Z" fill="#ee7677"/>
<path d="M1500.48 1485.54L1515.25 1499.75A576.40 576.40 0 0 1 1488.89 1525.44L1475.06 1510.31A555.90 555.90 0 0 0 1500.48 1485.54Z" fill="#ee7677"/>
<path d="M1485.71 1471.32L1500.48 1485.54A555.90 555.90 0 0 1 1475.06 1510.31L1461.23 1495.18A535.40 535.40 0 0 0 1485.71 1471.32Z" fill="#2874ae"/>
<path d="M1470.94 1457.10L1485.71 1471.32A535.40 535.40 0 0 1 1461.23 1495.18L1447.40 1480.05A514.90 514.90 0 0 0 1470.94 1457.10Z" fill="#ee7677"/>
<path d="M1456.18 1442.88L1470.94 1457.10A514.90 514.90 0 0 1 1447.40 1480.05L1433.57 1464.92A494.40 494.40 0 0 0 1456.18 1442.88Z" fill="#f8a09e"/>
<path d="M1441.41 1428.67L1456.18 1442.88A494.40 494.40 0 0 1 1433.57 1464.92L1419.74 1449.79A473.90 473.90 0 0 0 1441.41 1428.67Z" fill="#f8a09e"/>
<path d="M1426.64 1414.45L1441.41 1428.67A473.90 473.90 0 0 1 1419.74 1449.79L1405.90 1434.66A453.40 453.40 0 0 0 1426.64 1414.45Z" fill="#ee7677"/>
<path d="M1411.87 1400.23L1426.64 1414.45A453.40 453.40 0 0 1 1405.90 1434.66L1392.07 1419.52A432.90 432.90 0 0 0 1411.87 1400.23Z" fill="#ee7677"/>
<path d="M1397.10 1386.01L1411.87 1400.23A432.90 432.90 0 0 1 1392.07 1419.52L1378.24 1404.39A412.40 412.40 0 0 0 1397.10 1386.01Z" fill="#ffd4d2"/>
<path d="M1387.75 776.58L1401.38 761.26A453.40 453.40 0 0 1 1422.27 781.07L1407.69 795.49A432.90 432.90 0 0 0 1387.75 776.58Z" fill="#2874ae"/>
<path d="M1374.13 791.89L1387.75 776.58A432.90 432.90 0 0 1 1407.69 795.49L1393.12 809.91A412.40 412.40 0 0 0 1374.13 791.89Z" fill="#ee7677"/>
<path d="M1407.69 795.49L1422.27 781.07A453.40 453.40 0 0 1 1441.85 802.16L1426.40 815.63A432.90 432.90 0 0 0 1407.69 795.49Z" fill="#7199c5"/>
<path d="M1393.12 809.91L1407.69 795.49A432.90 432.90 0 0 1 1426.40 815.63L1410.94 829.09A412.40 412.40 0 0 0 1393.12 809.91Z" fill="#ee7677"/>
<path d="M1426.40 815.63L1441.85 802.16A453.40 453.40 0 0 1 1460.06 824.45L1443.78 836.91A432.90 432.90 0 0 0 1426.40 815.63Z" fill="#7199c5"/>
<path d="M1410.94 829.09L1426.40 815.63A432.90 432.90 0 0 1 1443.78 836.91L1427.50 849.37A412.40 412.40 0 0 0 1410.94 829.09Z" fill="#ee7677"/>
<path d="M1443.78 836.91L1460.06 824.45A453.40 453.40 0 0 1 1476.82 847.85L1459.78 859.25A432.90 432.90 0 0 0 1443.78 836.91Z" fill="#ee7677"/>
<path d="M1427.50 849.37L1443.78 836.91A432.90 432.90 0 0 1 1459.78 859.25L1442.75 870.66A412.40 412.40 0 0 0 1427.50 849.37Z" fill="#7199c5"/>
<path d="M1459.78 859.25L1476.82 847.85A453.40 453.40 0 0 1 1492.06 872.27L1474.33 882.57A432.90 432.90 0 0 0 1459.78 859.25Z" fill="#ee7677"/>
<path d="M1442.75 870.66L1459.78 859.25A432.90 432.90 0 0 1 1474.33 882.57L1456.61 892.87A412.40 412.40 0 0 0 1442.75 870.66Z" fill="#5487ba"/>
<path d="M1474.33 882.57L1492.06 872.27A453.40 453.40 0 0 1 1505.72 897.61L1487.38 906.76A432.90 432.90 0 0 0 1474.33 882.57Z" fill="#ee7677"/>
<path d="M1456.61 892.87L1474.33 882.57A432.90 432.90 0 0 1 1487.38 906.76L1469.03 915.91A412.40 412.40 0 0 0 1456.61 892.87Z" fill="#f8a09e"/>
<path d="M1487.38 906.76L1505.72 897.61A453.40 453.40 0 0 1 1517.75 923.76L1498.86 931.73A432.90 432.90 0 0 0 1487.38 906.76Z" fill="#f8a09e"/>
<path d="M1469.03 915.91L1487.38 906.76A432.90 432.90 0 0 1 1498.86 931.73L1479.97 939.70A412.40 412.40 0 0 0 1469.03 915.91Z" fill="#fdbebb"/>
<path d="M1498.86 931.73L1517.75 923.76A453.40 453.40 0 0 1 1528.09 950.62L1508.73 957.38A432.90 432.90 0 0 0 1498.86 931.73Z" fill="#ee7677"/>
<path d="M1479.97 939.70L1498.86 931.73A432.90 432.90 0 0 1 1508.73 957.38L1489.38 964.13A412.40 412.40 0 0 0 1479.97 939.70Z" fill="#e6ecf4"/>
<path d="M1508.73 957.38L1528.09 950.62A453.40 453.40 0 0 1 1536.70 978.09L1516.96 983.60A432.90 432.90 0 0 0 1508.73 957.38Z" fill="#ee7677"/>
<path d="M1489.38 964.13L1508.73 957.38A432.90 432.90 0 0 1 1516.96 983.60L1497.21 989.11A412.40 412.40 0 0 0 1489.38 964.13Z" fill="#ee7677"/>
<path d="M1516.96 983.60L1536.70 978.09A453.40 453.40 0 0 1 1543.56 1006.04L1523.50 1010.29A432.90 432.90 0 0 0 1516.96 983.60Z" fill="#f38a89"/>
<path d="M1497.21 989.11L1516.96 983.60A432.90 432.90 0 0 1 1523.50 1010.29L1503.45 1014.54A412.40 412.40 0 0 0 1497.21 989.11Z" fill="#f8a09e"/>
</g>
<g fill="none" stroke-width="4" stroke-linecap="butt">
<path d="M1153.6 709.7Q1100.0 1100.0 1086.5 1493.8" stroke="#bebebe"/>
<path d="M1078.6 706.6Q1100.0 1100.0 713.9 1178.6" stroke="#bebebe"/>
<path d="M889.6 766.9Q1100.0 1100.0 780.7 869.2" stroke="#bebebe"/>
<path d="M746.1 1273.2Q1100.0 1100.0 836.1 1392.6" stroke="#bebebe"/>
<path d="M707.1 1129.0Q1100.0 1100.0 771.0 1316.7" stroke="#bebebe"/>
<path d="M727.0 1226.9Q1100.0 1100.0 771.0 1316.7" stroke="#bebebe"/>
<path d="M713.9 1178.6Q1100.0 1100.0 1392.4 1364.1" stroke="#bebebe"/>
<path d="M1012.0 1484.1Q1100.0 1100.0 707.1 1129.0" stroke="#bebebe"/>
<path d="M709.7 1153.9Q1100.0 1100.0 1408.7 1344.9" stroke="#bebebe"/>
<path d="M1136.5 1492.3Q1100.0 1100.0 727.0 1226.9" stroke="#bebebe"/>
<path d="M1437.4 1303.5Q1100.0 1100.0 1423.7 1324.7" stroke="#bebebe"/>
<path d="M1028.8 712.5Q1100.0 1100.0 1405.1 850.7" stroke="#bebebe"/>
<path d="M1226.6 726.9Q1100.0 1100.0 918.2 1449.6" stroke="#bebebe"/>
<path d="M1226.6 726.9Q1100.0 1100.0 796.0 849.3" stroke="#bebebe"/>
<path d="M875.3 1423.7Q1100.0 1100.0 1477.8 1211.7" stroke="#bebebe"/>
<path d="M1493.8 1112.6Q1100.0 1100.0 742.7 933.9" stroke="#bebebe"/>
<path d="M1408.7 1344.9Q1100.0 1100.0 1388.7 831.9" stroke="#bebebe"/>
<path d="M1257.4 1461.2Q1100.0 1100.0 1482.7 1006.2" stroke="#bebebe"/>
<path d="M1301.9 1438.3Q1100.0 1100.0 706.6 1078.9" stroke="#bebebe"/>
<path d="M1446.8 913.0Q1100.0 1100.0 754.0 911.5" stroke="#bebebe"/>
<path d="M987.8 1477.7Q1100.0 1100.0 1210.3 1478.3" stroke="#bebebe"/>
<path d="M1004.3 717.8Q1100.0 1100.0 1111.5 1493.8" stroke="#bebebe"/>
<path d="M868.9 780.9Q1100.0 1100.0 1186.0 1484.5" stroke="#bebebe"/>
<path d="M801.1 1356.7Q1100.0 1100.0 766.7 889.9" stroke="#bebebe"/>
<path d="M933.6 742.9Q1100.0 1100.0 717.7 1004.7" stroke="#bebebe"/>
<path d="M956.6 733.0Q1100.0 1100.0 708.7 1053.9" stroke="#bebebe"/>
<path d="M980.2 724.6Q1100.0 1100.0 706.6 1078.9" stroke="#bebebe"/>
<path d="M1272.9 746.0Q1100.0 1100.0 1434.2 891.4" stroke="#ff0000"/>
<path d="M855.2 1408.7Q1100.0 1100.0 1446.8 913.0" stroke="#ff0000"/>
<path d="M712.4 1029.2Q1100.0 1100.0 1482.7 1006.2" stroke="#ff0000"/>
<path d="M1371.1 814.1Q1100.0 1100.0 1437.4 1303.5" stroke="#0000ff"/>
<path d="M1420.3 870.6Q1100.0 1100.0 1477.8 1211.7" stroke="#0000ff"/>
<path d="M1482.7 1006.2Q1100.0 1100.0 1484.2 1187.3" stroke="#0000ff"/>
</g>
<g font-family="'Liberation Sans', sans-serif" fill="#000000" stroke="#000000" stroke-width="0.45" opacity="0.999">
<text transform="translate(1416.38 544.82) rotate(-60.32)" text-anchor="start" font-size="33.9" y="12.14">K00632</text>
<text transform="translate(1380.46 525.84) rotate(-63.97)" text-anchor="start" font-size="33.9" y="12.14">K01696</text>
<text transform="translate(1343.40 509.17) rotate(-67.61)" text-anchor="start" font-size="33.9" y="12.14">K01990</text>
<text transform="translate(1305.36 494.90) rotate(-71.25)" text-anchor="start" font-size="33.9" y="12.14">K02082</text>
<text transform="translate(1266.48 483.07) rotate(-74.90)" text-anchor="start" font-size="33.9" y="12.14">K01489</text>
<text transform="translate(1226.94 473.73) rotate(-78.54)" text-anchor="start" font-size="33.9" y="12.14">K00090</text>
<text transform="translate(1186.87 466.93) rotate(-82.19)" text-anchor="start" font-size="33.9" y="12.14">K00121</text>
<text transform="translate(1146.46 462.69) rotate(-85.83)" text-anchor="start" font-size="33.9" y="12.14">K02217</text>
<text transform="translate(1105.86 461.03) rotate(-89.47)" text-anchor="start" font-size="33.9" y="12.14">K01725</text>
<text transform="translate(1065.24 461.95) rotate(86.88)" text-anchor="end" font-size="33.9" y="12.14">K01446</text>
<text transform="translate(1024.76 465.45) rotate(83.24)" text-anchor="end" font-size="33.9" y="12.14">K01791</text>
<text transform="translate(984.58 471.51) rotate(79.59)" text-anchor="end" font-size="33.9" y="12.14">K00784</text>
<text transform="translate(944.87 480.12) rotate(75.95)" text-anchor="end" font-size="33.9" y="12.14">K01697</text>
<text transform="translate(905.78 491.23) rotate(72.31)" text-anchor="end" font-size="33.9" y="12.14">K01174</text>
<text transform="translate(867.48 504.81) rotate(68.66)" text-anchor="end" font-size="33.9" y="12.14">K02275</text>
<text transform="translate(830.12 520.79) rotate(65.02)" text-anchor="end" font-size="33.9" y="12.14">K00231</text>
<text transform="translate(793.86 539.11) rotate(61.37)" text-anchor="end" font-size="33.9" y="12.14">K00023</text>
<text transform="translate(758.83 559.70) rotate(57.73)" text-anchor="end" font-size="33.9" y="12.14">K00849</text>
<text transform="translate(725.18 582.48) rotate(54.09)" text-anchor="end" font-size="33.9" y="12.14">K01737</text>
<text transform="translate(693.04 607.35) rotate(50.44)" text-anchor="end" font-size="33.9" y="12.14">K00053</text>
<text transform="translate(662.55 634.21) rotate(46.80)" text-anchor="end" font-size="33.9" y="12.14">K00065</text>
<text transform="translate(633.83 662.95) rotate(43.15)" text-anchor="end" font-size="33.9" y="12.14">K02065</text>
<text transform="translate(607.00 693.47) rotate(39.51)" text-anchor="end" font-size="33.9" y="12.14">K00626</text>
<text transform="translate(582.16 725.62) rotate(35.87)" text-anchor="end" font-size="33.9" y="12.14">K01890</text>
<text transform="translate(559.41 759.29) rotate(32.22)" text-anchor="end" font-size="33.9" y="12.14">K00648</text>
<text transform="translate(538.85 794.34) rotate(28.58)" text-anchor="end" font-size="33.9" y="12.14">K01710</text>
<text transform="translate(520.55 830.62) rotate(24.93)" text-anchor="end" font-size="33.9" y="12.14">K01715</text>
<text transform="translate(504.61 867.99) rotate(21.29)" text-anchor="end" font-size="33.9" y="12.14">K01692</text>
<text transform="translate(491.06 906.31) rotate(17.65)" text-anchor="end" font-size="33.9" y="12.14">K02182</text>
<text transform="translate(479.98 945.40) rotate(14.00)" text-anchor="end" font-size="33.9" y="12.14">K02003</text>
<text transform="translate(471.41 985.12) rotate(10.36)" text-anchor="end" font-size="33.9" y="12.14">K01971</text>
<text transform="translate(465.38 1025.30) rotate(6.71)" text-anchor="end" font-size="33.9" y="12.14">K00226</text>
<text transform="translate(461.92 1065.79) rotate(3.07)" text-anchor="end" font-size="33.9" y="12.14">K02037</text>
<text transform="translate(461.03 1106.41) rotate(-0.57)" text-anchor="end" font-size="33.9" y="12.14">K01712</text>
<text transform="translate(462.73 1147.01) rotate(-4.22)" text-anchor="end" font-size="33.9" y="12.14">K01246</text>
<text transform="translate(467.01 1187.42) rotate(-7.86)" text-anchor="end" font-size="33.9" y="12.14">K01463</text>
<text transform="translate(473.84 1227.47) rotate(-11.51)" text-anchor="end" font-size="33.9" y="12.14">K00101</text>
<text transform="translate(483.21 1267.01) rotate(-15.15)" text-anchor="end" font-size="33.9" y="12.14">K01488</text>
<text transform="translate(495.07 1305.88) rotate(-18.80)" text-anchor="end" font-size="33.9" y="12.14">K01834</text>
<text transform="translate(509.38 1343.91) rotate(-22.44)" text-anchor="end" font-size="33.9" y="12.14">K01796</text>
<text transform="translate(526.08 1380.95) rotate(-26.08)" text-anchor="end" font-size="33.9" y="12.14">K00249</text>
<text transform="translate(545.10 1416.86) rotate(-29.73)" text-anchor="end" font-size="33.9" y="12.14">K01805</text>
<text transform="translate(566.36 1451.49) rotate(-33.37)" text-anchor="end" font-size="33.9" y="12.14">K00858</text>
<text transform="translate(589.77 1484.70) rotate(-37.02)" text-anchor="end" font-size="33.9" y="12.14">K02005</text>
<text transform="translate(615.26 1516.35) rotate(-40.66)" text-anchor="end" font-size="33.9" y="12.14">K01448</text>
<text transform="translate(642.70 1546.31) rotate(-44.30)" text-anchor="end" font-size="33.9" y="12.14">K00019</text>
<text transform="translate(671.99 1574.48) rotate(-47.95)" text-anchor="end" font-size="33.9" y="12.14">K02031</text>
<text transform="translate(703.01 1600.72) rotate(-51.59)" text-anchor="end" font-size="33.9" y="12.14">K00806</text>
<text transform="translate(735.64 1624.94) rotate(-55.24)" text-anchor="end" font-size="33.9" y="12.14">K01668</text>
<text transform="translate(769.74 1647.04) rotate(-58.88)" text-anchor="end" font-size="33.9" y="12.14">K01266</text>
<text transform="translate(805.18 1666.92) rotate(-62.52)" text-anchor="end" font-size="33.9" y="12.14">K00108</text>
<text transform="translate(841.80 1684.51) rotate(-66.17)" text-anchor="end" font-size="33.9" y="12.14">K01644</text>
<text transform="translate(879.48 1699.74) rotate(-69.81)" text-anchor="end" font-size="33.9" y="12.14">K00799</text>
<text transform="translate(918.04 1712.54) rotate(-73.46)" text-anchor="end" font-size="33.9" y="12.14">K01667</text>
<text transform="translate(957.34 1722.87) rotate(-77.10)" text-anchor="end" font-size="33.9" y="12.14">K01685</text>
<text transform="translate(997.22 1730.68) rotate(-80.74)" text-anchor="end" font-size="33.9" y="12.14">K00266</text>
<text transform="translate(1037.51 1735.94) rotate(-84.39)" text-anchor="end" font-size="33.9" y="12.14">K01438</text>
<text transform="translate(1078.05 1738.62) rotate(-88.03)" text-anchor="end" font-size="33.9" y="12.14">K02124</text>
<text transform="translate(1118.69 1738.73) rotate(-271.68)" text-anchor="start" font-size="33.9" y="12.14">K01142</text>
<text transform="translate(1159.24 1736.25) rotate(-275.32)" text-anchor="start" font-size="33.9" y="12.14">K00639</text>
<text transform="translate(1199.56 1731.20) rotate(-278.96)" text-anchor="start" font-size="33.9" y="12.14">K02339</text>
<text transform="translate(1239.48 1723.59) rotate(-282.61)" text-anchor="start" font-size="33.9" y="12.14">K01428</text>
<text transform="translate(1278.83 1713.47) rotate(-286.25)" text-anchor="start" font-size="33.9" y="12.14">K01176</text>
<text transform="translate(1317.46 1700.86) rotate(-289.90)" text-anchor="start" font-size="33.9" y="12.14">K01151</text>
<text transform="translate(1355.21 1685.82) rotate(-293.54)" text-anchor="start" font-size="33.9" y="12.14">K00800</text>
<text transform="translate(1391.93 1668.42) rotate(-297.18)" text-anchor="start" font-size="33.9" y="12.14">K01619</text>
<text transform="translate(1427.46 1648.72) rotate(-300.83)" text-anchor="start" font-size="33.9" y="12.14">K00803</text>
<text transform="translate(1738.67 1120.40) rotate(1.83)" text-anchor="start" font-size="33.9" y="12.14">1.13.12.16</text>
<text transform="translate(1736.07 1161.12) rotate(5.49)" text-anchor="start" font-size="33.9" y="12.14">2.1.1.165</text>
<text transform="translate(1730.87 1201.59) rotate(9.15)" text-anchor="start" font-size="33.9" y="12.14">5.1.99.4</text>
<text transform="translate(1723.10 1241.65) rotate(12.81)" text-anchor="start" font-size="33.9" y="12.14">5.4.1.3</text>
<text transform="translate(1712.79 1281.13) rotate(16.47)" text-anchor="start" font-size="33.9" y="12.14">1.1.5.−</text>
<text transform="translate(1699.98 1319.87) rotate(20.13)" text-anchor="start" font-size="33.9" y="12.14">1.1.2.3</text>
<text transform="translate(1684.73 1357.71) rotate(23.79)" text-anchor="start" font-size="33.9" y="12.14">1.8.4.−</text>
<text transform="translate(1667.09 1394.51) rotate(27.44)" text-anchor="start" font-size="33.9" y="12.14">4.2.1.28</text>
<text transform="translate(1647.13 1430.10) rotate(31.10)" text-anchor="start" font-size="33.9" y="12.14">1.1.99.1</text>
<text transform="translate(1624.95 1464.34) rotate(34.76)" text-anchor="start" font-size="33.9" y="12.14">1.17.4.1</text>
<text transform="translate(1600.63 1497.11) rotate(38.42)" text-anchor="start" font-size="33.9" y="12.14">4.2.99.20</text>
<text transform="translate(1574.26 1528.25) rotate(42.08)" text-anchor="start" font-size="33.9" y="12.14">1.1.1.86</text>
<text transform="translate(1545.96 1557.64) rotate(45.74)" text-anchor="start" font-size="33.9" y="12.14">4.2.1.82</text>
<text transform="translate(1426.43 755.76) rotate(-46.52)" text-anchor="start" font-size="23.4" y="8.38">Bacteroidetes</text>
<text transform="translate(1447.61 777.17) rotate(-42.88)" text-anchor="start" font-size="23.4" y="8.38">Verrucomicrobia</text>
<text transform="translate(1467.40 799.88) rotate(-39.25)" text-anchor="start" font-size="23.4" y="8.38">Firmicutes</text>
<text transform="translate(1485.70 823.79) rotate(-35.61)" text-anchor="start" font-size="23.4" y="8.38">unidentified_Acidobacteria</text>
<text transform="translate(1502.45 848.82) rotate(-31.97)" text-anchor="start" font-size="23.4" y="8.38">Actinobacteria</text>
<text transform="translate(1517.58 874.87) rotate(-28.33)" text-anchor="start" font-size="23.4" y="8.38">Planctomycetes</text>
<text transform="translate(1531.02 901.82) rotate(-24.69)" text-anchor="start" font-size="23.4" y="8.38">Gemmatimonadetes</text>
<text transform="translate(1542.73 929.57) rotate(-21.05)" text-anchor="start" font-size="23.4" y="8.38">Proteobacteria</text>
<text transform="translate(1552.65 958.00) rotate(-17.42)" text-anchor="start" font-size="23.4" y="8.38">Acidobacteria</text>
<text transform="translate(1560.75 987.01) rotate(-13.78)" text-anchor="start" font-size="23.4" y="8.38">Chloroflexi</text>
<text transform="translate(1375.50 1420.52) rotate(139.32)" text-anchor="start" font-size="22.8" y="8.16">PS5</text>
<text transform="translate(1388.86 1436.07) rotate(139.32)" text-anchor="start" font-size="22.8" y="8.16">PS4</text>
<text transform="translate(1402.22 1451.61) rotate(139.32)" text-anchor="start" font-size="22.8" y="8.16">PS3</text>
<text transform="translate(1415.59 1467.16) rotate(139.32)" text-anchor="start" font-size="22.8" y="8.16">PS2</text>
<text transform="translate(1428.95 1482.71) rotate(139.32)" text-anchor="start" font-size="22.8" y="8.16">PS1</text>
<text transform="translate(1442.31 1498.25) rotate(139.32)" text-anchor="start" font-size="22.8" y="8.16">H5</text>
<text transform="translate(1455.67 1513.80) rotate(139.32)" text-anchor="start" font-size="22.8" y="8.16">H4</text>
<text transform="translate(1469.04 1529.35) rotate(139.32)" text-anchor="start" font-size="22.8" y="8.16">H3</text>
<text transform="translate(1482.40 1544.89) rotate(139.32)" text-anchor="start" font-size="22.8" y="8.16">H2</text>
<text transform="translate(1495.76 1560.44) rotate(139.32)" text-anchor="start" font-size="22.8" y="8.16">H1</text>
<text transform="translate(1516.15 1026.17) rotate(79.94)" text-anchor="start" font-size="23.4" y="8.38">PS</text>
<text transform="translate(1536.34 1022.59) rotate(79.94)" text-anchor="start" font-size="23.4" y="8.38">H</text>
</g>
<defs><linearGradient id="lg" x1="0" y1="0" x2="0" y2="1">
<stop offset="-0.0001" stop-color="#ee7677"/>
<stop offset="0.0387" stop-color="#ee7677"/>
<stop offset="0.1541" stop-color="#f79997"/>
<stop offset="0.2695" stop-color="#fdbbb9"/>
<stop offset="0.3849" stop-color="#ffdddb"/>
<stop offset="0.5003" stop-color="#ffffff"/>
<stop offset="0.6157" stop-color="#cfdaeb"/>
<stop offset="0.7311" stop-color="#9eb7d6"/>
<stop offset="0.8465" stop-color="#6b95c2"/>
<stop offset="0.9619" stop-color="#2874ae"/>
<stop offset="1.0007" stop-color="#2874ae"/>
</linearGradient></defs>
<rect x="2282" y="926" width="69" height="349" rx="3" fill="url(#lg)"/>
<g stroke="#ffffff" stroke-width="4.4" stroke-linecap="round">
<path d="M2284 939.5H2298M2335 939.5H2349"/>
<path d="M2284 1020.0H2298M2335 1020.0H2349"/>
<path d="M2284 1100.6H2298M2335 1100.6H2349"/>
<path d="M2284 1181.1H2298M2335 1181.1H2349"/>
<path d="M2284 1261.7H2298M2335 1261.7H2349"/>
</g>
<g font-family="'Liberation Sans', sans-serif" fill="#000000" stroke="#000000" stroke-width="0.6" font-size="56.4" opacity="0.999">
<text x="2366" y="958.7">1</text>
<text x="2366" y="1039.2">0.5</text>
<text x="2366" y="1119.8">0</text>
<text x="2366" y="1200.3">−0.5</text>
<text x="2366" y="1280.9">−1</text>
</g>
</svg>
</body></html>
